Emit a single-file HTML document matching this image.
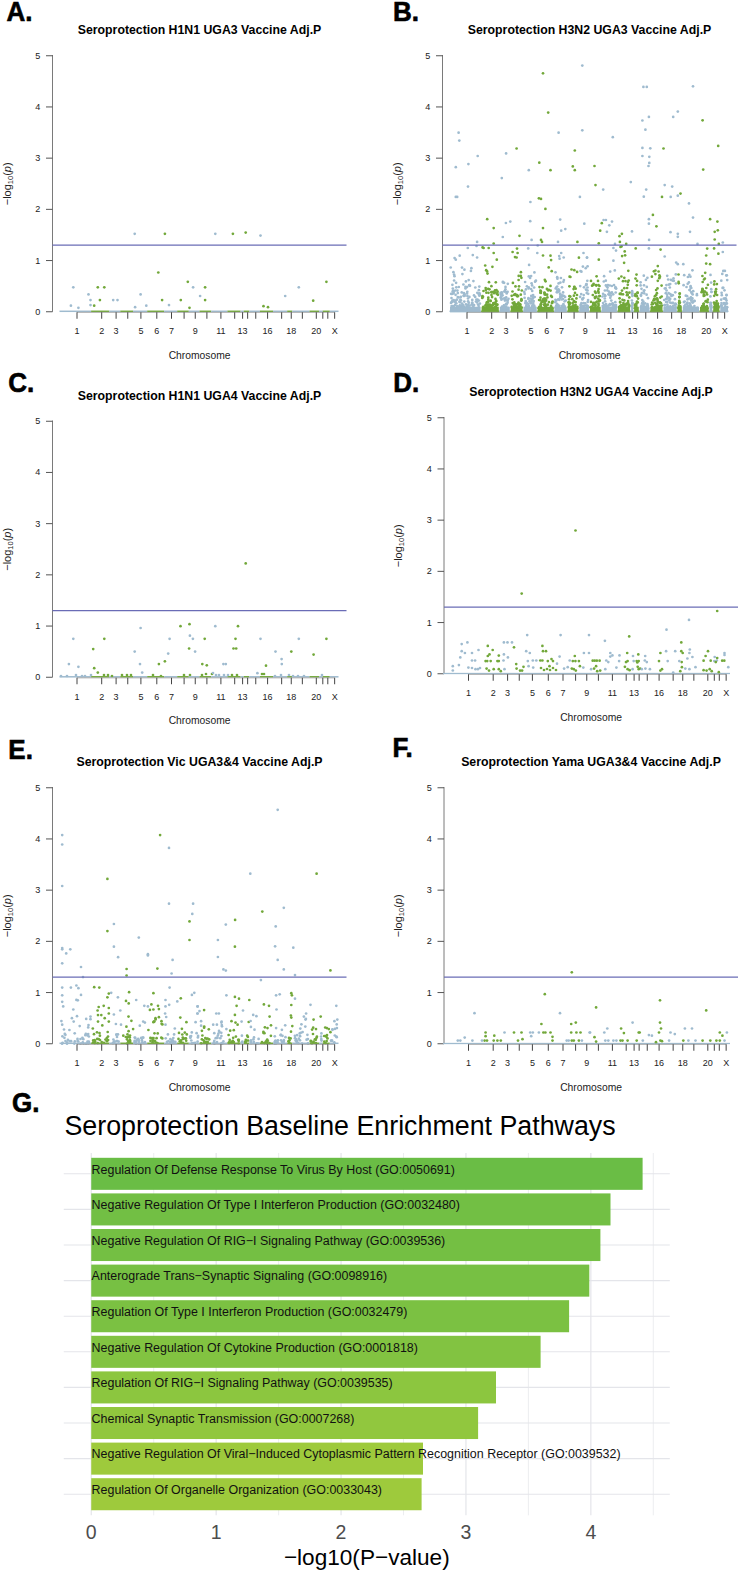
<!DOCTYPE html><html><head><meta charset="utf-8"><style>
html,body{margin:0;padding:0;background:#fff;}
svg{display:block;font-family:"Liberation Sans",sans-serif;}
.lab{font-size:26px;font-weight:700;fill:#000;stroke:#000;stroke-width:0.6px;}
.ttl{font-size:12.3px;font-weight:700;fill:#000;}
.tk{font-size:9.1px;fill:#222;}
.tk2{font-size:9px;fill:#222;}
.xl{font-size:10.3px;fill:#222;}
.yl{font-size:11px;fill:#222;}
.gt{font-size:26.8px;fill:#000;}
.bl{font-size:12.45px;fill:#111;}
.gx{font-size:19.5px;fill:#4d4d4d;}
.gxl{font-size:22.6px;fill:#000;}
</style></head><body><svg width="740" height="1573" viewBox="0 0 740 1573">
<text transform="translate(6.60,20.70) scale(1,1.07)" class="lab">A.</text>
<text x="199.5" y="34.3" class="ttl" text-anchor="middle">Seroprotection H1N1 UGA3 Vaccine Adj.P</text>
<line x1="52.5" y1="55" x2="52.5" y2="311.75" stroke="#7a7a7a" stroke-width="1"/>
<line x1="46.0" y1="311.75" x2="52.5" y2="311.75" stroke="#555" stroke-width="1"/>
<text x="37.7" y="314.75" class="tk" text-anchor="middle">0</text>
<line x1="46.0" y1="260.55" x2="52.5" y2="260.55" stroke="#555" stroke-width="1"/>
<text x="37.7" y="263.55" class="tk" text-anchor="middle">1</text>
<line x1="46.0" y1="209.35" x2="52.5" y2="209.35" stroke="#555" stroke-width="1"/>
<text x="37.7" y="212.35" class="tk" text-anchor="middle">2</text>
<line x1="46.0" y1="158.15" x2="52.5" y2="158.15" stroke="#555" stroke-width="1"/>
<text x="37.7" y="161.15" class="tk" text-anchor="middle">3</text>
<line x1="46.0" y1="106.95" x2="52.5" y2="106.95" stroke="#555" stroke-width="1"/>
<text x="37.7" y="109.95" class="tk" text-anchor="middle">4</text>
<line x1="46.0" y1="55.75" x2="52.5" y2="55.75" stroke="#555" stroke-width="1"/>
<text x="37.7" y="58.75" class="tk" text-anchor="middle">5</text>
<text transform="translate(10.7,183.8) rotate(-90)" class="yl" text-anchor="middle">−log<tspan font-size="7.5" dy="2.2">10</tspan><tspan dy="-2.2">(</tspan><tspan font-style="italic">p</tspan>)</text>
<rect x="59.50" y="310.55" width="31.60" height="1.5" fill="#9fbbcf"/>
<rect x="91.10" y="310.55" width="18.20" height="1.5" fill="#72a83a"/>
<rect x="109.30" y="310.55" width="11.00" height="1.5" fill="#9fbbcf"/>
<rect x="120.30" y="310.55" width="12.70" height="1.5" fill="#72a83a"/>
<rect x="133.00" y="310.55" width="14.20" height="1.5" fill="#9fbbcf"/>
<rect x="147.20" y="310.55" width="16.90" height="1.5" fill="#72a83a"/>
<rect x="164.10" y="310.55" width="13.10" height="1.5" fill="#9fbbcf"/>
<rect x="177.20" y="310.55" width="11.60" height="1.5" fill="#72a83a"/>
<rect x="188.80" y="310.55" width="10.70" height="1.5" fill="#9fbbcf"/>
<rect x="199.50" y="310.55" width="11.70" height="1.5" fill="#72a83a"/>
<rect x="211.20" y="310.55" width="16.20" height="1.5" fill="#9fbbcf"/>
<rect x="227.40" y="310.55" width="13.20" height="1.5" fill="#72a83a"/>
<rect x="240.60" y="310.55" width="3.10" height="1.5" fill="#9fbbcf"/>
<rect x="243.70" y="310.55" width="5.60" height="1.5" fill="#72a83a"/>
<rect x="249.30" y="310.55" width="10.60" height="1.5" fill="#9fbbcf"/>
<rect x="259.90" y="310.55" width="13.10" height="1.5" fill="#72a83a"/>
<rect x="273.00" y="310.55" width="14.20" height="1.5" fill="#9fbbcf"/>
<rect x="287.20" y="310.55" width="5.10" height="1.5" fill="#72a83a"/>
<rect x="292.30" y="310.55" width="17.20" height="1.5" fill="#9fbbcf"/>
<rect x="309.50" y="310.55" width="9.60" height="1.5" fill="#72a83a"/>
<rect x="319.10" y="310.55" width="3.60" height="1.5" fill="#9fbbcf"/>
<rect x="322.70" y="310.55" width="7.10" height="1.5" fill="#72a83a"/>
<rect x="329.80" y="310.55" width="8.70" height="1.5" fill="#9fbbcf"/>
<circle cx="73.3" cy="287.3" r="1.35" fill="#9fbbcf"/>
<circle cx="70.9" cy="305.7" r="1.35" fill="#9fbbcf"/>
<circle cx="78.4" cy="307.8" r="1.35" fill="#9fbbcf"/>
<circle cx="88.5" cy="294.4" r="1.35" fill="#9fbbcf"/>
<circle cx="90.5" cy="300.1" r="1.35" fill="#9fbbcf"/>
<circle cx="90.5" cy="305.1" r="1.35" fill="#9fbbcf"/>
<circle cx="94.2" cy="305.7" r="1.35" fill="#72a83a"/>
<circle cx="97.8" cy="287.3" r="1.35" fill="#72a83a"/>
<circle cx="99.9" cy="300.1" r="1.35" fill="#72a83a"/>
<circle cx="104.3" cy="287.3" r="1.35" fill="#72a83a"/>
<circle cx="113.2" cy="300.1" r="1.35" fill="#9fbbcf"/>
<circle cx="117.5" cy="300.1" r="1.35" fill="#9fbbcf"/>
<circle cx="134.7" cy="233.8" r="1.35" fill="#9fbbcf"/>
<circle cx="135.1" cy="307.2" r="1.35" fill="#9fbbcf"/>
<circle cx="140.6" cy="294.4" r="1.35" fill="#9fbbcf"/>
<circle cx="146.3" cy="305.7" r="1.35" fill="#9fbbcf"/>
<circle cx="158.3" cy="272.5" r="1.35" fill="#72a83a"/>
<circle cx="164.9" cy="233.8" r="1.35" fill="#72a83a"/>
<circle cx="162.1" cy="300.1" r="1.35" fill="#72a83a"/>
<circle cx="169.0" cy="305.1" r="1.35" fill="#9fbbcf"/>
<circle cx="180.8" cy="300.1" r="1.35" fill="#72a83a"/>
<circle cx="187.8" cy="281.8" r="1.35" fill="#72a83a"/>
<circle cx="189.5" cy="307.8" r="1.35" fill="#72a83a"/>
<circle cx="193.1" cy="287.3" r="1.35" fill="#9fbbcf"/>
<circle cx="200.1" cy="296.0" r="1.35" fill="#9fbbcf"/>
<circle cx="205.1" cy="287.3" r="1.35" fill="#72a83a"/>
<circle cx="205.1" cy="300.1" r="1.35" fill="#72a83a"/>
<circle cx="215.3" cy="233.8" r="1.35" fill="#9fbbcf"/>
<circle cx="232.9" cy="233.8" r="1.35" fill="#72a83a"/>
<circle cx="245.7" cy="232.6" r="1.35" fill="#72a83a"/>
<circle cx="260.5" cy="235.6" r="1.35" fill="#9fbbcf"/>
<circle cx="263.5" cy="306.2" r="1.35" fill="#72a83a"/>
<circle cx="268.0" cy="307.2" r="1.35" fill="#72a83a"/>
<circle cx="285.2" cy="296.0" r="1.35" fill="#9fbbcf"/>
<circle cx="298.8" cy="287.3" r="1.35" fill="#9fbbcf"/>
<circle cx="313.2" cy="300.7" r="1.35" fill="#72a83a"/>
<circle cx="326.4" cy="281.8" r="1.35" fill="#72a83a"/>
<line x1="52.5" y1="245.14" x2="346.5" y2="245.14" stroke="#6a6cb6" stroke-width="1.4"/>
<line x1="77" y1="312.35" x2="334.65" y2="312.35" stroke="#999" stroke-width="0.8"/>
<line x1="77" y1="312.25" x2="77" y2="318.75" stroke="#444" stroke-width="1"/>
<text x="77" y="334.05" class="tk2" text-anchor="middle">1</text>
<line x1="101.7" y1="312.25" x2="101.7" y2="318.75" stroke="#444" stroke-width="1"/>
<text x="101.7" y="334.05" class="tk2" text-anchor="middle">2</text>
<line x1="116.1" y1="312.25" x2="116.1" y2="318.75" stroke="#444" stroke-width="1"/>
<text x="116.1" y="334.05" class="tk2" text-anchor="middle">3</text>
<line x1="127.75" y1="312.25" x2="127.75" y2="318.75" stroke="#444" stroke-width="1"/>
<line x1="140.9" y1="312.25" x2="140.9" y2="318.75" stroke="#444" stroke-width="1"/>
<text x="140.9" y="334.05" class="tk2" text-anchor="middle">5</text>
<line x1="156.8" y1="312.25" x2="156.8" y2="318.75" stroke="#444" stroke-width="1"/>
<text x="156.8" y="334.05" class="tk2" text-anchor="middle">6</text>
<line x1="171.5" y1="312.25" x2="171.5" y2="318.75" stroke="#444" stroke-width="1"/>
<text x="171.5" y="334.05" class="tk2" text-anchor="middle">7</text>
<line x1="184.1" y1="312.25" x2="184.1" y2="318.75" stroke="#444" stroke-width="1"/>
<line x1="195.25" y1="312.25" x2="195.25" y2="318.75" stroke="#444" stroke-width="1"/>
<text x="195.25" y="334.05" class="tk2" text-anchor="middle">9</text>
<line x1="206.9" y1="312.25" x2="206.9" y2="318.75" stroke="#444" stroke-width="1"/>
<line x1="220.9" y1="312.25" x2="220.9" y2="318.75" stroke="#444" stroke-width="1"/>
<text x="220.9" y="334.05" class="tk2" text-anchor="middle">11</text>
<line x1="234.7" y1="312.25" x2="234.7" y2="318.75" stroke="#444" stroke-width="1"/>
<line x1="242.6" y1="312.25" x2="242.6" y2="318.75" stroke="#444" stroke-width="1"/>
<text x="242.6" y="334.05" class="tk2" text-anchor="middle">13</text>
<line x1="247.65" y1="312.25" x2="247.65" y2="318.75" stroke="#444" stroke-width="1"/>
<line x1="255.75" y1="312.25" x2="255.75" y2="318.75" stroke="#444" stroke-width="1"/>
<line x1="267.6" y1="312.25" x2="267.6" y2="318.75" stroke="#444" stroke-width="1"/>
<text x="267.6" y="334.05" class="tk2" text-anchor="middle">16</text>
<line x1="281.65" y1="312.25" x2="281.65" y2="318.75" stroke="#444" stroke-width="1"/>
<line x1="291.25" y1="312.25" x2="291.25" y2="318.75" stroke="#444" stroke-width="1"/>
<text x="291.25" y="334.05" class="tk2" text-anchor="middle">18</text>
<line x1="302.35" y1="312.25" x2="302.35" y2="318.75" stroke="#444" stroke-width="1"/>
<line x1="316.3" y1="312.25" x2="316.3" y2="318.75" stroke="#444" stroke-width="1"/>
<text x="316.3" y="334.05" class="tk2" text-anchor="middle">20</text>
<line x1="322.8" y1="312.25" x2="322.8" y2="318.75" stroke="#444" stroke-width="1"/>
<line x1="327.8" y1="312.25" x2="327.8" y2="318.75" stroke="#444" stroke-width="1"/>
<line x1="334.65" y1="312.25" x2="334.65" y2="318.75" stroke="#444" stroke-width="1"/>
<text x="334.65" y="334.05" class="tk2" text-anchor="middle">X</text>
<text x="199.6" y="358.75" class="xl" text-anchor="middle">Chromosome</text>
<rect x="450.00" y="306.75" width="30.60" height="5.60" fill="#9fbbcf"/>
<rect x="481.60" y="306.75" width="17.20" height="5.60" fill="#72a83a"/>
<rect x="499.80" y="306.75" width="10.00" height="5.60" fill="#9fbbcf"/>
<rect x="510.80" y="306.75" width="11.70" height="5.60" fill="#72a83a"/>
<rect x="523.50" y="306.75" width="13.20" height="5.60" fill="#9fbbcf"/>
<rect x="537.70" y="306.75" width="15.90" height="5.60" fill="#72a83a"/>
<rect x="554.60" y="306.75" width="12.10" height="5.60" fill="#9fbbcf"/>
<rect x="567.70" y="306.75" width="10.60" height="5.60" fill="#72a83a"/>
<rect x="579.30" y="306.75" width="9.70" height="5.60" fill="#9fbbcf"/>
<rect x="590.00" y="306.75" width="10.70" height="5.60" fill="#72a83a"/>
<rect x="601.70" y="306.75" width="15.20" height="5.60" fill="#9fbbcf"/>
<rect x="617.90" y="306.75" width="12.20" height="5.60" fill="#72a83a"/>
<rect x="631.10" y="306.75" width="2.10" height="5.60" fill="#9fbbcf"/>
<rect x="634.20" y="306.75" width="4.60" height="5.60" fill="#72a83a"/>
<rect x="639.80" y="306.75" width="9.60" height="5.60" fill="#9fbbcf"/>
<rect x="650.40" y="306.75" width="12.10" height="5.60" fill="#72a83a"/>
<rect x="663.50" y="306.75" width="13.20" height="5.60" fill="#9fbbcf"/>
<rect x="677.70" y="306.75" width="4.10" height="5.60" fill="#72a83a"/>
<rect x="682.80" y="306.75" width="16.20" height="5.60" fill="#9fbbcf"/>
<rect x="700.00" y="306.75" width="8.60" height="5.60" fill="#72a83a"/>
<rect x="709.60" y="306.75" width="2.60" height="5.60" fill="#9fbbcf"/>
<rect x="713.20" y="306.75" width="6.10" height="5.60" fill="#72a83a"/>
<rect x="720.30" y="306.75" width="7.70" height="5.60" fill="#9fbbcf"/>
<text transform="translate(393.00,20.70) scale(1,1.07)" class="lab">B.</text>
<text x="589.5" y="34.3" class="ttl" text-anchor="middle">Seroprotection H3N2 UGA3 Vaccine Adj.P</text>
<line x1="442.5" y1="55" x2="442.5" y2="311.75" stroke="#7a7a7a" stroke-width="1"/>
<line x1="436.0" y1="311.75" x2="442.5" y2="311.75" stroke="#555" stroke-width="1"/>
<text x="427.7" y="314.75" class="tk" text-anchor="middle">0</text>
<line x1="436.0" y1="260.55" x2="442.5" y2="260.55" stroke="#555" stroke-width="1"/>
<text x="427.7" y="263.55" class="tk" text-anchor="middle">1</text>
<line x1="436.0" y1="209.35" x2="442.5" y2="209.35" stroke="#555" stroke-width="1"/>
<text x="427.7" y="212.35" class="tk" text-anchor="middle">2</text>
<line x1="436.0" y1="158.15" x2="442.5" y2="158.15" stroke="#555" stroke-width="1"/>
<text x="427.7" y="161.15" class="tk" text-anchor="middle">3</text>
<line x1="436.0" y1="106.95" x2="442.5" y2="106.95" stroke="#555" stroke-width="1"/>
<text x="427.7" y="109.95" class="tk" text-anchor="middle">4</text>
<line x1="436.0" y1="55.75" x2="442.5" y2="55.75" stroke="#555" stroke-width="1"/>
<text x="427.7" y="58.75" class="tk" text-anchor="middle">5</text>
<text transform="translate(400.7,183.8) rotate(-90)" class="yl" text-anchor="middle">−log<tspan font-size="7.5" dy="2.2">10</tspan><tspan dy="-2.2">(</tspan><tspan font-style="italic">p</tspan>)</text>
<rect x="449.50" y="310.55" width="31.60" height="1.5" fill="#9fbbcf"/>
<rect x="481.10" y="310.55" width="18.20" height="1.5" fill="#72a83a"/>
<rect x="499.30" y="310.55" width="11.00" height="1.5" fill="#9fbbcf"/>
<rect x="510.30" y="310.55" width="12.70" height="1.5" fill="#72a83a"/>
<rect x="523.00" y="310.55" width="14.20" height="1.5" fill="#9fbbcf"/>
<rect x="537.20" y="310.55" width="16.90" height="1.5" fill="#72a83a"/>
<rect x="554.10" y="310.55" width="13.10" height="1.5" fill="#9fbbcf"/>
<rect x="567.20" y="310.55" width="11.60" height="1.5" fill="#72a83a"/>
<rect x="578.80" y="310.55" width="10.70" height="1.5" fill="#9fbbcf"/>
<rect x="589.50" y="310.55" width="11.70" height="1.5" fill="#72a83a"/>
<rect x="601.20" y="310.55" width="16.20" height="1.5" fill="#9fbbcf"/>
<rect x="617.40" y="310.55" width="13.20" height="1.5" fill="#72a83a"/>
<rect x="630.60" y="310.55" width="3.10" height="1.5" fill="#9fbbcf"/>
<rect x="633.70" y="310.55" width="5.60" height="1.5" fill="#72a83a"/>
<rect x="639.30" y="310.55" width="10.60" height="1.5" fill="#9fbbcf"/>
<rect x="649.90" y="310.55" width="13.10" height="1.5" fill="#72a83a"/>
<rect x="663.00" y="310.55" width="14.20" height="1.5" fill="#9fbbcf"/>
<rect x="677.20" y="310.55" width="5.10" height="1.5" fill="#72a83a"/>
<rect x="682.30" y="310.55" width="17.20" height="1.5" fill="#9fbbcf"/>
<rect x="699.50" y="310.55" width="9.60" height="1.5" fill="#72a83a"/>
<rect x="709.10" y="310.55" width="3.60" height="1.5" fill="#9fbbcf"/>
<rect x="712.70" y="310.55" width="7.10" height="1.5" fill="#72a83a"/>
<rect x="719.80" y="310.55" width="8.70" height="1.5" fill="#9fbbcf"/>
<circle cx="582.3" cy="65.6" r="1.35" fill="#9fbbcf"/>
<circle cx="543.0" cy="73.3" r="1.35" fill="#72a83a"/>
<circle cx="548.2" cy="112.6" r="1.35" fill="#72a83a"/>
<circle cx="458.6" cy="132.7" r="1.35" fill="#9fbbcf"/>
<circle cx="459.3" cy="140.6" r="1.35" fill="#9fbbcf"/>
<circle cx="558.6" cy="132.7" r="1.35" fill="#9fbbcf"/>
<circle cx="582.3" cy="130.3" r="1.35" fill="#9fbbcf"/>
<circle cx="516.6" cy="148.5" r="1.35" fill="#72a83a"/>
<circle cx="574.8" cy="150.5" r="1.35" fill="#72a83a"/>
<circle cx="477.7" cy="156.0" r="1.35" fill="#9fbbcf"/>
<circle cx="506.1" cy="153.4" r="1.35" fill="#9fbbcf"/>
<circle cx="468.4" cy="164.1" r="1.35" fill="#9fbbcf"/>
<circle cx="455.8" cy="167.2" r="1.35" fill="#9fbbcf"/>
<circle cx="539.3" cy="162.7" r="1.35" fill="#72a83a"/>
<circle cx="572.8" cy="166.4" r="1.35" fill="#72a83a"/>
<circle cx="550.5" cy="170.2" r="1.35" fill="#72a83a"/>
<circle cx="574.8" cy="170.2" r="1.35" fill="#72a83a"/>
<circle cx="528.8" cy="170.2" r="1.35" fill="#9fbbcf"/>
<circle cx="501.8" cy="178.1" r="1.35" fill="#9fbbcf"/>
<circle cx="643.4" cy="86.9" r="1.35" fill="#9fbbcf"/>
<circle cx="646.8" cy="86.9" r="1.35" fill="#9fbbcf"/>
<circle cx="693.0" cy="86.3" r="1.35" fill="#9fbbcf"/>
<circle cx="677.8" cy="111.6" r="1.35" fill="#9fbbcf"/>
<circle cx="673.2" cy="116.9" r="1.35" fill="#9fbbcf"/>
<circle cx="648.9" cy="116.9" r="1.35" fill="#9fbbcf"/>
<circle cx="642.4" cy="120.5" r="1.35" fill="#9fbbcf"/>
<circle cx="702.6" cy="120.3" r="1.35" fill="#72a83a"/>
<circle cx="645.4" cy="129.7" r="1.35" fill="#9fbbcf"/>
<circle cx="612.8" cy="137.2" r="1.35" fill="#9fbbcf"/>
<circle cx="642.4" cy="147.9" r="1.35" fill="#9fbbcf"/>
<circle cx="650.3" cy="148.3" r="1.35" fill="#9fbbcf"/>
<circle cx="663.5" cy="148.5" r="1.35" fill="#72a83a"/>
<circle cx="718.2" cy="145.9" r="1.35" fill="#72a83a"/>
<circle cx="642.4" cy="156.0" r="1.35" fill="#9fbbcf"/>
<circle cx="649.3" cy="156.8" r="1.35" fill="#9fbbcf"/>
<circle cx="649.3" cy="162.9" r="1.35" fill="#9fbbcf"/>
<circle cx="648.5" cy="166.0" r="1.35" fill="#9fbbcf"/>
<circle cx="594.5" cy="166.0" r="1.35" fill="#72a83a"/>
<circle cx="703.2" cy="169.6" r="1.35" fill="#72a83a"/>
<circle cx="468.0" cy="186.6" r="1.35" fill="#9fbbcf"/>
<circle cx="455.8" cy="196.9" r="1.35" fill="#9fbbcf"/>
<circle cx="457.2" cy="196.9" r="1.35" fill="#9fbbcf"/>
<circle cx="530.4" cy="202.0" r="1.35" fill="#9fbbcf"/>
<circle cx="538.9" cy="198.3" r="1.35" fill="#72a83a"/>
<circle cx="541.0" cy="198.9" r="1.35" fill="#72a83a"/>
<circle cx="545.4" cy="208.9" r="1.35" fill="#72a83a"/>
<circle cx="579.9" cy="196.9" r="1.35" fill="#9fbbcf"/>
<circle cx="487.2" cy="219.2" r="1.35" fill="#72a83a"/>
<circle cx="505.9" cy="223.0" r="1.35" fill="#9fbbcf"/>
<circle cx="510.3" cy="221.6" r="1.35" fill="#9fbbcf"/>
<circle cx="530.2" cy="221.2" r="1.35" fill="#9fbbcf"/>
<circle cx="560.2" cy="219.6" r="1.35" fill="#9fbbcf"/>
<circle cx="584.3" cy="223.7" r="1.35" fill="#9fbbcf"/>
<circle cx="493.7" cy="228.1" r="1.35" fill="#72a83a"/>
<circle cx="543.0" cy="228.1" r="1.35" fill="#72a83a"/>
<circle cx="561.2" cy="230.7" r="1.35" fill="#9fbbcf"/>
<circle cx="565.3" cy="229.1" r="1.35" fill="#9fbbcf"/>
<circle cx="519.5" cy="235.8" r="1.35" fill="#72a83a"/>
<circle cx="502.8" cy="237.0" r="1.35" fill="#9fbbcf"/>
<circle cx="531.6" cy="239.9" r="1.35" fill="#9fbbcf"/>
<circle cx="541.0" cy="239.9" r="1.35" fill="#72a83a"/>
<circle cx="542.0" cy="241.9" r="1.35" fill="#72a83a"/>
<circle cx="477.1" cy="241.9" r="1.35" fill="#9fbbcf"/>
<circle cx="558.0" cy="241.9" r="1.35" fill="#9fbbcf"/>
<circle cx="577.4" cy="241.9" r="1.35" fill="#72a83a"/>
<circle cx="493.7" cy="243.5" r="1.35" fill="#72a83a"/>
<circle cx="476.5" cy="246.0" r="1.35" fill="#9fbbcf"/>
<circle cx="467.8" cy="248.0" r="1.35" fill="#9fbbcf"/>
<circle cx="482.6" cy="247.4" r="1.35" fill="#72a83a"/>
<circle cx="483.6" cy="248.0" r="1.35" fill="#72a83a"/>
<circle cx="488.7" cy="248.0" r="1.35" fill="#72a83a"/>
<circle cx="528.2" cy="248.4" r="1.35" fill="#9fbbcf"/>
<circle cx="537.7" cy="245.5" r="1.35" fill="#9fbbcf"/>
<circle cx="517.0" cy="248.6" r="1.35" fill="#72a83a"/>
<circle cx="512.6" cy="252.0" r="1.35" fill="#72a83a"/>
<circle cx="517.6" cy="253.0" r="1.35" fill="#72a83a"/>
<circle cx="493.7" cy="253.0" r="1.35" fill="#72a83a"/>
<circle cx="537.3" cy="253.0" r="1.35" fill="#9fbbcf"/>
<circle cx="561.2" cy="253.0" r="1.35" fill="#9fbbcf"/>
<circle cx="583.5" cy="253.0" r="1.35" fill="#9fbbcf"/>
<circle cx="459.7" cy="255.7" r="1.35" fill="#9fbbcf"/>
<circle cx="472.8" cy="255.1" r="1.35" fill="#9fbbcf"/>
<circle cx="543.0" cy="255.5" r="1.35" fill="#72a83a"/>
<circle cx="550.5" cy="255.7" r="1.35" fill="#72a83a"/>
<circle cx="559.2" cy="256.1" r="1.35" fill="#9fbbcf"/>
<circle cx="515.0" cy="257.1" r="1.35" fill="#72a83a"/>
<circle cx="516.6" cy="257.5" r="1.35" fill="#72a83a"/>
<circle cx="454.6" cy="258.1" r="1.35" fill="#9fbbcf"/>
<circle cx="455.8" cy="259.7" r="1.35" fill="#9fbbcf"/>
<circle cx="477.1" cy="257.5" r="1.35" fill="#9fbbcf"/>
<circle cx="563.7" cy="257.5" r="1.35" fill="#9fbbcf"/>
<circle cx="587.0" cy="257.5" r="1.35" fill="#9fbbcf"/>
<circle cx="496.8" cy="259.7" r="1.35" fill="#72a83a"/>
<circle cx="551.1" cy="260.1" r="1.35" fill="#72a83a"/>
<circle cx="578.9" cy="257.7" r="1.35" fill="#72a83a"/>
<circle cx="559.6" cy="258.7" r="1.35" fill="#9fbbcf"/>
<circle cx="595.5" cy="185.1" r="1.35" fill="#72a83a"/>
<circle cx="603.2" cy="189.6" r="1.35" fill="#9fbbcf"/>
<circle cx="630.8" cy="182.1" r="1.35" fill="#9fbbcf"/>
<circle cx="646.2" cy="189.6" r="1.35" fill="#9fbbcf"/>
<circle cx="643.8" cy="196.7" r="1.35" fill="#9fbbcf"/>
<circle cx="664.7" cy="185.1" r="1.35" fill="#9fbbcf"/>
<circle cx="672.2" cy="186.6" r="1.35" fill="#9fbbcf"/>
<circle cx="662.0" cy="196.9" r="1.35" fill="#72a83a"/>
<circle cx="670.7" cy="196.9" r="1.35" fill="#9fbbcf"/>
<circle cx="677.8" cy="195.7" r="1.35" fill="#9fbbcf"/>
<circle cx="680.5" cy="193.6" r="1.35" fill="#72a83a"/>
<circle cx="689.0" cy="203.4" r="1.35" fill="#9fbbcf"/>
<circle cx="652.9" cy="214.9" r="1.35" fill="#72a83a"/>
<circle cx="693.0" cy="217.6" r="1.35" fill="#9fbbcf"/>
<circle cx="603.6" cy="220.0" r="1.35" fill="#9fbbcf"/>
<circle cx="605.9" cy="220.0" r="1.35" fill="#9fbbcf"/>
<circle cx="612.0" cy="221.6" r="1.35" fill="#9fbbcf"/>
<circle cx="609.3" cy="225.3" r="1.35" fill="#9fbbcf"/>
<circle cx="601.8" cy="223.2" r="1.35" fill="#72a83a"/>
<circle cx="648.9" cy="219.2" r="1.35" fill="#9fbbcf"/>
<circle cx="648.9" cy="223.7" r="1.35" fill="#9fbbcf"/>
<circle cx="656.4" cy="226.3" r="1.35" fill="#72a83a"/>
<circle cx="710.1" cy="219.2" r="1.35" fill="#72a83a"/>
<circle cx="717.4" cy="221.6" r="1.35" fill="#72a83a"/>
<circle cx="600.2" cy="230.7" r="1.35" fill="#72a83a"/>
<circle cx="606.9" cy="231.8" r="1.35" fill="#9fbbcf"/>
<circle cx="632.0" cy="231.4" r="1.35" fill="#9fbbcf"/>
<circle cx="670.5" cy="232.2" r="1.35" fill="#9fbbcf"/>
<circle cx="677.8" cy="233.8" r="1.35" fill="#9fbbcf"/>
<circle cx="677.8" cy="236.8" r="1.35" fill="#9fbbcf"/>
<circle cx="690.0" cy="231.8" r="1.35" fill="#9fbbcf"/>
<circle cx="714.7" cy="231.8" r="1.35" fill="#72a83a"/>
<circle cx="717.8" cy="230.3" r="1.35" fill="#72a83a"/>
<circle cx="621.9" cy="233.8" r="1.35" fill="#72a83a"/>
<circle cx="619.5" cy="236.2" r="1.35" fill="#72a83a"/>
<circle cx="619.9" cy="241.9" r="1.35" fill="#72a83a"/>
<circle cx="649.1" cy="239.9" r="1.35" fill="#9fbbcf"/>
<circle cx="714.7" cy="239.5" r="1.35" fill="#72a83a"/>
<circle cx="598.8" cy="243.3" r="1.35" fill="#72a83a"/>
<circle cx="626.2" cy="243.9" r="1.35" fill="#72a83a"/>
<circle cx="615.0" cy="243.9" r="1.35" fill="#9fbbcf"/>
<circle cx="697.5" cy="243.9" r="1.35" fill="#9fbbcf"/>
<circle cx="718.8" cy="243.9" r="1.35" fill="#72a83a"/>
<circle cx="722.8" cy="242.5" r="1.35" fill="#9fbbcf"/>
<circle cx="613.4" cy="248.0" r="1.35" fill="#9fbbcf"/>
<circle cx="616.0" cy="250.6" r="1.35" fill="#9fbbcf"/>
<circle cx="620.5" cy="247.0" r="1.35" fill="#72a83a"/>
<circle cx="621.5" cy="246.4" r="1.35" fill="#72a83a"/>
<circle cx="624.7" cy="251.4" r="1.35" fill="#72a83a"/>
<circle cx="635.7" cy="248.4" r="1.35" fill="#72a83a"/>
<circle cx="648.9" cy="248.4" r="1.35" fill="#9fbbcf"/>
<circle cx="660.6" cy="249.6" r="1.35" fill="#72a83a"/>
<circle cx="707.2" cy="248.6" r="1.35" fill="#72a83a"/>
<circle cx="714.1" cy="248.4" r="1.35" fill="#72a83a"/>
<circle cx="722.8" cy="252.0" r="1.35" fill="#9fbbcf"/>
<circle cx="718.4" cy="253.7" r="1.35" fill="#72a83a"/>
<circle cx="622.1" cy="256.1" r="1.35" fill="#72a83a"/>
<circle cx="625.1" cy="255.3" r="1.35" fill="#72a83a"/>
<circle cx="587.0" cy="257.7" r="1.35" fill="#9fbbcf"/>
<circle cx="664.7" cy="256.5" r="1.35" fill="#9fbbcf"/>
<circle cx="706.2" cy="255.5" r="1.35" fill="#72a83a"/>
<circle cx="598.8" cy="259.7" r="1.35" fill="#72a83a"/>
<circle cx="613.4" cy="260.7" r="1.35" fill="#9fbbcf"/>
<circle cx="624.1" cy="262.8" r="1.35" fill="#72a83a"/>
<circle cx="676.2" cy="262.6" r="1.35" fill="#9fbbcf"/>
<circle cx="677.8" cy="264.2" r="1.35" fill="#9fbbcf"/>
<circle cx="683.3" cy="264.2" r="1.35" fill="#9fbbcf"/>
<circle cx="706.2" cy="263.6" r="1.35" fill="#72a83a"/>
<circle cx="710.1" cy="264.2" r="1.35" fill="#72a83a"/>
<circle cx="466.6" cy="306.7" r="1.35" fill="#9fbbcf"/>
<circle cx="468.3" cy="305.4" r="1.35" fill="#9fbbcf"/>
<circle cx="452.6" cy="301.6" r="1.35" fill="#9fbbcf"/>
<circle cx="475.2" cy="308.6" r="1.35" fill="#9fbbcf"/>
<circle cx="457.5" cy="306.5" r="1.35" fill="#9fbbcf"/>
<circle cx="464.4" cy="269.7" r="1.35" fill="#9fbbcf"/>
<circle cx="464.6" cy="295.7" r="1.35" fill="#9fbbcf"/>
<circle cx="455.1" cy="301.4" r="1.35" fill="#9fbbcf"/>
<circle cx="476.0" cy="301.5" r="1.35" fill="#9fbbcf"/>
<circle cx="472.3" cy="303.4" r="1.35" fill="#9fbbcf"/>
<circle cx="452.6" cy="300.7" r="1.35" fill="#9fbbcf"/>
<circle cx="468.0" cy="298.5" r="1.35" fill="#9fbbcf"/>
<circle cx="451.6" cy="306.1" r="1.35" fill="#9fbbcf"/>
<circle cx="464.5" cy="294.3" r="1.35" fill="#9fbbcf"/>
<circle cx="476.4" cy="299.6" r="1.35" fill="#9fbbcf"/>
<circle cx="477.6" cy="299.7" r="1.35" fill="#9fbbcf"/>
<circle cx="474.1" cy="305.1" r="1.35" fill="#9fbbcf"/>
<circle cx="478.0" cy="304.5" r="1.35" fill="#9fbbcf"/>
<circle cx="453.5" cy="293.5" r="1.35" fill="#9fbbcf"/>
<circle cx="457.0" cy="307.6" r="1.35" fill="#9fbbcf"/>
<circle cx="463.4" cy="284.5" r="1.35" fill="#9fbbcf"/>
<circle cx="459.5" cy="301.6" r="1.35" fill="#9fbbcf"/>
<circle cx="462.0" cy="303.6" r="1.35" fill="#9fbbcf"/>
<circle cx="467.8" cy="305.6" r="1.35" fill="#9fbbcf"/>
<circle cx="477.1" cy="302.4" r="1.35" fill="#9fbbcf"/>
<circle cx="477.8" cy="300.5" r="1.35" fill="#9fbbcf"/>
<circle cx="479.6" cy="294.8" r="1.35" fill="#9fbbcf"/>
<circle cx="455.5" cy="300.7" r="1.35" fill="#9fbbcf"/>
<circle cx="478.9" cy="294.6" r="1.35" fill="#9fbbcf"/>
<circle cx="467.3" cy="291.8" r="1.35" fill="#9fbbcf"/>
<circle cx="456.9" cy="299.7" r="1.35" fill="#9fbbcf"/>
<circle cx="467.4" cy="295.9" r="1.35" fill="#9fbbcf"/>
<circle cx="452.6" cy="306.3" r="1.35" fill="#9fbbcf"/>
<circle cx="479.6" cy="294.9" r="1.35" fill="#9fbbcf"/>
<circle cx="474.1" cy="308.0" r="1.35" fill="#9fbbcf"/>
<circle cx="455.1" cy="304.9" r="1.35" fill="#9fbbcf"/>
<circle cx="473.1" cy="306.2" r="1.35" fill="#9fbbcf"/>
<circle cx="452.0" cy="293.9" r="1.35" fill="#9fbbcf"/>
<circle cx="452.0" cy="301.8" r="1.35" fill="#9fbbcf"/>
<circle cx="460.4" cy="299.6" r="1.35" fill="#9fbbcf"/>
<circle cx="479.3" cy="293.4" r="1.35" fill="#9fbbcf"/>
<circle cx="479.9" cy="303.6" r="1.35" fill="#9fbbcf"/>
<circle cx="452.9" cy="306.0" r="1.35" fill="#9fbbcf"/>
<circle cx="451.6" cy="302.1" r="1.35" fill="#9fbbcf"/>
<circle cx="462.6" cy="307.1" r="1.35" fill="#9fbbcf"/>
<circle cx="455.3" cy="301.9" r="1.35" fill="#9fbbcf"/>
<circle cx="476.0" cy="308.4" r="1.35" fill="#9fbbcf"/>
<circle cx="478.7" cy="306.0" r="1.35" fill="#9fbbcf"/>
<circle cx="461.7" cy="292.4" r="1.35" fill="#9fbbcf"/>
<circle cx="465.9" cy="304.3" r="1.35" fill="#9fbbcf"/>
<circle cx="468.1" cy="301.3" r="1.35" fill="#9fbbcf"/>
<circle cx="468.8" cy="302.8" r="1.35" fill="#9fbbcf"/>
<circle cx="465.5" cy="288.4" r="1.35" fill="#9fbbcf"/>
<circle cx="471.7" cy="304.6" r="1.35" fill="#9fbbcf"/>
<circle cx="459.5" cy="306.7" r="1.35" fill="#9fbbcf"/>
<circle cx="465.9" cy="281.4" r="1.35" fill="#9fbbcf"/>
<circle cx="451.0" cy="303.0" r="1.35" fill="#9fbbcf"/>
<circle cx="467.6" cy="304.8" r="1.35" fill="#9fbbcf"/>
<circle cx="468.7" cy="308.5" r="1.35" fill="#9fbbcf"/>
<circle cx="452.5" cy="301.5" r="1.35" fill="#9fbbcf"/>
<circle cx="464.3" cy="301.6" r="1.35" fill="#9fbbcf"/>
<circle cx="461.0" cy="300.5" r="1.35" fill="#9fbbcf"/>
<circle cx="472.3" cy="299.9" r="1.35" fill="#9fbbcf"/>
<circle cx="452.5" cy="308.5" r="1.35" fill="#9fbbcf"/>
<circle cx="478.8" cy="300.6" r="1.35" fill="#9fbbcf"/>
<circle cx="464.0" cy="306.6" r="1.35" fill="#9fbbcf"/>
<circle cx="460.0" cy="302.2" r="1.35" fill="#9fbbcf"/>
<circle cx="459.8" cy="305.4" r="1.35" fill="#9fbbcf"/>
<circle cx="468.1" cy="305.4" r="1.35" fill="#9fbbcf"/>
<circle cx="461.7" cy="306.1" r="1.35" fill="#9fbbcf"/>
<circle cx="451.5" cy="298.1" r="1.35" fill="#9fbbcf"/>
<circle cx="472.2" cy="302.6" r="1.35" fill="#9fbbcf"/>
<circle cx="457.2" cy="306.0" r="1.35" fill="#9fbbcf"/>
<circle cx="457.7" cy="297.0" r="1.35" fill="#9fbbcf"/>
<circle cx="463.4" cy="307.2" r="1.35" fill="#9fbbcf"/>
<circle cx="453.7" cy="300.1" r="1.35" fill="#9fbbcf"/>
<circle cx="460.4" cy="305.9" r="1.35" fill="#9fbbcf"/>
<circle cx="463.5" cy="295.8" r="1.35" fill="#9fbbcf"/>
<circle cx="455.6" cy="294.8" r="1.35" fill="#9fbbcf"/>
<circle cx="469.7" cy="305.7" r="1.35" fill="#9fbbcf"/>
<circle cx="463.9" cy="293.2" r="1.35" fill="#9fbbcf"/>
<circle cx="454.2" cy="306.9" r="1.35" fill="#9fbbcf"/>
<circle cx="456.3" cy="303.3" r="1.35" fill="#9fbbcf"/>
<circle cx="475.2" cy="296.9" r="1.35" fill="#9fbbcf"/>
<circle cx="458.8" cy="307.2" r="1.35" fill="#9fbbcf"/>
<circle cx="469.4" cy="296.9" r="1.35" fill="#9fbbcf"/>
<circle cx="460.8" cy="296.9" r="1.35" fill="#9fbbcf"/>
<circle cx="459.2" cy="307.7" r="1.35" fill="#9fbbcf"/>
<circle cx="458.6" cy="297.4" r="1.35" fill="#9fbbcf"/>
<circle cx="462.9" cy="305.6" r="1.35" fill="#9fbbcf"/>
<circle cx="462.7" cy="304.8" r="1.35" fill="#9fbbcf"/>
<circle cx="455.3" cy="290.5" r="1.35" fill="#9fbbcf"/>
<circle cx="478.2" cy="308.6" r="1.35" fill="#9fbbcf"/>
<circle cx="479.5" cy="293.5" r="1.35" fill="#9fbbcf"/>
<circle cx="497.3" cy="304.6" r="1.35" fill="#72a83a"/>
<circle cx="485.8" cy="289.9" r="1.35" fill="#72a83a"/>
<circle cx="495.5" cy="298.9" r="1.35" fill="#72a83a"/>
<circle cx="490.5" cy="300.9" r="1.35" fill="#72a83a"/>
<circle cx="487.7" cy="306.2" r="1.35" fill="#72a83a"/>
<circle cx="483.4" cy="306.8" r="1.35" fill="#72a83a"/>
<circle cx="486.8" cy="302.3" r="1.35" fill="#72a83a"/>
<circle cx="483.0" cy="296.8" r="1.35" fill="#72a83a"/>
<circle cx="493.3" cy="291.9" r="1.35" fill="#72a83a"/>
<circle cx="496.5" cy="290.2" r="1.35" fill="#72a83a"/>
<circle cx="491.4" cy="292.2" r="1.35" fill="#72a83a"/>
<circle cx="494.1" cy="308.6" r="1.35" fill="#72a83a"/>
<circle cx="487.0" cy="307.3" r="1.35" fill="#72a83a"/>
<circle cx="490.6" cy="300.9" r="1.35" fill="#72a83a"/>
<circle cx="497.1" cy="304.9" r="1.35" fill="#72a83a"/>
<circle cx="487.7" cy="301.9" r="1.35" fill="#72a83a"/>
<circle cx="495.9" cy="306.6" r="1.35" fill="#72a83a"/>
<circle cx="494.7" cy="304.0" r="1.35" fill="#72a83a"/>
<circle cx="485.4" cy="305.6" r="1.35" fill="#72a83a"/>
<circle cx="495.2" cy="303.2" r="1.35" fill="#72a83a"/>
<circle cx="494.8" cy="307.3" r="1.35" fill="#72a83a"/>
<circle cx="495.0" cy="290.4" r="1.35" fill="#72a83a"/>
<circle cx="482.4" cy="296.2" r="1.35" fill="#72a83a"/>
<circle cx="495.9" cy="301.6" r="1.35" fill="#72a83a"/>
<circle cx="486.6" cy="308.3" r="1.35" fill="#72a83a"/>
<circle cx="490.6" cy="306.4" r="1.35" fill="#72a83a"/>
<circle cx="489.8" cy="304.7" r="1.35" fill="#72a83a"/>
<circle cx="482.3" cy="297.9" r="1.35" fill="#72a83a"/>
<circle cx="484.3" cy="308.3" r="1.35" fill="#72a83a"/>
<circle cx="483.4" cy="307.7" r="1.35" fill="#72a83a"/>
<circle cx="495.8" cy="282.3" r="1.35" fill="#72a83a"/>
<circle cx="490.2" cy="308.0" r="1.35" fill="#72a83a"/>
<circle cx="487.3" cy="306.0" r="1.35" fill="#72a83a"/>
<circle cx="492.5" cy="305.6" r="1.35" fill="#72a83a"/>
<circle cx="488.0" cy="302.3" r="1.35" fill="#72a83a"/>
<circle cx="487.5" cy="307.2" r="1.35" fill="#72a83a"/>
<circle cx="491.1" cy="307.7" r="1.35" fill="#72a83a"/>
<circle cx="488.3" cy="299.7" r="1.35" fill="#72a83a"/>
<circle cx="485.1" cy="308.1" r="1.35" fill="#72a83a"/>
<circle cx="491.9" cy="305.3" r="1.35" fill="#72a83a"/>
<circle cx="488.3" cy="297.7" r="1.35" fill="#72a83a"/>
<circle cx="492.1" cy="297.1" r="1.35" fill="#72a83a"/>
<circle cx="488.2" cy="304.6" r="1.35" fill="#72a83a"/>
<circle cx="493.4" cy="303.8" r="1.35" fill="#72a83a"/>
<circle cx="493.3" cy="304.8" r="1.35" fill="#72a83a"/>
<circle cx="486.2" cy="304.3" r="1.35" fill="#72a83a"/>
<circle cx="493.3" cy="303.2" r="1.35" fill="#72a83a"/>
<circle cx="489.0" cy="308.1" r="1.35" fill="#72a83a"/>
<circle cx="496.2" cy="304.7" r="1.35" fill="#72a83a"/>
<circle cx="488.2" cy="288.9" r="1.35" fill="#72a83a"/>
<circle cx="494.8" cy="292.3" r="1.35" fill="#72a83a"/>
<circle cx="489.6" cy="306.5" r="1.35" fill="#72a83a"/>
<circle cx="495.1" cy="307.7" r="1.35" fill="#72a83a"/>
<circle cx="496.3" cy="300.9" r="1.35" fill="#72a83a"/>
<circle cx="506.2" cy="297.4" r="1.35" fill="#9fbbcf"/>
<circle cx="505.3" cy="299.2" r="1.35" fill="#9fbbcf"/>
<circle cx="505.6" cy="307.9" r="1.35" fill="#9fbbcf"/>
<circle cx="501.7" cy="308.6" r="1.35" fill="#9fbbcf"/>
<circle cx="500.9" cy="298.0" r="1.35" fill="#9fbbcf"/>
<circle cx="501.4" cy="308.0" r="1.35" fill="#9fbbcf"/>
<circle cx="502.0" cy="293.5" r="1.35" fill="#9fbbcf"/>
<circle cx="507.7" cy="308.5" r="1.35" fill="#9fbbcf"/>
<circle cx="507.8" cy="307.8" r="1.35" fill="#9fbbcf"/>
<circle cx="507.7" cy="300.7" r="1.35" fill="#9fbbcf"/>
<circle cx="505.5" cy="286.9" r="1.35" fill="#9fbbcf"/>
<circle cx="500.8" cy="297.2" r="1.35" fill="#9fbbcf"/>
<circle cx="504.9" cy="298.2" r="1.35" fill="#9fbbcf"/>
<circle cx="501.4" cy="299.7" r="1.35" fill="#9fbbcf"/>
<circle cx="508.5" cy="298.8" r="1.35" fill="#9fbbcf"/>
<circle cx="503.3" cy="308.2" r="1.35" fill="#9fbbcf"/>
<circle cx="507.6" cy="302.7" r="1.35" fill="#9fbbcf"/>
<circle cx="502.0" cy="306.7" r="1.35" fill="#9fbbcf"/>
<circle cx="505.8" cy="306.6" r="1.35" fill="#9fbbcf"/>
<circle cx="503.9" cy="298.6" r="1.35" fill="#9fbbcf"/>
<circle cx="503.9" cy="305.4" r="1.35" fill="#9fbbcf"/>
<circle cx="504.1" cy="305.6" r="1.35" fill="#9fbbcf"/>
<circle cx="504.8" cy="308.1" r="1.35" fill="#9fbbcf"/>
<circle cx="504.1" cy="282.8" r="1.35" fill="#9fbbcf"/>
<circle cx="501.9" cy="298.8" r="1.35" fill="#9fbbcf"/>
<circle cx="507.0" cy="300.3" r="1.35" fill="#9fbbcf"/>
<circle cx="504.9" cy="300.6" r="1.35" fill="#9fbbcf"/>
<circle cx="506.0" cy="303.9" r="1.35" fill="#9fbbcf"/>
<circle cx="501.8" cy="292.4" r="1.35" fill="#9fbbcf"/>
<circle cx="506.9" cy="308.0" r="1.35" fill="#9fbbcf"/>
<circle cx="504.9" cy="290.9" r="1.35" fill="#9fbbcf"/>
<circle cx="506.7" cy="304.5" r="1.35" fill="#9fbbcf"/>
<circle cx="502.8" cy="307.2" r="1.35" fill="#9fbbcf"/>
<circle cx="517.5" cy="307.1" r="1.35" fill="#72a83a"/>
<circle cx="513.9" cy="306.0" r="1.35" fill="#72a83a"/>
<circle cx="521.3" cy="300.3" r="1.35" fill="#72a83a"/>
<circle cx="518.8" cy="306.2" r="1.35" fill="#72a83a"/>
<circle cx="520.3" cy="304.9" r="1.35" fill="#72a83a"/>
<circle cx="514.3" cy="302.4" r="1.35" fill="#72a83a"/>
<circle cx="511.7" cy="306.9" r="1.35" fill="#72a83a"/>
<circle cx="515.4" cy="304.0" r="1.35" fill="#72a83a"/>
<circle cx="515.2" cy="307.3" r="1.35" fill="#72a83a"/>
<circle cx="519.5" cy="305.9" r="1.35" fill="#72a83a"/>
<circle cx="521.7" cy="307.6" r="1.35" fill="#72a83a"/>
<circle cx="517.7" cy="304.0" r="1.35" fill="#72a83a"/>
<circle cx="520.1" cy="304.2" r="1.35" fill="#72a83a"/>
<circle cx="517.2" cy="296.3" r="1.35" fill="#72a83a"/>
<circle cx="518.9" cy="304.0" r="1.35" fill="#72a83a"/>
<circle cx="515.6" cy="294.8" r="1.35" fill="#72a83a"/>
<circle cx="521.4" cy="299.2" r="1.35" fill="#72a83a"/>
<circle cx="513.9" cy="304.2" r="1.35" fill="#72a83a"/>
<circle cx="518.9" cy="306.8" r="1.35" fill="#72a83a"/>
<circle cx="521.4" cy="300.6" r="1.35" fill="#72a83a"/>
<circle cx="514.0" cy="294.9" r="1.35" fill="#72a83a"/>
<circle cx="514.2" cy="307.2" r="1.35" fill="#72a83a"/>
<circle cx="518.8" cy="307.2" r="1.35" fill="#72a83a"/>
<circle cx="520.8" cy="294.7" r="1.35" fill="#72a83a"/>
<circle cx="520.4" cy="306.6" r="1.35" fill="#72a83a"/>
<circle cx="515.9" cy="306.0" r="1.35" fill="#72a83a"/>
<circle cx="512.4" cy="299.3" r="1.35" fill="#72a83a"/>
<circle cx="520.1" cy="308.0" r="1.35" fill="#72a83a"/>
<circle cx="515.2" cy="306.2" r="1.35" fill="#72a83a"/>
<circle cx="518.5" cy="302.5" r="1.35" fill="#72a83a"/>
<circle cx="514.9" cy="308.6" r="1.35" fill="#72a83a"/>
<circle cx="516.5" cy="304.6" r="1.35" fill="#72a83a"/>
<circle cx="517.5" cy="307.0" r="1.35" fill="#72a83a"/>
<circle cx="515.5" cy="286.4" r="1.35" fill="#72a83a"/>
<circle cx="512.7" cy="303.0" r="1.35" fill="#72a83a"/>
<circle cx="518.4" cy="306.4" r="1.35" fill="#72a83a"/>
<circle cx="520.6" cy="307.8" r="1.35" fill="#72a83a"/>
<circle cx="512.5" cy="291.5" r="1.35" fill="#72a83a"/>
<circle cx="528.6" cy="288.4" r="1.35" fill="#9fbbcf"/>
<circle cx="533.1" cy="298.1" r="1.35" fill="#9fbbcf"/>
<circle cx="532.2" cy="306.2" r="1.35" fill="#9fbbcf"/>
<circle cx="533.7" cy="301.1" r="1.35" fill="#9fbbcf"/>
<circle cx="533.1" cy="306.5" r="1.35" fill="#9fbbcf"/>
<circle cx="532.1" cy="285.4" r="1.35" fill="#9fbbcf"/>
<circle cx="525.5" cy="303.2" r="1.35" fill="#9fbbcf"/>
<circle cx="528.4" cy="303.8" r="1.35" fill="#9fbbcf"/>
<circle cx="532.2" cy="299.6" r="1.35" fill="#9fbbcf"/>
<circle cx="526.3" cy="302.7" r="1.35" fill="#9fbbcf"/>
<circle cx="531.6" cy="301.2" r="1.35" fill="#9fbbcf"/>
<circle cx="534.7" cy="307.3" r="1.35" fill="#9fbbcf"/>
<circle cx="525.7" cy="301.0" r="1.35" fill="#9fbbcf"/>
<circle cx="525.9" cy="289.4" r="1.35" fill="#9fbbcf"/>
<circle cx="532.7" cy="305.8" r="1.35" fill="#9fbbcf"/>
<circle cx="530.7" cy="302.2" r="1.35" fill="#9fbbcf"/>
<circle cx="529.6" cy="301.2" r="1.35" fill="#9fbbcf"/>
<circle cx="526.3" cy="306.0" r="1.35" fill="#9fbbcf"/>
<circle cx="532.6" cy="308.2" r="1.35" fill="#9fbbcf"/>
<circle cx="530.6" cy="298.6" r="1.35" fill="#9fbbcf"/>
<circle cx="528.4" cy="299.0" r="1.35" fill="#9fbbcf"/>
<circle cx="528.7" cy="306.5" r="1.35" fill="#9fbbcf"/>
<circle cx="524.7" cy="293.9" r="1.35" fill="#9fbbcf"/>
<circle cx="527.1" cy="303.6" r="1.35" fill="#9fbbcf"/>
<circle cx="528.4" cy="298.2" r="1.35" fill="#9fbbcf"/>
<circle cx="529.0" cy="305.8" r="1.35" fill="#9fbbcf"/>
<circle cx="533.3" cy="303.1" r="1.35" fill="#9fbbcf"/>
<circle cx="534.2" cy="305.6" r="1.35" fill="#9fbbcf"/>
<circle cx="527.4" cy="307.8" r="1.35" fill="#9fbbcf"/>
<circle cx="525.5" cy="307.9" r="1.35" fill="#9fbbcf"/>
<circle cx="532.8" cy="297.9" r="1.35" fill="#9fbbcf"/>
<circle cx="526.4" cy="307.2" r="1.35" fill="#9fbbcf"/>
<circle cx="533.0" cy="304.8" r="1.35" fill="#9fbbcf"/>
<circle cx="533.0" cy="296.6" r="1.35" fill="#9fbbcf"/>
<circle cx="525.9" cy="302.3" r="1.35" fill="#9fbbcf"/>
<circle cx="526.5" cy="305.0" r="1.35" fill="#9fbbcf"/>
<circle cx="530.9" cy="303.3" r="1.35" fill="#9fbbcf"/>
<circle cx="527.2" cy="307.1" r="1.35" fill="#9fbbcf"/>
<circle cx="524.6" cy="297.8" r="1.35" fill="#9fbbcf"/>
<circle cx="534.7" cy="297.0" r="1.35" fill="#9fbbcf"/>
<circle cx="528.7" cy="287.3" r="1.35" fill="#9fbbcf"/>
<circle cx="531.1" cy="302.9" r="1.35" fill="#9fbbcf"/>
<circle cx="552.6" cy="301.5" r="1.35" fill="#72a83a"/>
<circle cx="542.7" cy="300.4" r="1.35" fill="#72a83a"/>
<circle cx="545.4" cy="294.6" r="1.35" fill="#72a83a"/>
<circle cx="548.9" cy="302.1" r="1.35" fill="#72a83a"/>
<circle cx="549.6" cy="308.7" r="1.35" fill="#72a83a"/>
<circle cx="545.5" cy="300.9" r="1.35" fill="#72a83a"/>
<circle cx="545.1" cy="303.4" r="1.35" fill="#72a83a"/>
<circle cx="546.1" cy="307.1" r="1.35" fill="#72a83a"/>
<circle cx="545.7" cy="308.4" r="1.35" fill="#72a83a"/>
<circle cx="544.8" cy="301.2" r="1.35" fill="#72a83a"/>
<circle cx="552.3" cy="302.7" r="1.35" fill="#72a83a"/>
<circle cx="540.4" cy="292.7" r="1.35" fill="#72a83a"/>
<circle cx="547.4" cy="297.4" r="1.35" fill="#72a83a"/>
<circle cx="543.6" cy="308.3" r="1.35" fill="#72a83a"/>
<circle cx="539.5" cy="306.8" r="1.35" fill="#72a83a"/>
<circle cx="551.9" cy="303.1" r="1.35" fill="#72a83a"/>
<circle cx="551.0" cy="305.9" r="1.35" fill="#72a83a"/>
<circle cx="540.3" cy="300.2" r="1.35" fill="#72a83a"/>
<circle cx="547.1" cy="294.7" r="1.35" fill="#72a83a"/>
<circle cx="548.8" cy="289.9" r="1.35" fill="#72a83a"/>
<circle cx="543.4" cy="299.0" r="1.35" fill="#72a83a"/>
<circle cx="551.9" cy="296.9" r="1.35" fill="#72a83a"/>
<circle cx="544.7" cy="294.5" r="1.35" fill="#72a83a"/>
<circle cx="545.4" cy="298.5" r="1.35" fill="#72a83a"/>
<circle cx="539.0" cy="307.8" r="1.35" fill="#72a83a"/>
<circle cx="541.3" cy="308.1" r="1.35" fill="#72a83a"/>
<circle cx="545.6" cy="307.4" r="1.35" fill="#72a83a"/>
<circle cx="546.2" cy="300.1" r="1.35" fill="#72a83a"/>
<circle cx="547.8" cy="304.7" r="1.35" fill="#72a83a"/>
<circle cx="545.1" cy="306.1" r="1.35" fill="#72a83a"/>
<circle cx="544.2" cy="298.5" r="1.35" fill="#72a83a"/>
<circle cx="551.4" cy="307.3" r="1.35" fill="#72a83a"/>
<circle cx="543.7" cy="299.6" r="1.35" fill="#72a83a"/>
<circle cx="546.1" cy="305.4" r="1.35" fill="#72a83a"/>
<circle cx="541.6" cy="302.2" r="1.35" fill="#72a83a"/>
<circle cx="541.4" cy="308.7" r="1.35" fill="#72a83a"/>
<circle cx="540.5" cy="297.7" r="1.35" fill="#72a83a"/>
<circle cx="541.2" cy="304.3" r="1.35" fill="#72a83a"/>
<circle cx="540.9" cy="307.0" r="1.35" fill="#72a83a"/>
<circle cx="540.8" cy="305.0" r="1.35" fill="#72a83a"/>
<circle cx="540.0" cy="308.5" r="1.35" fill="#72a83a"/>
<circle cx="545.5" cy="307.4" r="1.35" fill="#72a83a"/>
<circle cx="538.7" cy="308.2" r="1.35" fill="#72a83a"/>
<circle cx="544.3" cy="304.4" r="1.35" fill="#72a83a"/>
<circle cx="539.1" cy="300.0" r="1.35" fill="#72a83a"/>
<circle cx="544.2" cy="305.0" r="1.35" fill="#72a83a"/>
<circle cx="552.4" cy="308.5" r="1.35" fill="#72a83a"/>
<circle cx="539.8" cy="306.9" r="1.35" fill="#72a83a"/>
<circle cx="540.8" cy="304.1" r="1.35" fill="#72a83a"/>
<circle cx="543.4" cy="301.7" r="1.35" fill="#72a83a"/>
<circle cx="555.9" cy="307.7" r="1.35" fill="#9fbbcf"/>
<circle cx="558.2" cy="299.4" r="1.35" fill="#9fbbcf"/>
<circle cx="560.3" cy="297.6" r="1.35" fill="#9fbbcf"/>
<circle cx="558.5" cy="289.3" r="1.35" fill="#9fbbcf"/>
<circle cx="558.1" cy="306.6" r="1.35" fill="#9fbbcf"/>
<circle cx="562.0" cy="296.6" r="1.35" fill="#9fbbcf"/>
<circle cx="556.3" cy="305.6" r="1.35" fill="#9fbbcf"/>
<circle cx="565.7" cy="300.5" r="1.35" fill="#9fbbcf"/>
<circle cx="555.3" cy="302.2" r="1.35" fill="#9fbbcf"/>
<circle cx="556.3" cy="308.5" r="1.35" fill="#9fbbcf"/>
<circle cx="555.7" cy="307.3" r="1.35" fill="#9fbbcf"/>
<circle cx="562.3" cy="308.3" r="1.35" fill="#9fbbcf"/>
<circle cx="557.4" cy="292.2" r="1.35" fill="#9fbbcf"/>
<circle cx="560.4" cy="282.6" r="1.35" fill="#9fbbcf"/>
<circle cx="565.1" cy="297.0" r="1.35" fill="#9fbbcf"/>
<circle cx="555.7" cy="288.5" r="1.35" fill="#9fbbcf"/>
<circle cx="561.8" cy="306.1" r="1.35" fill="#9fbbcf"/>
<circle cx="556.2" cy="287.7" r="1.35" fill="#9fbbcf"/>
<circle cx="564.4" cy="306.2" r="1.35" fill="#9fbbcf"/>
<circle cx="559.5" cy="307.8" r="1.35" fill="#9fbbcf"/>
<circle cx="562.6" cy="305.8" r="1.35" fill="#9fbbcf"/>
<circle cx="557.2" cy="289.8" r="1.35" fill="#9fbbcf"/>
<circle cx="563.2" cy="299.0" r="1.35" fill="#9fbbcf"/>
<circle cx="561.2" cy="295.7" r="1.35" fill="#9fbbcf"/>
<circle cx="559.2" cy="290.3" r="1.35" fill="#9fbbcf"/>
<circle cx="557.8" cy="304.8" r="1.35" fill="#9fbbcf"/>
<circle cx="560.4" cy="297.8" r="1.35" fill="#9fbbcf"/>
<circle cx="557.1" cy="306.4" r="1.35" fill="#9fbbcf"/>
<circle cx="561.8" cy="299.5" r="1.35" fill="#9fbbcf"/>
<circle cx="559.4" cy="299.8" r="1.35" fill="#9fbbcf"/>
<circle cx="556.9" cy="303.9" r="1.35" fill="#9fbbcf"/>
<circle cx="555.5" cy="299.8" r="1.35" fill="#9fbbcf"/>
<circle cx="563.4" cy="304.2" r="1.35" fill="#9fbbcf"/>
<circle cx="556.3" cy="300.6" r="1.35" fill="#9fbbcf"/>
<circle cx="564.3" cy="306.7" r="1.35" fill="#9fbbcf"/>
<circle cx="564.7" cy="301.3" r="1.35" fill="#9fbbcf"/>
<circle cx="560.1" cy="293.9" r="1.35" fill="#9fbbcf"/>
<circle cx="563.1" cy="292.4" r="1.35" fill="#9fbbcf"/>
<circle cx="559.3" cy="305.8" r="1.35" fill="#9fbbcf"/>
<circle cx="572.1" cy="308.1" r="1.35" fill="#72a83a"/>
<circle cx="569.4" cy="286.3" r="1.35" fill="#72a83a"/>
<circle cx="569.4" cy="302.6" r="1.35" fill="#72a83a"/>
<circle cx="574.4" cy="308.1" r="1.35" fill="#72a83a"/>
<circle cx="568.8" cy="306.7" r="1.35" fill="#72a83a"/>
<circle cx="574.3" cy="307.5" r="1.35" fill="#72a83a"/>
<circle cx="568.5" cy="302.4" r="1.35" fill="#72a83a"/>
<circle cx="577.3" cy="306.8" r="1.35" fill="#72a83a"/>
<circle cx="573.6" cy="306.9" r="1.35" fill="#72a83a"/>
<circle cx="575.6" cy="304.8" r="1.35" fill="#72a83a"/>
<circle cx="575.7" cy="302.0" r="1.35" fill="#72a83a"/>
<circle cx="570.1" cy="303.2" r="1.35" fill="#72a83a"/>
<circle cx="569.1" cy="307.3" r="1.35" fill="#72a83a"/>
<circle cx="569.4" cy="296.2" r="1.35" fill="#72a83a"/>
<circle cx="577.3" cy="308.5" r="1.35" fill="#72a83a"/>
<circle cx="576.6" cy="307.1" r="1.35" fill="#72a83a"/>
<circle cx="572.7" cy="308.0" r="1.35" fill="#72a83a"/>
<circle cx="576.0" cy="306.9" r="1.35" fill="#72a83a"/>
<circle cx="574.3" cy="301.8" r="1.35" fill="#72a83a"/>
<circle cx="576.4" cy="298.4" r="1.35" fill="#72a83a"/>
<circle cx="573.9" cy="305.6" r="1.35" fill="#72a83a"/>
<circle cx="569.4" cy="304.4" r="1.35" fill="#72a83a"/>
<circle cx="573.9" cy="295.7" r="1.35" fill="#72a83a"/>
<circle cx="570.3" cy="296.6" r="1.35" fill="#72a83a"/>
<circle cx="572.7" cy="303.1" r="1.35" fill="#72a83a"/>
<circle cx="569.1" cy="299.3" r="1.35" fill="#72a83a"/>
<circle cx="572.9" cy="305.6" r="1.35" fill="#72a83a"/>
<circle cx="573.5" cy="308.1" r="1.35" fill="#72a83a"/>
<circle cx="572.3" cy="299.2" r="1.35" fill="#72a83a"/>
<circle cx="574.0" cy="301.2" r="1.35" fill="#72a83a"/>
<circle cx="571.6" cy="307.0" r="1.35" fill="#72a83a"/>
<circle cx="571.5" cy="269.5" r="1.35" fill="#72a83a"/>
<circle cx="569.2" cy="304.6" r="1.35" fill="#72a83a"/>
<circle cx="569.9" cy="306.9" r="1.35" fill="#72a83a"/>
<circle cx="586.0" cy="289.5" r="1.35" fill="#9fbbcf"/>
<circle cx="588.2" cy="293.8" r="1.35" fill="#9fbbcf"/>
<circle cx="587.7" cy="301.9" r="1.35" fill="#9fbbcf"/>
<circle cx="583.5" cy="303.2" r="1.35" fill="#9fbbcf"/>
<circle cx="587.5" cy="287.5" r="1.35" fill="#9fbbcf"/>
<circle cx="584.0" cy="287.3" r="1.35" fill="#9fbbcf"/>
<circle cx="583.4" cy="298.0" r="1.35" fill="#9fbbcf"/>
<circle cx="587.6" cy="266.3" r="1.35" fill="#9fbbcf"/>
<circle cx="587.8" cy="306.2" r="1.35" fill="#9fbbcf"/>
<circle cx="580.8" cy="307.2" r="1.35" fill="#9fbbcf"/>
<circle cx="582.4" cy="299.5" r="1.35" fill="#9fbbcf"/>
<circle cx="585.3" cy="303.4" r="1.35" fill="#9fbbcf"/>
<circle cx="586.2" cy="308.4" r="1.35" fill="#9fbbcf"/>
<circle cx="583.6" cy="306.4" r="1.35" fill="#9fbbcf"/>
<circle cx="586.2" cy="305.6" r="1.35" fill="#9fbbcf"/>
<circle cx="582.4" cy="298.8" r="1.35" fill="#9fbbcf"/>
<circle cx="582.5" cy="307.9" r="1.35" fill="#9fbbcf"/>
<circle cx="580.6" cy="304.9" r="1.35" fill="#9fbbcf"/>
<circle cx="586.3" cy="307.5" r="1.35" fill="#9fbbcf"/>
<circle cx="588.1" cy="300.0" r="1.35" fill="#9fbbcf"/>
<circle cx="587.3" cy="280.8" r="1.35" fill="#9fbbcf"/>
<circle cx="581.3" cy="305.3" r="1.35" fill="#9fbbcf"/>
<circle cx="583.8" cy="306.0" r="1.35" fill="#9fbbcf"/>
<circle cx="584.5" cy="303.3" r="1.35" fill="#9fbbcf"/>
<circle cx="587.1" cy="305.5" r="1.35" fill="#9fbbcf"/>
<circle cx="583.8" cy="306.3" r="1.35" fill="#9fbbcf"/>
<circle cx="586.7" cy="293.1" r="1.35" fill="#9fbbcf"/>
<circle cx="582.0" cy="306.1" r="1.35" fill="#9fbbcf"/>
<circle cx="580.1" cy="296.9" r="1.35" fill="#9fbbcf"/>
<circle cx="584.4" cy="307.7" r="1.35" fill="#9fbbcf"/>
<circle cx="581.4" cy="303.2" r="1.35" fill="#9fbbcf"/>
<circle cx="581.7" cy="308.3" r="1.35" fill="#9fbbcf"/>
<circle cx="595.0" cy="298.1" r="1.35" fill="#72a83a"/>
<circle cx="598.0" cy="280.9" r="1.35" fill="#72a83a"/>
<circle cx="591.0" cy="280.9" r="1.35" fill="#72a83a"/>
<circle cx="590.8" cy="307.2" r="1.35" fill="#72a83a"/>
<circle cx="593.8" cy="304.6" r="1.35" fill="#72a83a"/>
<circle cx="595.8" cy="308.3" r="1.35" fill="#72a83a"/>
<circle cx="593.6" cy="308.0" r="1.35" fill="#72a83a"/>
<circle cx="598.2" cy="306.6" r="1.35" fill="#72a83a"/>
<circle cx="593.1" cy="304.8" r="1.35" fill="#72a83a"/>
<circle cx="594.7" cy="308.4" r="1.35" fill="#72a83a"/>
<circle cx="597.0" cy="301.6" r="1.35" fill="#72a83a"/>
<circle cx="598.2" cy="291.2" r="1.35" fill="#72a83a"/>
<circle cx="592.0" cy="306.6" r="1.35" fill="#72a83a"/>
<circle cx="598.0" cy="298.5" r="1.35" fill="#72a83a"/>
<circle cx="598.4" cy="303.6" r="1.35" fill="#72a83a"/>
<circle cx="593.3" cy="302.9" r="1.35" fill="#72a83a"/>
<circle cx="590.9" cy="307.4" r="1.35" fill="#72a83a"/>
<circle cx="599.0" cy="301.3" r="1.35" fill="#72a83a"/>
<circle cx="595.0" cy="291.7" r="1.35" fill="#72a83a"/>
<circle cx="599.3" cy="300.8" r="1.35" fill="#72a83a"/>
<circle cx="596.3" cy="296.6" r="1.35" fill="#72a83a"/>
<circle cx="595.5" cy="304.8" r="1.35" fill="#72a83a"/>
<circle cx="592.4" cy="307.3" r="1.35" fill="#72a83a"/>
<circle cx="599.9" cy="300.4" r="1.35" fill="#72a83a"/>
<circle cx="594.5" cy="303.0" r="1.35" fill="#72a83a"/>
<circle cx="594.9" cy="305.6" r="1.35" fill="#72a83a"/>
<circle cx="594.9" cy="297.0" r="1.35" fill="#72a83a"/>
<circle cx="592.1" cy="285.7" r="1.35" fill="#72a83a"/>
<circle cx="595.6" cy="306.0" r="1.35" fill="#72a83a"/>
<circle cx="598.6" cy="304.9" r="1.35" fill="#72a83a"/>
<circle cx="599.4" cy="296.1" r="1.35" fill="#72a83a"/>
<circle cx="591.0" cy="301.9" r="1.35" fill="#72a83a"/>
<circle cx="595.8" cy="302.6" r="1.35" fill="#72a83a"/>
<circle cx="593.3" cy="303.9" r="1.35" fill="#72a83a"/>
<circle cx="599.2" cy="299.8" r="1.35" fill="#72a83a"/>
<circle cx="611.6" cy="307.9" r="1.35" fill="#9fbbcf"/>
<circle cx="609.5" cy="305.4" r="1.35" fill="#9fbbcf"/>
<circle cx="615.7" cy="292.5" r="1.35" fill="#9fbbcf"/>
<circle cx="605.1" cy="301.3" r="1.35" fill="#9fbbcf"/>
<circle cx="604.9" cy="290.5" r="1.35" fill="#9fbbcf"/>
<circle cx="613.8" cy="305.2" r="1.35" fill="#9fbbcf"/>
<circle cx="606.1" cy="306.0" r="1.35" fill="#9fbbcf"/>
<circle cx="615.4" cy="287.2" r="1.35" fill="#9fbbcf"/>
<circle cx="607.8" cy="305.9" r="1.35" fill="#9fbbcf"/>
<circle cx="604.2" cy="306.3" r="1.35" fill="#9fbbcf"/>
<circle cx="615.9" cy="306.6" r="1.35" fill="#9fbbcf"/>
<circle cx="605.6" cy="308.1" r="1.35" fill="#9fbbcf"/>
<circle cx="603.5" cy="307.1" r="1.35" fill="#9fbbcf"/>
<circle cx="612.7" cy="303.3" r="1.35" fill="#9fbbcf"/>
<circle cx="611.1" cy="295.6" r="1.35" fill="#9fbbcf"/>
<circle cx="602.5" cy="296.5" r="1.35" fill="#9fbbcf"/>
<circle cx="615.7" cy="306.3" r="1.35" fill="#9fbbcf"/>
<circle cx="606.1" cy="308.2" r="1.35" fill="#9fbbcf"/>
<circle cx="606.1" cy="304.0" r="1.35" fill="#9fbbcf"/>
<circle cx="603.1" cy="303.0" r="1.35" fill="#9fbbcf"/>
<circle cx="615.6" cy="306.7" r="1.35" fill="#9fbbcf"/>
<circle cx="614.9" cy="307.6" r="1.35" fill="#9fbbcf"/>
<circle cx="616.1" cy="307.3" r="1.35" fill="#9fbbcf"/>
<circle cx="611.3" cy="300.6" r="1.35" fill="#9fbbcf"/>
<circle cx="603.2" cy="307.6" r="1.35" fill="#9fbbcf"/>
<circle cx="604.8" cy="298.5" r="1.35" fill="#9fbbcf"/>
<circle cx="613.8" cy="307.2" r="1.35" fill="#9fbbcf"/>
<circle cx="603.1" cy="293.8" r="1.35" fill="#9fbbcf"/>
<circle cx="609.8" cy="285.5" r="1.35" fill="#9fbbcf"/>
<circle cx="603.9" cy="305.2" r="1.35" fill="#9fbbcf"/>
<circle cx="616.0" cy="305.1" r="1.35" fill="#9fbbcf"/>
<circle cx="604.2" cy="306.3" r="1.35" fill="#9fbbcf"/>
<circle cx="604.2" cy="307.6" r="1.35" fill="#9fbbcf"/>
<circle cx="615.0" cy="305.6" r="1.35" fill="#9fbbcf"/>
<circle cx="605.0" cy="308.1" r="1.35" fill="#9fbbcf"/>
<circle cx="616.2" cy="288.6" r="1.35" fill="#9fbbcf"/>
<circle cx="605.8" cy="280.7" r="1.35" fill="#9fbbcf"/>
<circle cx="615.5" cy="305.5" r="1.35" fill="#9fbbcf"/>
<circle cx="612.1" cy="303.9" r="1.35" fill="#9fbbcf"/>
<circle cx="602.7" cy="306.0" r="1.35" fill="#9fbbcf"/>
<circle cx="612.7" cy="305.6" r="1.35" fill="#9fbbcf"/>
<circle cx="610.3" cy="297.8" r="1.35" fill="#9fbbcf"/>
<circle cx="609.8" cy="304.2" r="1.35" fill="#9fbbcf"/>
<circle cx="609.8" cy="304.5" r="1.35" fill="#9fbbcf"/>
<circle cx="605.2" cy="295.9" r="1.35" fill="#9fbbcf"/>
<circle cx="615.3" cy="302.2" r="1.35" fill="#9fbbcf"/>
<circle cx="604.9" cy="295.2" r="1.35" fill="#9fbbcf"/>
<circle cx="614.0" cy="285.0" r="1.35" fill="#9fbbcf"/>
<circle cx="621.5" cy="307.4" r="1.35" fill="#72a83a"/>
<circle cx="619.2" cy="307.1" r="1.35" fill="#72a83a"/>
<circle cx="623.0" cy="281.2" r="1.35" fill="#72a83a"/>
<circle cx="619.8" cy="293.9" r="1.35" fill="#72a83a"/>
<circle cx="628.0" cy="308.6" r="1.35" fill="#72a83a"/>
<circle cx="629.3" cy="297.4" r="1.35" fill="#72a83a"/>
<circle cx="624.3" cy="300.4" r="1.35" fill="#72a83a"/>
<circle cx="619.6" cy="298.3" r="1.35" fill="#72a83a"/>
<circle cx="623.4" cy="303.1" r="1.35" fill="#72a83a"/>
<circle cx="625.1" cy="307.5" r="1.35" fill="#72a83a"/>
<circle cx="624.1" cy="305.9" r="1.35" fill="#72a83a"/>
<circle cx="622.0" cy="305.3" r="1.35" fill="#72a83a"/>
<circle cx="625.1" cy="305.5" r="1.35" fill="#72a83a"/>
<circle cx="628.7" cy="280.5" r="1.35" fill="#72a83a"/>
<circle cx="627.6" cy="294.5" r="1.35" fill="#72a83a"/>
<circle cx="629.1" cy="306.3" r="1.35" fill="#72a83a"/>
<circle cx="619.9" cy="306.4" r="1.35" fill="#72a83a"/>
<circle cx="626.5" cy="303.7" r="1.35" fill="#72a83a"/>
<circle cx="625.6" cy="305.7" r="1.35" fill="#72a83a"/>
<circle cx="629.0" cy="306.3" r="1.35" fill="#72a83a"/>
<circle cx="623.8" cy="304.4" r="1.35" fill="#72a83a"/>
<circle cx="628.0" cy="303.2" r="1.35" fill="#72a83a"/>
<circle cx="624.3" cy="277.8" r="1.35" fill="#72a83a"/>
<circle cx="625.3" cy="304.5" r="1.35" fill="#72a83a"/>
<circle cx="623.2" cy="308.2" r="1.35" fill="#72a83a"/>
<circle cx="627.0" cy="295.2" r="1.35" fill="#72a83a"/>
<circle cx="627.8" cy="308.2" r="1.35" fill="#72a83a"/>
<circle cx="629.2" cy="305.2" r="1.35" fill="#72a83a"/>
<circle cx="620.9" cy="305.4" r="1.35" fill="#72a83a"/>
<circle cx="628.1" cy="303.0" r="1.35" fill="#72a83a"/>
<circle cx="628.0" cy="304.6" r="1.35" fill="#72a83a"/>
<circle cx="622.5" cy="299.8" r="1.35" fill="#72a83a"/>
<circle cx="624.1" cy="306.1" r="1.35" fill="#72a83a"/>
<circle cx="622.6" cy="305.0" r="1.35" fill="#72a83a"/>
<circle cx="628.1" cy="301.1" r="1.35" fill="#72a83a"/>
<circle cx="620.2" cy="302.4" r="1.35" fill="#72a83a"/>
<circle cx="622.6" cy="306.9" r="1.35" fill="#72a83a"/>
<circle cx="620.1" cy="301.8" r="1.35" fill="#72a83a"/>
<circle cx="622.1" cy="308.1" r="1.35" fill="#72a83a"/>
<circle cx="631.8" cy="306.3" r="1.35" fill="#9fbbcf"/>
<circle cx="632.4" cy="303.1" r="1.35" fill="#9fbbcf"/>
<circle cx="632.3" cy="303.2" r="1.35" fill="#9fbbcf"/>
<circle cx="632.4" cy="296.0" r="1.35" fill="#9fbbcf"/>
<circle cx="632.1" cy="291.2" r="1.35" fill="#9fbbcf"/>
<circle cx="631.9" cy="300.5" r="1.35" fill="#9fbbcf"/>
<circle cx="632.1" cy="293.5" r="1.35" fill="#9fbbcf"/>
<circle cx="632.4" cy="304.1" r="1.35" fill="#9fbbcf"/>
<circle cx="631.9" cy="306.3" r="1.35" fill="#9fbbcf"/>
<circle cx="636.8" cy="296.2" r="1.35" fill="#72a83a"/>
<circle cx="635.0" cy="308.0" r="1.35" fill="#72a83a"/>
<circle cx="634.9" cy="305.6" r="1.35" fill="#72a83a"/>
<circle cx="635.5" cy="295.9" r="1.35" fill="#72a83a"/>
<circle cx="636.1" cy="306.4" r="1.35" fill="#72a83a"/>
<circle cx="636.3" cy="303.5" r="1.35" fill="#72a83a"/>
<circle cx="637.0" cy="301.6" r="1.35" fill="#72a83a"/>
<circle cx="635.2" cy="304.6" r="1.35" fill="#72a83a"/>
<circle cx="637.1" cy="280.9" r="1.35" fill="#72a83a"/>
<circle cx="636.3" cy="308.1" r="1.35" fill="#72a83a"/>
<circle cx="638.1" cy="298.6" r="1.35" fill="#72a83a"/>
<circle cx="634.9" cy="308.2" r="1.35" fill="#72a83a"/>
<circle cx="636.3" cy="304.0" r="1.35" fill="#72a83a"/>
<circle cx="637.5" cy="292.6" r="1.35" fill="#72a83a"/>
<circle cx="636.2" cy="305.8" r="1.35" fill="#72a83a"/>
<circle cx="637.7" cy="302.4" r="1.35" fill="#72a83a"/>
<circle cx="643.7" cy="307.1" r="1.35" fill="#9fbbcf"/>
<circle cx="645.8" cy="308.0" r="1.35" fill="#9fbbcf"/>
<circle cx="648.2" cy="308.5" r="1.35" fill="#9fbbcf"/>
<circle cx="645.2" cy="303.4" r="1.35" fill="#9fbbcf"/>
<circle cx="642.4" cy="308.0" r="1.35" fill="#9fbbcf"/>
<circle cx="647.5" cy="304.1" r="1.35" fill="#9fbbcf"/>
<circle cx="642.8" cy="303.1" r="1.35" fill="#9fbbcf"/>
<circle cx="645.9" cy="279.9" r="1.35" fill="#9fbbcf"/>
<circle cx="642.2" cy="303.3" r="1.35" fill="#9fbbcf"/>
<circle cx="647.9" cy="306.1" r="1.35" fill="#9fbbcf"/>
<circle cx="644.9" cy="307.7" r="1.35" fill="#9fbbcf"/>
<circle cx="643.4" cy="301.7" r="1.35" fill="#9fbbcf"/>
<circle cx="648.0" cy="298.2" r="1.35" fill="#9fbbcf"/>
<circle cx="646.6" cy="294.7" r="1.35" fill="#9fbbcf"/>
<circle cx="641.0" cy="307.0" r="1.35" fill="#9fbbcf"/>
<circle cx="643.1" cy="304.6" r="1.35" fill="#9fbbcf"/>
<circle cx="647.6" cy="307.1" r="1.35" fill="#9fbbcf"/>
<circle cx="647.2" cy="306.9" r="1.35" fill="#9fbbcf"/>
<circle cx="641.5" cy="288.8" r="1.35" fill="#9fbbcf"/>
<circle cx="643.8" cy="291.1" r="1.35" fill="#9fbbcf"/>
<circle cx="642.0" cy="307.0" r="1.35" fill="#9fbbcf"/>
<circle cx="644.6" cy="308.4" r="1.35" fill="#9fbbcf"/>
<circle cx="647.5" cy="305.2" r="1.35" fill="#9fbbcf"/>
<circle cx="641.0" cy="295.8" r="1.35" fill="#9fbbcf"/>
<circle cx="643.7" cy="305.0" r="1.35" fill="#9fbbcf"/>
<circle cx="642.6" cy="307.3" r="1.35" fill="#9fbbcf"/>
<circle cx="646.2" cy="306.5" r="1.35" fill="#9fbbcf"/>
<circle cx="641.4" cy="305.7" r="1.35" fill="#9fbbcf"/>
<circle cx="644.1" cy="306.9" r="1.35" fill="#9fbbcf"/>
<circle cx="642.5" cy="302.7" r="1.35" fill="#9fbbcf"/>
<circle cx="642.3" cy="300.1" r="1.35" fill="#9fbbcf"/>
<circle cx="657.6" cy="300.7" r="1.35" fill="#72a83a"/>
<circle cx="659.1" cy="307.3" r="1.35" fill="#72a83a"/>
<circle cx="656.9" cy="305.1" r="1.35" fill="#72a83a"/>
<circle cx="657.8" cy="302.1" r="1.35" fill="#72a83a"/>
<circle cx="651.7" cy="304.5" r="1.35" fill="#72a83a"/>
<circle cx="660.3" cy="297.6" r="1.35" fill="#72a83a"/>
<circle cx="657.3" cy="303.8" r="1.35" fill="#72a83a"/>
<circle cx="660.7" cy="306.4" r="1.35" fill="#72a83a"/>
<circle cx="653.5" cy="300.4" r="1.35" fill="#72a83a"/>
<circle cx="661.7" cy="296.5" r="1.35" fill="#72a83a"/>
<circle cx="661.8" cy="305.6" r="1.35" fill="#72a83a"/>
<circle cx="653.0" cy="303.9" r="1.35" fill="#72a83a"/>
<circle cx="654.7" cy="299.6" r="1.35" fill="#72a83a"/>
<circle cx="657.3" cy="299.2" r="1.35" fill="#72a83a"/>
<circle cx="656.8" cy="307.9" r="1.35" fill="#72a83a"/>
<circle cx="656.2" cy="295.0" r="1.35" fill="#72a83a"/>
<circle cx="660.3" cy="303.1" r="1.35" fill="#72a83a"/>
<circle cx="656.4" cy="304.4" r="1.35" fill="#72a83a"/>
<circle cx="659.9" cy="302.4" r="1.35" fill="#72a83a"/>
<circle cx="652.1" cy="307.1" r="1.35" fill="#72a83a"/>
<circle cx="657.0" cy="298.4" r="1.35" fill="#72a83a"/>
<circle cx="660.6" cy="306.1" r="1.35" fill="#72a83a"/>
<circle cx="656.9" cy="293.2" r="1.35" fill="#72a83a"/>
<circle cx="660.0" cy="276.7" r="1.35" fill="#72a83a"/>
<circle cx="654.2" cy="298.8" r="1.35" fill="#72a83a"/>
<circle cx="658.4" cy="308.6" r="1.35" fill="#72a83a"/>
<circle cx="654.9" cy="299.2" r="1.35" fill="#72a83a"/>
<circle cx="657.2" cy="304.0" r="1.35" fill="#72a83a"/>
<circle cx="658.6" cy="306.6" r="1.35" fill="#72a83a"/>
<circle cx="655.2" cy="302.8" r="1.35" fill="#72a83a"/>
<circle cx="657.0" cy="307.8" r="1.35" fill="#72a83a"/>
<circle cx="658.9" cy="305.9" r="1.35" fill="#72a83a"/>
<circle cx="655.3" cy="307.3" r="1.35" fill="#72a83a"/>
<circle cx="655.5" cy="307.1" r="1.35" fill="#72a83a"/>
<circle cx="652.2" cy="302.5" r="1.35" fill="#72a83a"/>
<circle cx="656.3" cy="308.3" r="1.35" fill="#72a83a"/>
<circle cx="656.5" cy="307.1" r="1.35" fill="#72a83a"/>
<circle cx="652.2" cy="307.4" r="1.35" fill="#72a83a"/>
<circle cx="661.0" cy="303.2" r="1.35" fill="#72a83a"/>
<circle cx="670.3" cy="294.1" r="1.35" fill="#9fbbcf"/>
<circle cx="665.0" cy="305.0" r="1.35" fill="#9fbbcf"/>
<circle cx="667.9" cy="306.4" r="1.35" fill="#9fbbcf"/>
<circle cx="665.6" cy="288.3" r="1.35" fill="#9fbbcf"/>
<circle cx="669.8" cy="287.5" r="1.35" fill="#9fbbcf"/>
<circle cx="667.3" cy="304.6" r="1.35" fill="#9fbbcf"/>
<circle cx="666.4" cy="285.1" r="1.35" fill="#9fbbcf"/>
<circle cx="670.2" cy="302.6" r="1.35" fill="#9fbbcf"/>
<circle cx="666.8" cy="307.1" r="1.35" fill="#9fbbcf"/>
<circle cx="673.5" cy="278.4" r="1.35" fill="#9fbbcf"/>
<circle cx="674.9" cy="299.2" r="1.35" fill="#9fbbcf"/>
<circle cx="672.5" cy="307.9" r="1.35" fill="#9fbbcf"/>
<circle cx="666.9" cy="298.7" r="1.35" fill="#9fbbcf"/>
<circle cx="675.7" cy="304.3" r="1.35" fill="#9fbbcf"/>
<circle cx="673.2" cy="305.8" r="1.35" fill="#9fbbcf"/>
<circle cx="672.1" cy="307.4" r="1.35" fill="#9fbbcf"/>
<circle cx="670.2" cy="306.4" r="1.35" fill="#9fbbcf"/>
<circle cx="674.5" cy="305.3" r="1.35" fill="#9fbbcf"/>
<circle cx="670.1" cy="298.9" r="1.35" fill="#9fbbcf"/>
<circle cx="669.2" cy="300.3" r="1.35" fill="#9fbbcf"/>
<circle cx="667.2" cy="297.0" r="1.35" fill="#9fbbcf"/>
<circle cx="671.1" cy="303.0" r="1.35" fill="#9fbbcf"/>
<circle cx="664.7" cy="305.2" r="1.35" fill="#9fbbcf"/>
<circle cx="671.8" cy="307.3" r="1.35" fill="#9fbbcf"/>
<circle cx="673.1" cy="307.0" r="1.35" fill="#9fbbcf"/>
<circle cx="675.4" cy="303.6" r="1.35" fill="#9fbbcf"/>
<circle cx="672.8" cy="295.2" r="1.35" fill="#9fbbcf"/>
<circle cx="664.7" cy="305.3" r="1.35" fill="#9fbbcf"/>
<circle cx="673.0" cy="302.8" r="1.35" fill="#9fbbcf"/>
<circle cx="666.6" cy="290.5" r="1.35" fill="#9fbbcf"/>
<circle cx="675.8" cy="307.4" r="1.35" fill="#9fbbcf"/>
<circle cx="669.9" cy="299.0" r="1.35" fill="#9fbbcf"/>
<circle cx="666.0" cy="299.1" r="1.35" fill="#9fbbcf"/>
<circle cx="672.1" cy="303.0" r="1.35" fill="#9fbbcf"/>
<circle cx="666.1" cy="302.0" r="1.35" fill="#9fbbcf"/>
<circle cx="671.6" cy="307.6" r="1.35" fill="#9fbbcf"/>
<circle cx="665.8" cy="293.2" r="1.35" fill="#9fbbcf"/>
<circle cx="665.2" cy="308.6" r="1.35" fill="#9fbbcf"/>
<circle cx="668.8" cy="297.7" r="1.35" fill="#9fbbcf"/>
<circle cx="675.9" cy="304.3" r="1.35" fill="#9fbbcf"/>
<circle cx="667.3" cy="301.9" r="1.35" fill="#9fbbcf"/>
<circle cx="664.2" cy="300.0" r="1.35" fill="#9fbbcf"/>
<circle cx="680.3" cy="306.3" r="1.35" fill="#72a83a"/>
<circle cx="678.5" cy="307.3" r="1.35" fill="#72a83a"/>
<circle cx="679.3" cy="303.4" r="1.35" fill="#72a83a"/>
<circle cx="678.7" cy="283.3" r="1.35" fill="#72a83a"/>
<circle cx="679.4" cy="297.1" r="1.35" fill="#72a83a"/>
<circle cx="679.6" cy="296.9" r="1.35" fill="#72a83a"/>
<circle cx="679.3" cy="300.8" r="1.35" fill="#72a83a"/>
<circle cx="679.6" cy="306.9" r="1.35" fill="#72a83a"/>
<circle cx="679.3" cy="297.1" r="1.35" fill="#72a83a"/>
<circle cx="679.5" cy="306.8" r="1.35" fill="#72a83a"/>
<circle cx="679.3" cy="308.0" r="1.35" fill="#72a83a"/>
<circle cx="679.9" cy="302.6" r="1.35" fill="#72a83a"/>
<circle cx="679.2" cy="302.2" r="1.35" fill="#72a83a"/>
<circle cx="678.5" cy="308.5" r="1.35" fill="#72a83a"/>
<circle cx="678.9" cy="305.7" r="1.35" fill="#72a83a"/>
<circle cx="687.4" cy="302.6" r="1.35" fill="#9fbbcf"/>
<circle cx="692.4" cy="298.4" r="1.35" fill="#9fbbcf"/>
<circle cx="694.4" cy="300.9" r="1.35" fill="#9fbbcf"/>
<circle cx="689.8" cy="303.4" r="1.35" fill="#9fbbcf"/>
<circle cx="684.4" cy="306.0" r="1.35" fill="#9fbbcf"/>
<circle cx="690.9" cy="297.3" r="1.35" fill="#9fbbcf"/>
<circle cx="697.2" cy="307.9" r="1.35" fill="#9fbbcf"/>
<circle cx="692.7" cy="302.4" r="1.35" fill="#9fbbcf"/>
<circle cx="685.4" cy="304.5" r="1.35" fill="#9fbbcf"/>
<circle cx="688.9" cy="307.4" r="1.35" fill="#9fbbcf"/>
<circle cx="690.9" cy="307.7" r="1.35" fill="#9fbbcf"/>
<circle cx="687.2" cy="304.0" r="1.35" fill="#9fbbcf"/>
<circle cx="689.6" cy="290.1" r="1.35" fill="#9fbbcf"/>
<circle cx="690.5" cy="308.6" r="1.35" fill="#9fbbcf"/>
<circle cx="694.0" cy="308.6" r="1.35" fill="#9fbbcf"/>
<circle cx="696.9" cy="294.1" r="1.35" fill="#9fbbcf"/>
<circle cx="693.5" cy="308.3" r="1.35" fill="#9fbbcf"/>
<circle cx="690.5" cy="306.1" r="1.35" fill="#9fbbcf"/>
<circle cx="688.0" cy="306.1" r="1.35" fill="#9fbbcf"/>
<circle cx="692.8" cy="307.7" r="1.35" fill="#9fbbcf"/>
<circle cx="697.8" cy="308.0" r="1.35" fill="#9fbbcf"/>
<circle cx="697.8" cy="308.4" r="1.35" fill="#9fbbcf"/>
<circle cx="684.7" cy="307.2" r="1.35" fill="#9fbbcf"/>
<circle cx="691.4" cy="298.9" r="1.35" fill="#9fbbcf"/>
<circle cx="691.0" cy="298.2" r="1.35" fill="#9fbbcf"/>
<circle cx="684.7" cy="301.5" r="1.35" fill="#9fbbcf"/>
<circle cx="691.1" cy="300.6" r="1.35" fill="#9fbbcf"/>
<circle cx="683.6" cy="285.2" r="1.35" fill="#9fbbcf"/>
<circle cx="693.5" cy="308.2" r="1.35" fill="#9fbbcf"/>
<circle cx="689.7" cy="290.0" r="1.35" fill="#9fbbcf"/>
<circle cx="691.8" cy="299.8" r="1.35" fill="#9fbbcf"/>
<circle cx="690.4" cy="305.1" r="1.35" fill="#9fbbcf"/>
<circle cx="683.9" cy="302.1" r="1.35" fill="#9fbbcf"/>
<circle cx="694.4" cy="306.1" r="1.35" fill="#9fbbcf"/>
<circle cx="690.5" cy="306.5" r="1.35" fill="#9fbbcf"/>
<circle cx="688.8" cy="306.6" r="1.35" fill="#9fbbcf"/>
<circle cx="694.5" cy="301.1" r="1.35" fill="#9fbbcf"/>
<circle cx="690.6" cy="286.2" r="1.35" fill="#9fbbcf"/>
<circle cx="688.5" cy="307.1" r="1.35" fill="#9fbbcf"/>
<circle cx="687.0" cy="308.2" r="1.35" fill="#9fbbcf"/>
<circle cx="692.5" cy="302.4" r="1.35" fill="#9fbbcf"/>
<circle cx="686.2" cy="306.7" r="1.35" fill="#9fbbcf"/>
<circle cx="686.1" cy="307.9" r="1.35" fill="#9fbbcf"/>
<circle cx="687.3" cy="303.7" r="1.35" fill="#9fbbcf"/>
<circle cx="691.9" cy="293.3" r="1.35" fill="#9fbbcf"/>
<circle cx="689.9" cy="305.7" r="1.35" fill="#9fbbcf"/>
<circle cx="694.3" cy="308.4" r="1.35" fill="#9fbbcf"/>
<circle cx="688.9" cy="298.7" r="1.35" fill="#9fbbcf"/>
<circle cx="687.5" cy="299.4" r="1.35" fill="#9fbbcf"/>
<circle cx="702.3" cy="306.9" r="1.35" fill="#72a83a"/>
<circle cx="705.1" cy="307.1" r="1.35" fill="#72a83a"/>
<circle cx="705.9" cy="301.3" r="1.35" fill="#72a83a"/>
<circle cx="706.2" cy="307.9" r="1.35" fill="#72a83a"/>
<circle cx="703.4" cy="304.0" r="1.35" fill="#72a83a"/>
<circle cx="703.8" cy="303.7" r="1.35" fill="#72a83a"/>
<circle cx="703.5" cy="307.1" r="1.35" fill="#72a83a"/>
<circle cx="705.8" cy="301.2" r="1.35" fill="#72a83a"/>
<circle cx="702.1" cy="291.0" r="1.35" fill="#72a83a"/>
<circle cx="706.5" cy="292.8" r="1.35" fill="#72a83a"/>
<circle cx="707.8" cy="299.7" r="1.35" fill="#72a83a"/>
<circle cx="706.3" cy="307.6" r="1.35" fill="#72a83a"/>
<circle cx="701.6" cy="292.2" r="1.35" fill="#72a83a"/>
<circle cx="707.5" cy="302.2" r="1.35" fill="#72a83a"/>
<circle cx="706.9" cy="306.2" r="1.35" fill="#72a83a"/>
<circle cx="703.8" cy="291.7" r="1.35" fill="#72a83a"/>
<circle cx="702.3" cy="307.6" r="1.35" fill="#72a83a"/>
<circle cx="703.7" cy="296.0" r="1.35" fill="#72a83a"/>
<circle cx="703.9" cy="306.0" r="1.35" fill="#72a83a"/>
<circle cx="702.5" cy="289.8" r="1.35" fill="#72a83a"/>
<circle cx="707.5" cy="308.5" r="1.35" fill="#72a83a"/>
<circle cx="703.5" cy="305.9" r="1.35" fill="#72a83a"/>
<circle cx="702.7" cy="282.0" r="1.35" fill="#72a83a"/>
<circle cx="707.1" cy="308.0" r="1.35" fill="#72a83a"/>
<circle cx="702.3" cy="306.7" r="1.35" fill="#72a83a"/>
<circle cx="702.4" cy="288.8" r="1.35" fill="#72a83a"/>
<circle cx="703.1" cy="292.1" r="1.35" fill="#72a83a"/>
<circle cx="702.3" cy="306.1" r="1.35" fill="#72a83a"/>
<circle cx="711.0" cy="303.1" r="1.35" fill="#9fbbcf"/>
<circle cx="710.9" cy="305.0" r="1.35" fill="#9fbbcf"/>
<circle cx="711.3" cy="306.1" r="1.35" fill="#9fbbcf"/>
<circle cx="711.2" cy="289.2" r="1.35" fill="#9fbbcf"/>
<circle cx="710.4" cy="296.4" r="1.35" fill="#9fbbcf"/>
<circle cx="710.5" cy="306.6" r="1.35" fill="#9fbbcf"/>
<circle cx="711.5" cy="307.5" r="1.35" fill="#9fbbcf"/>
<circle cx="711.4" cy="291.8" r="1.35" fill="#9fbbcf"/>
<circle cx="710.4" cy="302.8" r="1.35" fill="#9fbbcf"/>
<circle cx="710.4" cy="304.7" r="1.35" fill="#9fbbcf"/>
<circle cx="715.1" cy="291.8" r="1.35" fill="#72a83a"/>
<circle cx="718.3" cy="306.2" r="1.35" fill="#72a83a"/>
<circle cx="718.2" cy="307.1" r="1.35" fill="#72a83a"/>
<circle cx="717.0" cy="306.0" r="1.35" fill="#72a83a"/>
<circle cx="718.1" cy="307.9" r="1.35" fill="#72a83a"/>
<circle cx="715.5" cy="305.0" r="1.35" fill="#72a83a"/>
<circle cx="716.7" cy="301.1" r="1.35" fill="#72a83a"/>
<circle cx="714.5" cy="306.6" r="1.35" fill="#72a83a"/>
<circle cx="714.0" cy="302.5" r="1.35" fill="#72a83a"/>
<circle cx="715.5" cy="294.0" r="1.35" fill="#72a83a"/>
<circle cx="715.4" cy="307.3" r="1.35" fill="#72a83a"/>
<circle cx="715.4" cy="307.8" r="1.35" fill="#72a83a"/>
<circle cx="715.8" cy="303.1" r="1.35" fill="#72a83a"/>
<circle cx="715.3" cy="305.8" r="1.35" fill="#72a83a"/>
<circle cx="717.6" cy="303.9" r="1.35" fill="#72a83a"/>
<circle cx="717.5" cy="304.6" r="1.35" fill="#72a83a"/>
<circle cx="714.5" cy="304.0" r="1.35" fill="#72a83a"/>
<circle cx="717.9" cy="307.3" r="1.35" fill="#72a83a"/>
<circle cx="715.7" cy="304.0" r="1.35" fill="#72a83a"/>
<circle cx="717.9" cy="303.5" r="1.35" fill="#72a83a"/>
<circle cx="715.6" cy="305.3" r="1.35" fill="#72a83a"/>
<circle cx="721.1" cy="305.4" r="1.35" fill="#9fbbcf"/>
<circle cx="724.0" cy="303.0" r="1.35" fill="#9fbbcf"/>
<circle cx="723.8" cy="303.8" r="1.35" fill="#9fbbcf"/>
<circle cx="725.5" cy="304.1" r="1.35" fill="#9fbbcf"/>
<circle cx="727.2" cy="307.2" r="1.35" fill="#9fbbcf"/>
<circle cx="726.5" cy="307.8" r="1.35" fill="#9fbbcf"/>
<circle cx="726.0" cy="307.3" r="1.35" fill="#9fbbcf"/>
<circle cx="721.5" cy="306.5" r="1.35" fill="#9fbbcf"/>
<circle cx="726.3" cy="303.1" r="1.35" fill="#9fbbcf"/>
<circle cx="726.5" cy="295.3" r="1.35" fill="#9fbbcf"/>
<circle cx="721.3" cy="280.7" r="1.35" fill="#9fbbcf"/>
<circle cx="721.7" cy="305.3" r="1.35" fill="#9fbbcf"/>
<circle cx="723.8" cy="298.6" r="1.35" fill="#9fbbcf"/>
<circle cx="726.0" cy="298.9" r="1.35" fill="#9fbbcf"/>
<circle cx="726.5" cy="300.6" r="1.35" fill="#9fbbcf"/>
<circle cx="721.5" cy="303.0" r="1.35" fill="#9fbbcf"/>
<circle cx="721.6" cy="292.8" r="1.35" fill="#9fbbcf"/>
<circle cx="726.2" cy="308.0" r="1.35" fill="#9fbbcf"/>
<circle cx="725.2" cy="306.3" r="1.35" fill="#9fbbcf"/>
<circle cx="722.3" cy="308.5" r="1.35" fill="#9fbbcf"/>
<circle cx="721.2" cy="299.7" r="1.35" fill="#9fbbcf"/>
<circle cx="726.9" cy="303.6" r="1.35" fill="#9fbbcf"/>
<circle cx="725.4" cy="306.9" r="1.35" fill="#9fbbcf"/>
<circle cx="724.9" cy="298.9" r="1.35" fill="#9fbbcf"/>
<circle cx="725.4" cy="298.3" r="1.35" fill="#9fbbcf"/>
<circle cx="467.0" cy="287.1" r="1.35" fill="#9fbbcf"/>
<circle cx="465.5" cy="286.8" r="1.35" fill="#9fbbcf"/>
<circle cx="456.1" cy="282.8" r="1.35" fill="#9fbbcf"/>
<circle cx="469.1" cy="285.4" r="1.35" fill="#9fbbcf"/>
<circle cx="453.4" cy="272.2" r="1.35" fill="#9fbbcf"/>
<circle cx="453.3" cy="290.8" r="1.35" fill="#9fbbcf"/>
<circle cx="470.9" cy="270.9" r="1.35" fill="#9fbbcf"/>
<circle cx="479.4" cy="295.7" r="1.35" fill="#9fbbcf"/>
<circle cx="468.7" cy="280.1" r="1.35" fill="#9fbbcf"/>
<circle cx="451.1" cy="293.8" r="1.35" fill="#9fbbcf"/>
<circle cx="452.4" cy="284.8" r="1.35" fill="#9fbbcf"/>
<circle cx="457.8" cy="293.1" r="1.35" fill="#9fbbcf"/>
<circle cx="464.2" cy="295.9" r="1.35" fill="#9fbbcf"/>
<circle cx="475.3" cy="287.5" r="1.35" fill="#9fbbcf"/>
<circle cx="469.4" cy="285.1" r="1.35" fill="#9fbbcf"/>
<circle cx="470.0" cy="285.8" r="1.35" fill="#9fbbcf"/>
<circle cx="458.8" cy="287.0" r="1.35" fill="#9fbbcf"/>
<circle cx="471.4" cy="268.2" r="1.35" fill="#9fbbcf"/>
<circle cx="457.4" cy="290.6" r="1.35" fill="#9fbbcf"/>
<circle cx="452.8" cy="291.2" r="1.35" fill="#9fbbcf"/>
<circle cx="462.4" cy="274.1" r="1.35" fill="#9fbbcf"/>
<circle cx="462.0" cy="267.6" r="1.35" fill="#9fbbcf"/>
<circle cx="450.7" cy="267.5" r="1.35" fill="#9fbbcf"/>
<circle cx="477.3" cy="292.8" r="1.35" fill="#9fbbcf"/>
<circle cx="479.3" cy="286.6" r="1.35" fill="#9fbbcf"/>
<circle cx="452.8" cy="288.6" r="1.35" fill="#9fbbcf"/>
<circle cx="473.4" cy="281.1" r="1.35" fill="#9fbbcf"/>
<circle cx="453.2" cy="291.6" r="1.35" fill="#9fbbcf"/>
<circle cx="478.9" cy="290.2" r="1.35" fill="#9fbbcf"/>
<circle cx="454.1" cy="274.6" r="1.35" fill="#9fbbcf"/>
<circle cx="453.7" cy="292.0" r="1.35" fill="#9fbbcf"/>
<circle cx="474.0" cy="295.4" r="1.35" fill="#9fbbcf"/>
<circle cx="467.0" cy="293.4" r="1.35" fill="#9fbbcf"/>
<circle cx="456.3" cy="287.3" r="1.35" fill="#9fbbcf"/>
<circle cx="454.5" cy="276.2" r="1.35" fill="#9fbbcf"/>
<circle cx="454.1" cy="280.5" r="1.35" fill="#9fbbcf"/>
<circle cx="485.7" cy="288.0" r="1.35" fill="#72a83a"/>
<circle cx="497.6" cy="291.6" r="1.35" fill="#72a83a"/>
<circle cx="487.1" cy="271.4" r="1.35" fill="#72a83a"/>
<circle cx="488.5" cy="292.8" r="1.35" fill="#72a83a"/>
<circle cx="492.4" cy="266.8" r="1.35" fill="#72a83a"/>
<circle cx="497.9" cy="294.8" r="1.35" fill="#72a83a"/>
<circle cx="486.4" cy="292.7" r="1.35" fill="#72a83a"/>
<circle cx="487.5" cy="273.6" r="1.35" fill="#72a83a"/>
<circle cx="483.5" cy="291.0" r="1.35" fill="#72a83a"/>
<circle cx="491.5" cy="294.9" r="1.35" fill="#72a83a"/>
<circle cx="491.8" cy="292.1" r="1.35" fill="#72a83a"/>
<circle cx="489.5" cy="289.3" r="1.35" fill="#72a83a"/>
<circle cx="491.4" cy="286.2" r="1.35" fill="#72a83a"/>
<circle cx="485.2" cy="265.5" r="1.35" fill="#72a83a"/>
<circle cx="496.7" cy="293.8" r="1.35" fill="#72a83a"/>
<circle cx="486.2" cy="270.2" r="1.35" fill="#72a83a"/>
<circle cx="494.0" cy="293.2" r="1.35" fill="#72a83a"/>
<circle cx="497.3" cy="293.0" r="1.35" fill="#72a83a"/>
<circle cx="489.0" cy="282.2" r="1.35" fill="#72a83a"/>
<circle cx="500.8" cy="294.7" r="1.35" fill="#9fbbcf"/>
<circle cx="506.6" cy="292.2" r="1.35" fill="#9fbbcf"/>
<circle cx="507.6" cy="291.8" r="1.35" fill="#9fbbcf"/>
<circle cx="503.0" cy="282.5" r="1.35" fill="#9fbbcf"/>
<circle cx="506.7" cy="293.4" r="1.35" fill="#9fbbcf"/>
<circle cx="502.5" cy="295.3" r="1.35" fill="#9fbbcf"/>
<circle cx="507.8" cy="283.8" r="1.35" fill="#9fbbcf"/>
<circle cx="502.9" cy="281.8" r="1.35" fill="#9fbbcf"/>
<circle cx="500.6" cy="292.9" r="1.35" fill="#9fbbcf"/>
<circle cx="504.3" cy="291.6" r="1.35" fill="#9fbbcf"/>
<circle cx="502.0" cy="295.4" r="1.35" fill="#9fbbcf"/>
<circle cx="505.4" cy="289.3" r="1.35" fill="#9fbbcf"/>
<circle cx="515.2" cy="294.2" r="1.35" fill="#72a83a"/>
<circle cx="518.6" cy="280.0" r="1.35" fill="#72a83a"/>
<circle cx="512.9" cy="282.9" r="1.35" fill="#72a83a"/>
<circle cx="511.7" cy="295.8" r="1.35" fill="#72a83a"/>
<circle cx="521.4" cy="277.8" r="1.35" fill="#72a83a"/>
<circle cx="518.1" cy="296.1" r="1.35" fill="#72a83a"/>
<circle cx="519.0" cy="286.3" r="1.35" fill="#72a83a"/>
<circle cx="521.8" cy="290.5" r="1.35" fill="#72a83a"/>
<circle cx="517.1" cy="295.2" r="1.35" fill="#72a83a"/>
<circle cx="520.8" cy="275.9" r="1.35" fill="#72a83a"/>
<circle cx="518.7" cy="275.9" r="1.35" fill="#72a83a"/>
<circle cx="520.9" cy="272.2" r="1.35" fill="#72a83a"/>
<circle cx="518.6" cy="289.7" r="1.35" fill="#72a83a"/>
<circle cx="529.1" cy="264.9" r="1.35" fill="#9fbbcf"/>
<circle cx="534.4" cy="272.4" r="1.35" fill="#9fbbcf"/>
<circle cx="531.6" cy="283.3" r="1.35" fill="#9fbbcf"/>
<circle cx="531.1" cy="289.0" r="1.35" fill="#9fbbcf"/>
<circle cx="525.1" cy="282.0" r="1.35" fill="#9fbbcf"/>
<circle cx="535.9" cy="280.7" r="1.35" fill="#9fbbcf"/>
<circle cx="528.8" cy="276.4" r="1.35" fill="#9fbbcf"/>
<circle cx="531.1" cy="276.0" r="1.35" fill="#9fbbcf"/>
<circle cx="534.1" cy="287.5" r="1.35" fill="#9fbbcf"/>
<circle cx="533.1" cy="295.0" r="1.35" fill="#9fbbcf"/>
<circle cx="531.3" cy="295.9" r="1.35" fill="#9fbbcf"/>
<circle cx="526.9" cy="286.3" r="1.35" fill="#9fbbcf"/>
<circle cx="530.1" cy="278.0" r="1.35" fill="#9fbbcf"/>
<circle cx="535.1" cy="281.7" r="1.35" fill="#9fbbcf"/>
<circle cx="524.3" cy="291.9" r="1.35" fill="#9fbbcf"/>
<circle cx="532.2" cy="290.9" r="1.35" fill="#9fbbcf"/>
<circle cx="540.9" cy="292.9" r="1.35" fill="#72a83a"/>
<circle cx="544.8" cy="279.8" r="1.35" fill="#72a83a"/>
<circle cx="548.1" cy="290.3" r="1.35" fill="#72a83a"/>
<circle cx="544.6" cy="293.0" r="1.35" fill="#72a83a"/>
<circle cx="551.7" cy="271.2" r="1.35" fill="#72a83a"/>
<circle cx="546.9" cy="288.9" r="1.35" fill="#72a83a"/>
<circle cx="540.4" cy="290.5" r="1.35" fill="#72a83a"/>
<circle cx="550.5" cy="285.9" r="1.35" fill="#72a83a"/>
<circle cx="548.7" cy="267.4" r="1.35" fill="#72a83a"/>
<circle cx="540.9" cy="291.4" r="1.35" fill="#72a83a"/>
<circle cx="542.4" cy="287.2" r="1.35" fill="#72a83a"/>
<circle cx="544.4" cy="292.7" r="1.35" fill="#72a83a"/>
<circle cx="545.6" cy="281.3" r="1.35" fill="#72a83a"/>
<circle cx="550.6" cy="290.6" r="1.35" fill="#72a83a"/>
<circle cx="539.5" cy="287.1" r="1.35" fill="#72a83a"/>
<circle cx="551.1" cy="295.9" r="1.35" fill="#72a83a"/>
<circle cx="562.9" cy="295.7" r="1.35" fill="#9fbbcf"/>
<circle cx="558.6" cy="283.4" r="1.35" fill="#9fbbcf"/>
<circle cx="555.5" cy="272.3" r="1.35" fill="#9fbbcf"/>
<circle cx="560.2" cy="294.1" r="1.35" fill="#9fbbcf"/>
<circle cx="564.2" cy="296.0" r="1.35" fill="#9fbbcf"/>
<circle cx="556.8" cy="292.2" r="1.35" fill="#9fbbcf"/>
<circle cx="562.0" cy="295.7" r="1.35" fill="#9fbbcf"/>
<circle cx="562.0" cy="287.3" r="1.35" fill="#9fbbcf"/>
<circle cx="563.9" cy="280.0" r="1.35" fill="#9fbbcf"/>
<circle cx="557.4" cy="278.7" r="1.35" fill="#9fbbcf"/>
<circle cx="557.2" cy="286.5" r="1.35" fill="#9fbbcf"/>
<circle cx="560.4" cy="296.2" r="1.35" fill="#9fbbcf"/>
<circle cx="557.2" cy="277.2" r="1.35" fill="#9fbbcf"/>
<circle cx="559.0" cy="291.5" r="1.35" fill="#9fbbcf"/>
<circle cx="560.9" cy="278.0" r="1.35" fill="#9fbbcf"/>
<circle cx="563.4" cy="281.8" r="1.35" fill="#9fbbcf"/>
<circle cx="575.7" cy="288.7" r="1.35" fill="#72a83a"/>
<circle cx="577.0" cy="295.0" r="1.35" fill="#72a83a"/>
<circle cx="569.6" cy="276.7" r="1.35" fill="#72a83a"/>
<circle cx="574.2" cy="287.1" r="1.35" fill="#72a83a"/>
<circle cx="573.6" cy="289.1" r="1.35" fill="#72a83a"/>
<circle cx="577.1" cy="271.9" r="1.35" fill="#72a83a"/>
<circle cx="574.4" cy="286.8" r="1.35" fill="#72a83a"/>
<circle cx="575.0" cy="292.9" r="1.35" fill="#72a83a"/>
<circle cx="574.3" cy="270.2" r="1.35" fill="#72a83a"/>
<circle cx="570.4" cy="277.0" r="1.35" fill="#72a83a"/>
<circle cx="586.6" cy="284.6" r="1.35" fill="#9fbbcf"/>
<circle cx="587.6" cy="290.5" r="1.35" fill="#9fbbcf"/>
<circle cx="582.9" cy="266.6" r="1.35" fill="#9fbbcf"/>
<circle cx="583.7" cy="295.1" r="1.35" fill="#9fbbcf"/>
<circle cx="586.4" cy="284.1" r="1.35" fill="#9fbbcf"/>
<circle cx="580.2" cy="286.1" r="1.35" fill="#9fbbcf"/>
<circle cx="580.5" cy="271.0" r="1.35" fill="#9fbbcf"/>
<circle cx="581.4" cy="271.7" r="1.35" fill="#9fbbcf"/>
<circle cx="586.5" cy="290.1" r="1.35" fill="#9fbbcf"/>
<circle cx="581.2" cy="294.1" r="1.35" fill="#9fbbcf"/>
<circle cx="586.0" cy="285.2" r="1.35" fill="#9fbbcf"/>
<circle cx="585.7" cy="268.2" r="1.35" fill="#9fbbcf"/>
<circle cx="599.5" cy="286.0" r="1.35" fill="#72a83a"/>
<circle cx="592.8" cy="295.0" r="1.35" fill="#72a83a"/>
<circle cx="593.4" cy="284.9" r="1.35" fill="#72a83a"/>
<circle cx="596.6" cy="276.3" r="1.35" fill="#72a83a"/>
<circle cx="598.5" cy="285.0" r="1.35" fill="#72a83a"/>
<circle cx="593.6" cy="283.8" r="1.35" fill="#72a83a"/>
<circle cx="598.6" cy="289.0" r="1.35" fill="#72a83a"/>
<circle cx="598.6" cy="292.8" r="1.35" fill="#72a83a"/>
<circle cx="596.0" cy="285.0" r="1.35" fill="#72a83a"/>
<circle cx="595.7" cy="292.9" r="1.35" fill="#72a83a"/>
<circle cx="596.3" cy="285.6" r="1.35" fill="#72a83a"/>
<circle cx="599.7" cy="296.0" r="1.35" fill="#72a83a"/>
<circle cx="607.9" cy="285.2" r="1.35" fill="#9fbbcf"/>
<circle cx="610.2" cy="271.6" r="1.35" fill="#9fbbcf"/>
<circle cx="611.9" cy="286.0" r="1.35" fill="#9fbbcf"/>
<circle cx="609.8" cy="295.3" r="1.35" fill="#9fbbcf"/>
<circle cx="615.6" cy="288.2" r="1.35" fill="#9fbbcf"/>
<circle cx="608.9" cy="291.6" r="1.35" fill="#9fbbcf"/>
<circle cx="608.4" cy="294.3" r="1.35" fill="#9fbbcf"/>
<circle cx="614.8" cy="270.4" r="1.35" fill="#9fbbcf"/>
<circle cx="606.8" cy="286.4" r="1.35" fill="#9fbbcf"/>
<circle cx="610.9" cy="293.1" r="1.35" fill="#9fbbcf"/>
<circle cx="613.2" cy="294.3" r="1.35" fill="#9fbbcf"/>
<circle cx="605.1" cy="296.0" r="1.35" fill="#9fbbcf"/>
<circle cx="611.9" cy="292.4" r="1.35" fill="#9fbbcf"/>
<circle cx="607.3" cy="290.4" r="1.35" fill="#9fbbcf"/>
<circle cx="603.8" cy="281.5" r="1.35" fill="#9fbbcf"/>
<circle cx="604.1" cy="276.2" r="1.35" fill="#9fbbcf"/>
<circle cx="605.9" cy="285.4" r="1.35" fill="#9fbbcf"/>
<circle cx="609.7" cy="293.0" r="1.35" fill="#9fbbcf"/>
<circle cx="607.6" cy="287.6" r="1.35" fill="#9fbbcf"/>
<circle cx="624.3" cy="288.2" r="1.35" fill="#72a83a"/>
<circle cx="620.8" cy="293.7" r="1.35" fill="#72a83a"/>
<circle cx="625.5" cy="281.1" r="1.35" fill="#72a83a"/>
<circle cx="627.8" cy="284.8" r="1.35" fill="#72a83a"/>
<circle cx="627.9" cy="281.9" r="1.35" fill="#72a83a"/>
<circle cx="626.6" cy="292.3" r="1.35" fill="#72a83a"/>
<circle cx="628.3" cy="270.8" r="1.35" fill="#72a83a"/>
<circle cx="622.0" cy="290.6" r="1.35" fill="#72a83a"/>
<circle cx="629.4" cy="292.6" r="1.35" fill="#72a83a"/>
<circle cx="621.2" cy="294.2" r="1.35" fill="#72a83a"/>
<circle cx="621.4" cy="276.5" r="1.35" fill="#72a83a"/>
<circle cx="627.6" cy="294.8" r="1.35" fill="#72a83a"/>
<circle cx="627.1" cy="288.0" r="1.35" fill="#72a83a"/>
<circle cx="623.0" cy="294.3" r="1.35" fill="#72a83a"/>
<circle cx="618.8" cy="278.6" r="1.35" fill="#72a83a"/>
<circle cx="632.3" cy="292.9" r="1.35" fill="#9fbbcf"/>
<circle cx="632.2" cy="294.5" r="1.35" fill="#9fbbcf"/>
<circle cx="636.5" cy="274.6" r="1.35" fill="#72a83a"/>
<circle cx="635.5" cy="278.6" r="1.35" fill="#72a83a"/>
<circle cx="635.2" cy="295.3" r="1.35" fill="#72a83a"/>
<circle cx="636.7" cy="295.8" r="1.35" fill="#72a83a"/>
<circle cx="636.7" cy="285.3" r="1.35" fill="#72a83a"/>
<circle cx="635.5" cy="294.0" r="1.35" fill="#72a83a"/>
<circle cx="637.6" cy="292.9" r="1.35" fill="#72a83a"/>
<circle cx="641.0" cy="294.9" r="1.35" fill="#9fbbcf"/>
<circle cx="646.8" cy="286.9" r="1.35" fill="#9fbbcf"/>
<circle cx="644.3" cy="290.3" r="1.35" fill="#9fbbcf"/>
<circle cx="644.0" cy="285.3" r="1.35" fill="#9fbbcf"/>
<circle cx="640.6" cy="282.3" r="1.35" fill="#9fbbcf"/>
<circle cx="647.4" cy="277.8" r="1.35" fill="#9fbbcf"/>
<circle cx="644.2" cy="293.3" r="1.35" fill="#9fbbcf"/>
<circle cx="643.8" cy="275.7" r="1.35" fill="#9fbbcf"/>
<circle cx="641.9" cy="293.1" r="1.35" fill="#9fbbcf"/>
<circle cx="640.6" cy="285.4" r="1.35" fill="#9fbbcf"/>
<circle cx="658.6" cy="271.5" r="1.35" fill="#72a83a"/>
<circle cx="657.8" cy="266.1" r="1.35" fill="#72a83a"/>
<circle cx="657.5" cy="288.4" r="1.35" fill="#72a83a"/>
<circle cx="661.6" cy="285.6" r="1.35" fill="#72a83a"/>
<circle cx="653.9" cy="271.3" r="1.35" fill="#72a83a"/>
<circle cx="659.4" cy="275.4" r="1.35" fill="#72a83a"/>
<circle cx="655.4" cy="270.5" r="1.35" fill="#72a83a"/>
<circle cx="659.3" cy="278.2" r="1.35" fill="#72a83a"/>
<circle cx="655.4" cy="274.1" r="1.35" fill="#72a83a"/>
<circle cx="651.9" cy="276.7" r="1.35" fill="#72a83a"/>
<circle cx="656.1" cy="290.0" r="1.35" fill="#72a83a"/>
<circle cx="654.9" cy="296.2" r="1.35" fill="#72a83a"/>
<circle cx="657.8" cy="280.8" r="1.35" fill="#72a83a"/>
<circle cx="675.3" cy="292.3" r="1.35" fill="#9fbbcf"/>
<circle cx="668.2" cy="279.5" r="1.35" fill="#9fbbcf"/>
<circle cx="670.9" cy="279.8" r="1.35" fill="#9fbbcf"/>
<circle cx="668.8" cy="284.7" r="1.35" fill="#9fbbcf"/>
<circle cx="672.5" cy="280.6" r="1.35" fill="#9fbbcf"/>
<circle cx="675.8" cy="274.4" r="1.35" fill="#9fbbcf"/>
<circle cx="671.5" cy="296.0" r="1.35" fill="#9fbbcf"/>
<circle cx="667.2" cy="275.8" r="1.35" fill="#9fbbcf"/>
<circle cx="664.8" cy="288.5" r="1.35" fill="#9fbbcf"/>
<circle cx="668.6" cy="293.0" r="1.35" fill="#9fbbcf"/>
<circle cx="667.2" cy="294.8" r="1.35" fill="#9fbbcf"/>
<circle cx="670.2" cy="284.1" r="1.35" fill="#9fbbcf"/>
<circle cx="675.9" cy="283.5" r="1.35" fill="#9fbbcf"/>
<circle cx="673.8" cy="280.8" r="1.35" fill="#9fbbcf"/>
<circle cx="671.3" cy="295.2" r="1.35" fill="#9fbbcf"/>
<circle cx="678.5" cy="274.5" r="1.35" fill="#72a83a"/>
<circle cx="679.7" cy="293.7" r="1.35" fill="#72a83a"/>
<circle cx="679.7" cy="293.5" r="1.35" fill="#72a83a"/>
<circle cx="678.6" cy="281.9" r="1.35" fill="#72a83a"/>
<circle cx="691.3" cy="288.0" r="1.35" fill="#9fbbcf"/>
<circle cx="688.9" cy="282.4" r="1.35" fill="#9fbbcf"/>
<circle cx="693.2" cy="291.2" r="1.35" fill="#9fbbcf"/>
<circle cx="687.7" cy="283.8" r="1.35" fill="#9fbbcf"/>
<circle cx="687.9" cy="277.0" r="1.35" fill="#9fbbcf"/>
<circle cx="687.1" cy="296.2" r="1.35" fill="#9fbbcf"/>
<circle cx="685.8" cy="295.7" r="1.35" fill="#9fbbcf"/>
<circle cx="689.3" cy="274.8" r="1.35" fill="#9fbbcf"/>
<circle cx="684.2" cy="275.2" r="1.35" fill="#9fbbcf"/>
<circle cx="696.9" cy="295.2" r="1.35" fill="#9fbbcf"/>
<circle cx="690.6" cy="287.8" r="1.35" fill="#9fbbcf"/>
<circle cx="691.2" cy="292.1" r="1.35" fill="#9fbbcf"/>
<circle cx="690.4" cy="276.7" r="1.35" fill="#9fbbcf"/>
<circle cx="692.4" cy="270.3" r="1.35" fill="#9fbbcf"/>
<circle cx="692.7" cy="294.5" r="1.35" fill="#9fbbcf"/>
<circle cx="686.5" cy="287.0" r="1.35" fill="#9fbbcf"/>
<circle cx="704.5" cy="295.6" r="1.35" fill="#72a83a"/>
<circle cx="703.9" cy="294.4" r="1.35" fill="#72a83a"/>
<circle cx="704.0" cy="279.5" r="1.35" fill="#72a83a"/>
<circle cx="704.9" cy="291.7" r="1.35" fill="#72a83a"/>
<circle cx="706.3" cy="288.0" r="1.35" fill="#72a83a"/>
<circle cx="707.9" cy="284.8" r="1.35" fill="#72a83a"/>
<circle cx="702.4" cy="276.0" r="1.35" fill="#72a83a"/>
<circle cx="707.1" cy="294.5" r="1.35" fill="#72a83a"/>
<circle cx="705.2" cy="272.8" r="1.35" fill="#72a83a"/>
<circle cx="702.7" cy="289.6" r="1.35" fill="#72a83a"/>
<circle cx="704.8" cy="278.6" r="1.35" fill="#72a83a"/>
<circle cx="711.1" cy="282.6" r="1.35" fill="#9fbbcf"/>
<circle cx="710.5" cy="274.9" r="1.35" fill="#9fbbcf"/>
<circle cx="711.5" cy="292.0" r="1.35" fill="#9fbbcf"/>
<circle cx="714.2" cy="295.8" r="1.35" fill="#72a83a"/>
<circle cx="715.9" cy="291.5" r="1.35" fill="#72a83a"/>
<circle cx="714.4" cy="281.4" r="1.35" fill="#72a83a"/>
<circle cx="714.2" cy="284.4" r="1.35" fill="#72a83a"/>
<circle cx="717.1" cy="295.0" r="1.35" fill="#72a83a"/>
<circle cx="716.9" cy="284.1" r="1.35" fill="#72a83a"/>
<circle cx="716.1" cy="289.2" r="1.35" fill="#72a83a"/>
<circle cx="715.5" cy="292.8" r="1.35" fill="#72a83a"/>
<circle cx="726.3" cy="275.4" r="1.35" fill="#9fbbcf"/>
<circle cx="721.8" cy="295.2" r="1.35" fill="#9fbbcf"/>
<circle cx="724.9" cy="270.9" r="1.35" fill="#9fbbcf"/>
<circle cx="722.3" cy="273.9" r="1.35" fill="#9fbbcf"/>
<circle cx="722.6" cy="287.9" r="1.35" fill="#9fbbcf"/>
<circle cx="723.3" cy="270.9" r="1.35" fill="#9fbbcf"/>
<circle cx="727.2" cy="280.1" r="1.35" fill="#9fbbcf"/>
<circle cx="724.5" cy="290.3" r="1.35" fill="#9fbbcf"/>
<circle cx="726.8" cy="275.3" r="1.35" fill="#9fbbcf"/>
<circle cx="723.3" cy="287.8" r="1.35" fill="#9fbbcf"/>
<circle cx="726.5" cy="294.8" r="1.35" fill="#9fbbcf"/>
<line x1="442.5" y1="245.14" x2="736.5" y2="245.14" stroke="#6a6cb6" stroke-width="1.4"/>
<line x1="467" y1="312.35" x2="724.65" y2="312.35" stroke="#999" stroke-width="0.8"/>
<line x1="467" y1="312.25" x2="467" y2="318.75" stroke="#444" stroke-width="1"/>
<text x="467" y="334.05" class="tk2" text-anchor="middle">1</text>
<line x1="491.7" y1="312.25" x2="491.7" y2="318.75" stroke="#444" stroke-width="1"/>
<text x="491.7" y="334.05" class="tk2" text-anchor="middle">2</text>
<line x1="506.1" y1="312.25" x2="506.1" y2="318.75" stroke="#444" stroke-width="1"/>
<text x="506.1" y="334.05" class="tk2" text-anchor="middle">3</text>
<line x1="517.75" y1="312.25" x2="517.75" y2="318.75" stroke="#444" stroke-width="1"/>
<line x1="530.9" y1="312.25" x2="530.9" y2="318.75" stroke="#444" stroke-width="1"/>
<text x="530.9" y="334.05" class="tk2" text-anchor="middle">5</text>
<line x1="546.8" y1="312.25" x2="546.8" y2="318.75" stroke="#444" stroke-width="1"/>
<text x="546.8" y="334.05" class="tk2" text-anchor="middle">6</text>
<line x1="561.5" y1="312.25" x2="561.5" y2="318.75" stroke="#444" stroke-width="1"/>
<text x="561.5" y="334.05" class="tk2" text-anchor="middle">7</text>
<line x1="574.1" y1="312.25" x2="574.1" y2="318.75" stroke="#444" stroke-width="1"/>
<line x1="585.25" y1="312.25" x2="585.25" y2="318.75" stroke="#444" stroke-width="1"/>
<text x="585.25" y="334.05" class="tk2" text-anchor="middle">9</text>
<line x1="596.9" y1="312.25" x2="596.9" y2="318.75" stroke="#444" stroke-width="1"/>
<line x1="610.9" y1="312.25" x2="610.9" y2="318.75" stroke="#444" stroke-width="1"/>
<text x="610.9" y="334.05" class="tk2" text-anchor="middle">11</text>
<line x1="624.7" y1="312.25" x2="624.7" y2="318.75" stroke="#444" stroke-width="1"/>
<line x1="632.6" y1="312.25" x2="632.6" y2="318.75" stroke="#444" stroke-width="1"/>
<text x="632.6" y="334.05" class="tk2" text-anchor="middle">13</text>
<line x1="637.65" y1="312.25" x2="637.65" y2="318.75" stroke="#444" stroke-width="1"/>
<line x1="645.75" y1="312.25" x2="645.75" y2="318.75" stroke="#444" stroke-width="1"/>
<line x1="657.6" y1="312.25" x2="657.6" y2="318.75" stroke="#444" stroke-width="1"/>
<text x="657.6" y="334.05" class="tk2" text-anchor="middle">16</text>
<line x1="671.65" y1="312.25" x2="671.65" y2="318.75" stroke="#444" stroke-width="1"/>
<line x1="681.25" y1="312.25" x2="681.25" y2="318.75" stroke="#444" stroke-width="1"/>
<text x="681.25" y="334.05" class="tk2" text-anchor="middle">18</text>
<line x1="692.35" y1="312.25" x2="692.35" y2="318.75" stroke="#444" stroke-width="1"/>
<line x1="706.3" y1="312.25" x2="706.3" y2="318.75" stroke="#444" stroke-width="1"/>
<text x="706.3" y="334.05" class="tk2" text-anchor="middle">20</text>
<line x1="712.8" y1="312.25" x2="712.8" y2="318.75" stroke="#444" stroke-width="1"/>
<line x1="717.8" y1="312.25" x2="717.8" y2="318.75" stroke="#444" stroke-width="1"/>
<line x1="724.65" y1="312.25" x2="724.65" y2="318.75" stroke="#444" stroke-width="1"/>
<text x="724.65" y="334.05" class="tk2" text-anchor="middle">X</text>
<text x="589.6" y="358.75" class="xl" text-anchor="middle">Chromosome</text>
<text transform="translate(8.30,392.00) scale(1,1.07)" class="lab">C.</text>
<text x="199.5" y="399.8" class="ttl" text-anchor="middle">Seroprotection H1N1 UGA4 Vaccine Adj.P</text>
<line x1="52.5" y1="420.5" x2="52.5" y2="677.25" stroke="#7a7a7a" stroke-width="1"/>
<line x1="46.0" y1="677.25" x2="52.5" y2="677.25" stroke="#555" stroke-width="1"/>
<text x="37.7" y="680.25" class="tk" text-anchor="middle">0</text>
<line x1="46.0" y1="626.05" x2="52.5" y2="626.05" stroke="#555" stroke-width="1"/>
<text x="37.7" y="629.05" class="tk" text-anchor="middle">1</text>
<line x1="46.0" y1="574.85" x2="52.5" y2="574.85" stroke="#555" stroke-width="1"/>
<text x="37.7" y="577.85" class="tk" text-anchor="middle">2</text>
<line x1="46.0" y1="523.65" x2="52.5" y2="523.65" stroke="#555" stroke-width="1"/>
<text x="37.7" y="526.65" class="tk" text-anchor="middle">3</text>
<line x1="46.0" y1="472.45" x2="52.5" y2="472.45" stroke="#555" stroke-width="1"/>
<text x="37.7" y="475.45" class="tk" text-anchor="middle">4</text>
<line x1="46.0" y1="421.25" x2="52.5" y2="421.25" stroke="#555" stroke-width="1"/>
<text x="37.7" y="424.25" class="tk" text-anchor="middle">5</text>
<text transform="translate(10.7,549.3) rotate(-90)" class="yl" text-anchor="middle">−log<tspan font-size="7.5" dy="2.2">10</tspan><tspan dy="-2.2">(</tspan><tspan font-style="italic">p</tspan>)</text>
<rect x="59.50" y="676.05" width="31.60" height="1.5" fill="#9fbbcf"/>
<rect x="91.10" y="676.05" width="18.20" height="1.5" fill="#72a83a"/>
<rect x="109.30" y="676.05" width="11.00" height="1.5" fill="#9fbbcf"/>
<rect x="120.30" y="676.05" width="12.70" height="1.5" fill="#72a83a"/>
<rect x="133.00" y="676.05" width="14.20" height="1.5" fill="#9fbbcf"/>
<rect x="147.20" y="676.05" width="16.90" height="1.5" fill="#72a83a"/>
<rect x="164.10" y="676.05" width="13.10" height="1.5" fill="#9fbbcf"/>
<rect x="177.20" y="676.05" width="11.60" height="1.5" fill="#72a83a"/>
<rect x="188.80" y="676.05" width="10.70" height="1.5" fill="#9fbbcf"/>
<rect x="199.50" y="676.05" width="11.70" height="1.5" fill="#72a83a"/>
<rect x="211.20" y="676.05" width="16.20" height="1.5" fill="#9fbbcf"/>
<rect x="227.40" y="676.05" width="13.20" height="1.5" fill="#72a83a"/>
<rect x="240.60" y="676.05" width="3.10" height="1.5" fill="#9fbbcf"/>
<rect x="243.70" y="676.05" width="5.60" height="1.5" fill="#72a83a"/>
<rect x="249.30" y="676.05" width="10.60" height="1.5" fill="#9fbbcf"/>
<rect x="259.90" y="676.05" width="13.10" height="1.5" fill="#72a83a"/>
<rect x="273.00" y="676.05" width="14.20" height="1.5" fill="#9fbbcf"/>
<rect x="287.20" y="676.05" width="5.10" height="1.5" fill="#72a83a"/>
<rect x="292.30" y="676.05" width="17.20" height="1.5" fill="#9fbbcf"/>
<rect x="309.50" y="676.05" width="9.60" height="1.5" fill="#72a83a"/>
<rect x="319.10" y="676.05" width="3.60" height="1.5" fill="#9fbbcf"/>
<rect x="322.70" y="676.05" width="7.10" height="1.5" fill="#72a83a"/>
<rect x="329.80" y="676.05" width="8.70" height="1.5" fill="#9fbbcf"/>
<circle cx="68.9" cy="664.1" r="1.35" fill="#9fbbcf"/>
<circle cx="73.3" cy="638.8" r="1.35" fill="#9fbbcf"/>
<circle cx="78.4" cy="666.8" r="1.35" fill="#9fbbcf"/>
<circle cx="61.0" cy="676.0" r="1.35" fill="#9fbbcf"/>
<circle cx="67.0" cy="676.0" r="1.35" fill="#9fbbcf"/>
<circle cx="76.0" cy="675.0" r="1.35" fill="#9fbbcf"/>
<circle cx="82.0" cy="676.0" r="1.35" fill="#9fbbcf"/>
<circle cx="85.0" cy="676.0" r="1.35" fill="#9fbbcf"/>
<circle cx="91.0" cy="675.0" r="1.35" fill="#9fbbcf"/>
<circle cx="93.2" cy="649.1" r="1.35" fill="#72a83a"/>
<circle cx="94.2" cy="668.2" r="1.35" fill="#72a83a"/>
<circle cx="97.8" cy="672.6" r="1.35" fill="#72a83a"/>
<circle cx="104.3" cy="638.8" r="1.35" fill="#72a83a"/>
<circle cx="104.0" cy="675.0" r="1.35" fill="#72a83a"/>
<circle cx="108.0" cy="675.0" r="1.35" fill="#72a83a"/>
<circle cx="112.0" cy="676.0" r="1.35" fill="#72a83a"/>
<circle cx="134.7" cy="651.6" r="1.35" fill="#9fbbcf"/>
<circle cx="140.6" cy="628.0" r="1.35" fill="#9fbbcf"/>
<circle cx="140.0" cy="664.1" r="1.35" fill="#9fbbcf"/>
<circle cx="142.2" cy="672.6" r="1.35" fill="#9fbbcf"/>
<circle cx="158.9" cy="664.1" r="1.35" fill="#72a83a"/>
<circle cx="164.9" cy="661.3" r="1.35" fill="#72a83a"/>
<circle cx="168.2" cy="653.6" r="1.35" fill="#9fbbcf"/>
<circle cx="169.6" cy="638.8" r="1.35" fill="#9fbbcf"/>
<circle cx="180.5" cy="626.2" r="1.35" fill="#72a83a"/>
<circle cx="189.5" cy="624.2" r="1.35" fill="#72a83a"/>
<circle cx="189.1" cy="648.5" r="1.35" fill="#72a83a"/>
<circle cx="189.9" cy="635.7" r="1.35" fill="#9fbbcf"/>
<circle cx="192.9" cy="638.8" r="1.35" fill="#9fbbcf"/>
<circle cx="195.1" cy="651.6" r="1.35" fill="#9fbbcf"/>
<circle cx="122.0" cy="675.0" r="1.35" fill="#72a83a"/>
<circle cx="127.0" cy="675.0" r="1.35" fill="#72a83a"/>
<circle cx="131.0" cy="675.0" r="1.35" fill="#72a83a"/>
<circle cx="153.0" cy="675.0" r="1.35" fill="#72a83a"/>
<circle cx="161.0" cy="676.0" r="1.35" fill="#72a83a"/>
<circle cx="184.0" cy="675.0" r="1.35" fill="#72a83a"/>
<circle cx="190.0" cy="675.0" r="1.35" fill="#72a83a"/>
<circle cx="204.7" cy="638.8" r="1.35" fill="#72a83a"/>
<circle cx="202.3" cy="664.1" r="1.35" fill="#72a83a"/>
<circle cx="206.8" cy="665.3" r="1.35" fill="#72a83a"/>
<circle cx="215.3" cy="626.2" r="1.35" fill="#9fbbcf"/>
<circle cx="223.4" cy="664.1" r="1.35" fill="#9fbbcf"/>
<circle cx="225.8" cy="664.1" r="1.35" fill="#9fbbcf"/>
<circle cx="238.0" cy="626.2" r="1.35" fill="#72a83a"/>
<circle cx="235.5" cy="638.8" r="1.35" fill="#72a83a"/>
<circle cx="233.5" cy="648.5" r="1.35" fill="#72a83a"/>
<circle cx="236.2" cy="648.5" r="1.35" fill="#72a83a"/>
<circle cx="245.7" cy="563.4" r="1.35" fill="#72a83a"/>
<circle cx="260.5" cy="638.8" r="1.35" fill="#9fbbcf"/>
<circle cx="266.0" cy="665.7" r="1.35" fill="#72a83a"/>
<circle cx="257.4" cy="673.2" r="1.35" fill="#9fbbcf"/>
<circle cx="275.5" cy="651.6" r="1.35" fill="#9fbbcf"/>
<circle cx="281.6" cy="659.1" r="1.35" fill="#9fbbcf"/>
<circle cx="281.8" cy="664.1" r="1.35" fill="#9fbbcf"/>
<circle cx="291.3" cy="651.6" r="1.35" fill="#72a83a"/>
<circle cx="298.8" cy="638.8" r="1.35" fill="#9fbbcf"/>
<circle cx="313.6" cy="654.6" r="1.35" fill="#72a83a"/>
<circle cx="326.4" cy="638.8" r="1.35" fill="#72a83a"/>
<circle cx="202.0" cy="675.0" r="1.35" fill="#72a83a"/>
<circle cx="206.0" cy="674.0" r="1.35" fill="#72a83a"/>
<circle cx="212.0" cy="674.0" r="1.35" fill="#72a83a"/>
<circle cx="213.0" cy="673.0" r="1.35" fill="#9fbbcf"/>
<circle cx="216.0" cy="675.0" r="1.35" fill="#9fbbcf"/>
<circle cx="219.0" cy="675.0" r="1.35" fill="#9fbbcf"/>
<circle cx="224.0" cy="675.0" r="1.35" fill="#9fbbcf"/>
<circle cx="228.0" cy="675.0" r="1.35" fill="#9fbbcf"/>
<circle cx="232.0" cy="675.0" r="1.35" fill="#72a83a"/>
<circle cx="237.0" cy="675.0" r="1.35" fill="#72a83a"/>
<circle cx="262.0" cy="674.0" r="1.35" fill="#72a83a"/>
<circle cx="264.0" cy="674.0" r="1.35" fill="#72a83a"/>
<circle cx="275.0" cy="676.0" r="1.35" fill="#9fbbcf"/>
<circle cx="281.0" cy="675.0" r="1.35" fill="#9fbbcf"/>
<circle cx="289.0" cy="675.0" r="1.35" fill="#9fbbcf"/>
<circle cx="293.0" cy="676.0" r="1.35" fill="#9fbbcf"/>
<circle cx="298.0" cy="676.0" r="1.35" fill="#9fbbcf"/>
<circle cx="304.0" cy="676.0" r="1.35" fill="#9fbbcf"/>
<circle cx="322.0" cy="675.0" r="1.35" fill="#9fbbcf"/>
<line x1="52.5" y1="610.64" x2="346.5" y2="610.64" stroke="#6a6cb6" stroke-width="1.4"/>
<line x1="77" y1="677.85" x2="334.65" y2="677.85" stroke="#999" stroke-width="0.8"/>
<line x1="77" y1="677.75" x2="77" y2="684.25" stroke="#444" stroke-width="1"/>
<text x="77" y="699.55" class="tk2" text-anchor="middle">1</text>
<line x1="101.7" y1="677.75" x2="101.7" y2="684.25" stroke="#444" stroke-width="1"/>
<text x="101.7" y="699.55" class="tk2" text-anchor="middle">2</text>
<line x1="116.1" y1="677.75" x2="116.1" y2="684.25" stroke="#444" stroke-width="1"/>
<text x="116.1" y="699.55" class="tk2" text-anchor="middle">3</text>
<line x1="127.75" y1="677.75" x2="127.75" y2="684.25" stroke="#444" stroke-width="1"/>
<line x1="140.9" y1="677.75" x2="140.9" y2="684.25" stroke="#444" stroke-width="1"/>
<text x="140.9" y="699.55" class="tk2" text-anchor="middle">5</text>
<line x1="156.8" y1="677.75" x2="156.8" y2="684.25" stroke="#444" stroke-width="1"/>
<text x="156.8" y="699.55" class="tk2" text-anchor="middle">6</text>
<line x1="171.5" y1="677.75" x2="171.5" y2="684.25" stroke="#444" stroke-width="1"/>
<text x="171.5" y="699.55" class="tk2" text-anchor="middle">7</text>
<line x1="184.1" y1="677.75" x2="184.1" y2="684.25" stroke="#444" stroke-width="1"/>
<line x1="195.25" y1="677.75" x2="195.25" y2="684.25" stroke="#444" stroke-width="1"/>
<text x="195.25" y="699.55" class="tk2" text-anchor="middle">9</text>
<line x1="206.9" y1="677.75" x2="206.9" y2="684.25" stroke="#444" stroke-width="1"/>
<line x1="220.9" y1="677.75" x2="220.9" y2="684.25" stroke="#444" stroke-width="1"/>
<text x="220.9" y="699.55" class="tk2" text-anchor="middle">11</text>
<line x1="234.7" y1="677.75" x2="234.7" y2="684.25" stroke="#444" stroke-width="1"/>
<line x1="242.6" y1="677.75" x2="242.6" y2="684.25" stroke="#444" stroke-width="1"/>
<text x="242.6" y="699.55" class="tk2" text-anchor="middle">13</text>
<line x1="247.65" y1="677.75" x2="247.65" y2="684.25" stroke="#444" stroke-width="1"/>
<line x1="255.75" y1="677.75" x2="255.75" y2="684.25" stroke="#444" stroke-width="1"/>
<line x1="267.6" y1="677.75" x2="267.6" y2="684.25" stroke="#444" stroke-width="1"/>
<text x="267.6" y="699.55" class="tk2" text-anchor="middle">16</text>
<line x1="281.65" y1="677.75" x2="281.65" y2="684.25" stroke="#444" stroke-width="1"/>
<line x1="291.25" y1="677.75" x2="291.25" y2="684.25" stroke="#444" stroke-width="1"/>
<text x="291.25" y="699.55" class="tk2" text-anchor="middle">18</text>
<line x1="302.35" y1="677.75" x2="302.35" y2="684.25" stroke="#444" stroke-width="1"/>
<line x1="316.3" y1="677.75" x2="316.3" y2="684.25" stroke="#444" stroke-width="1"/>
<text x="316.3" y="699.55" class="tk2" text-anchor="middle">20</text>
<line x1="322.8" y1="677.75" x2="322.8" y2="684.25" stroke="#444" stroke-width="1"/>
<line x1="327.8" y1="677.75" x2="327.8" y2="684.25" stroke="#444" stroke-width="1"/>
<line x1="334.65" y1="677.75" x2="334.65" y2="684.25" stroke="#444" stroke-width="1"/>
<text x="334.65" y="699.55" class="tk2" text-anchor="middle">X</text>
<text x="199.6" y="724.25" class="xl" text-anchor="middle">Chromosome</text>
<text transform="translate(393.30,391.50) scale(1,1.07)" class="lab">D.</text>
<text x="591.0" y="396.3" class="ttl" text-anchor="middle">Seroprotection H3N2 UGA4 Vaccine Adj.P</text>
<line x1="444.0" y1="417" x2="444.0" y2="673.75" stroke="#7a7a7a" stroke-width="1"/>
<line x1="437.5" y1="673.75" x2="444.0" y2="673.75" stroke="#555" stroke-width="1"/>
<text x="429.2" y="676.75" class="tk" text-anchor="middle">0</text>
<line x1="437.5" y1="622.55" x2="444.0" y2="622.55" stroke="#555" stroke-width="1"/>
<text x="429.2" y="625.55" class="tk" text-anchor="middle">1</text>
<line x1="437.5" y1="571.35" x2="444.0" y2="571.35" stroke="#555" stroke-width="1"/>
<text x="429.2" y="574.35" class="tk" text-anchor="middle">2</text>
<line x1="437.5" y1="520.15" x2="444.0" y2="520.15" stroke="#555" stroke-width="1"/>
<text x="429.2" y="523.15" class="tk" text-anchor="middle">3</text>
<line x1="437.5" y1="468.95" x2="444.0" y2="468.95" stroke="#555" stroke-width="1"/>
<text x="429.2" y="471.95" class="tk" text-anchor="middle">4</text>
<line x1="437.5" y1="417.75" x2="444.0" y2="417.75" stroke="#555" stroke-width="1"/>
<text x="429.2" y="420.75" class="tk" text-anchor="middle">5</text>
<text transform="translate(402.2,545.8) rotate(-90)" class="yl" text-anchor="middle">−log<tspan font-size="7.5" dy="2.2">10</tspan><tspan dy="-2.2">(</tspan><tspan font-style="italic">p</tspan>)</text>
<rect x="443.00" y="672.85" width="287.00" height="1.3" fill="#9fbbcf"/>
<circle cx="521.7" cy="593.6" r="1.35" fill="#72a83a"/>
<circle cx="575.5" cy="530.5" r="1.35" fill="#72a83a"/>
<circle cx="452.8" cy="666.2" r="1.35" fill="#9fbbcf"/>
<circle cx="452.8" cy="670.5" r="1.35" fill="#9fbbcf"/>
<circle cx="458.9" cy="665.1" r="1.35" fill="#9fbbcf"/>
<circle cx="460.3" cy="657.4" r="1.35" fill="#9fbbcf"/>
<circle cx="461.7" cy="644.1" r="1.35" fill="#9fbbcf"/>
<circle cx="461.7" cy="651.2" r="1.35" fill="#9fbbcf"/>
<circle cx="464.9" cy="653.0" r="1.35" fill="#9fbbcf"/>
<circle cx="467.4" cy="642.4" r="1.35" fill="#9fbbcf"/>
<circle cx="468.4" cy="667.6" r="1.35" fill="#9fbbcf"/>
<circle cx="472.0" cy="668.0" r="1.35" fill="#9fbbcf"/>
<circle cx="472.0" cy="653.0" r="1.35" fill="#9fbbcf"/>
<circle cx="472.0" cy="660.5" r="1.35" fill="#9fbbcf"/>
<circle cx="475.1" cy="660.5" r="1.35" fill="#9fbbcf"/>
<circle cx="475.5" cy="669.2" r="1.35" fill="#9fbbcf"/>
<circle cx="478.5" cy="650.0" r="1.35" fill="#9fbbcf"/>
<circle cx="477.9" cy="669.2" r="1.35" fill="#9fbbcf"/>
<circle cx="480.0" cy="668.0" r="1.35" fill="#9fbbcf"/>
<circle cx="487.8" cy="645.9" r="1.35" fill="#72a83a"/>
<circle cx="492.7" cy="650.0" r="1.35" fill="#72a83a"/>
<circle cx="487.8" cy="656.0" r="1.35" fill="#72a83a"/>
<circle cx="489.5" cy="654.4" r="1.35" fill="#72a83a"/>
<circle cx="485.6" cy="661.1" r="1.35" fill="#72a83a"/>
<circle cx="487.2" cy="661.1" r="1.35" fill="#72a83a"/>
<circle cx="490.7" cy="661.1" r="1.35" fill="#72a83a"/>
<circle cx="486.6" cy="668.6" r="1.35" fill="#72a83a"/>
<circle cx="489.0" cy="670.6" r="1.35" fill="#72a83a"/>
<circle cx="493.7" cy="669.2" r="1.35" fill="#72a83a"/>
<circle cx="497.4" cy="661.1" r="1.35" fill="#72a83a"/>
<circle cx="498.8" cy="661.1" r="1.35" fill="#72a83a"/>
<circle cx="498.8" cy="655.6" r="1.35" fill="#72a83a"/>
<circle cx="498.8" cy="669.2" r="1.35" fill="#72a83a"/>
<circle cx="500.8" cy="671.2" r="1.35" fill="#72a83a"/>
<circle cx="503.9" cy="642.4" r="1.35" fill="#9fbbcf"/>
<circle cx="507.5" cy="642.4" r="1.35" fill="#9fbbcf"/>
<circle cx="512.0" cy="642.4" r="1.35" fill="#9fbbcf"/>
<circle cx="503.9" cy="654.4" r="1.35" fill="#9fbbcf"/>
<circle cx="507.9" cy="657.4" r="1.35" fill="#9fbbcf"/>
<circle cx="503.5" cy="660.5" r="1.35" fill="#9fbbcf"/>
<circle cx="504.5" cy="669.2" r="1.35" fill="#9fbbcf"/>
<circle cx="514.0" cy="647.3" r="1.35" fill="#72a83a"/>
<circle cx="516.2" cy="664.1" r="1.35" fill="#72a83a"/>
<circle cx="516.6" cy="668.6" r="1.35" fill="#72a83a"/>
<circle cx="520.1" cy="670.6" r="1.35" fill="#72a83a"/>
<circle cx="523.5" cy="666.8" r="1.35" fill="#72a83a"/>
<circle cx="522.1" cy="670.6" r="1.35" fill="#72a83a"/>
<circle cx="527.2" cy="635.1" r="1.35" fill="#9fbbcf"/>
<circle cx="526.2" cy="651.2" r="1.35" fill="#9fbbcf"/>
<circle cx="529.8" cy="653.0" r="1.35" fill="#9fbbcf"/>
<circle cx="527.8" cy="661.1" r="1.35" fill="#9fbbcf"/>
<circle cx="528.6" cy="666.2" r="1.35" fill="#9fbbcf"/>
<circle cx="533.2" cy="667.6" r="1.35" fill="#9fbbcf"/>
<circle cx="532.8" cy="660.5" r="1.35" fill="#9fbbcf"/>
<circle cx="536.3" cy="660.5" r="1.35" fill="#9fbbcf"/>
<circle cx="542.4" cy="645.9" r="1.35" fill="#72a83a"/>
<circle cx="543.0" cy="651.2" r="1.35" fill="#72a83a"/>
<circle cx="546.0" cy="651.2" r="1.35" fill="#72a83a"/>
<circle cx="540.3" cy="660.5" r="1.35" fill="#72a83a"/>
<circle cx="542.4" cy="660.5" r="1.35" fill="#72a83a"/>
<circle cx="547.8" cy="661.1" r="1.35" fill="#72a83a"/>
<circle cx="551.5" cy="659.1" r="1.35" fill="#72a83a"/>
<circle cx="553.0" cy="661.1" r="1.35" fill="#72a83a"/>
<circle cx="549.5" cy="666.2" r="1.35" fill="#72a83a"/>
<circle cx="541.0" cy="668.0" r="1.35" fill="#72a83a"/>
<circle cx="544.0" cy="670.0" r="1.35" fill="#72a83a"/>
<circle cx="547.0" cy="669.0" r="1.35" fill="#72a83a"/>
<circle cx="550.0" cy="670.0" r="1.35" fill="#72a83a"/>
<circle cx="553.0" cy="668.0" r="1.35" fill="#72a83a"/>
<circle cx="556.0" cy="670.0" r="1.35" fill="#72a83a"/>
<circle cx="557.0" cy="663.7" r="1.35" fill="#9fbbcf"/>
<circle cx="559.6" cy="656.6" r="1.35" fill="#9fbbcf"/>
<circle cx="560.6" cy="635.1" r="1.35" fill="#9fbbcf"/>
<circle cx="564.1" cy="668.6" r="1.35" fill="#9fbbcf"/>
<circle cx="567.7" cy="667.2" r="1.35" fill="#9fbbcf"/>
<circle cx="569.7" cy="660.5" r="1.35" fill="#9fbbcf"/>
<circle cx="574.8" cy="656.0" r="1.35" fill="#72a83a"/>
<circle cx="572.8" cy="661.1" r="1.35" fill="#72a83a"/>
<circle cx="575.4" cy="661.1" r="1.35" fill="#72a83a"/>
<circle cx="578.9" cy="661.1" r="1.35" fill="#72a83a"/>
<circle cx="571.8" cy="668.6" r="1.35" fill="#72a83a"/>
<circle cx="573.8" cy="669.2" r="1.35" fill="#72a83a"/>
<circle cx="575.8" cy="670.6" r="1.35" fill="#72a83a"/>
<circle cx="579.9" cy="666.2" r="1.35" fill="#72a83a"/>
<circle cx="583.3" cy="667.6" r="1.35" fill="#9fbbcf"/>
<circle cx="583.9" cy="653.0" r="1.35" fill="#9fbbcf"/>
<circle cx="589.0" cy="635.1" r="1.35" fill="#9fbbcf"/>
<circle cx="589.0" cy="653.0" r="1.35" fill="#9fbbcf"/>
<circle cx="591.1" cy="669.2" r="1.35" fill="#9fbbcf"/>
<circle cx="592.7" cy="660.7" r="1.35" fill="#72a83a"/>
<circle cx="594.7" cy="660.7" r="1.35" fill="#72a83a"/>
<circle cx="596.8" cy="660.7" r="1.35" fill="#72a83a"/>
<circle cx="599.6" cy="660.7" r="1.35" fill="#72a83a"/>
<circle cx="596.1" cy="666.2" r="1.35" fill="#72a83a"/>
<circle cx="594.1" cy="668.6" r="1.35" fill="#72a83a"/>
<circle cx="597.2" cy="671.2" r="1.35" fill="#72a83a"/>
<circle cx="600.2" cy="670.6" r="1.35" fill="#72a83a"/>
<circle cx="604.9" cy="640.8" r="1.35" fill="#9fbbcf"/>
<circle cx="606.3" cy="660.5" r="1.35" fill="#9fbbcf"/>
<circle cx="608.3" cy="662.1" r="1.35" fill="#9fbbcf"/>
<circle cx="605.3" cy="669.2" r="1.35" fill="#9fbbcf"/>
<circle cx="610.3" cy="653.0" r="1.35" fill="#9fbbcf"/>
<circle cx="610.3" cy="656.6" r="1.35" fill="#9fbbcf"/>
<circle cx="612.4" cy="655.4" r="1.35" fill="#9fbbcf"/>
<circle cx="616.4" cy="667.6" r="1.35" fill="#9fbbcf"/>
<circle cx="619.5" cy="655.4" r="1.35" fill="#9fbbcf"/>
<circle cx="619.1" cy="661.1" r="1.35" fill="#9fbbcf"/>
<circle cx="629.2" cy="636.4" r="1.35" fill="#72a83a"/>
<circle cx="627.2" cy="653.0" r="1.35" fill="#72a83a"/>
<circle cx="627.6" cy="661.1" r="1.35" fill="#72a83a"/>
<circle cx="626.0" cy="662.1" r="1.35" fill="#72a83a"/>
<circle cx="624.9" cy="666.8" r="1.35" fill="#72a83a"/>
<circle cx="627.6" cy="669.2" r="1.35" fill="#72a83a"/>
<circle cx="629.6" cy="670.2" r="1.35" fill="#72a83a"/>
<circle cx="633.0" cy="656.0" r="1.35" fill="#9fbbcf"/>
<circle cx="633.7" cy="661.1" r="1.35" fill="#9fbbcf"/>
<circle cx="632.6" cy="669.2" r="1.35" fill="#9fbbcf"/>
<circle cx="638.3" cy="654.4" r="1.35" fill="#72a83a"/>
<circle cx="636.7" cy="661.1" r="1.35" fill="#72a83a"/>
<circle cx="638.7" cy="661.1" r="1.35" fill="#72a83a"/>
<circle cx="637.3" cy="662.5" r="1.35" fill="#72a83a"/>
<circle cx="637.7" cy="666.8" r="1.35" fill="#72a83a"/>
<circle cx="638.7" cy="669.2" r="1.35" fill="#72a83a"/>
<circle cx="640.1" cy="668.6" r="1.35" fill="#72a83a"/>
<circle cx="645.2" cy="656.0" r="1.35" fill="#9fbbcf"/>
<circle cx="644.8" cy="660.5" r="1.35" fill="#9fbbcf"/>
<circle cx="646.8" cy="662.1" r="1.35" fill="#9fbbcf"/>
<circle cx="641.8" cy="669.2" r="1.35" fill="#9fbbcf"/>
<circle cx="645.4" cy="668.6" r="1.35" fill="#9fbbcf"/>
<circle cx="649.9" cy="669.2" r="1.35" fill="#9fbbcf"/>
<circle cx="660.4" cy="653.0" r="1.35" fill="#72a83a"/>
<circle cx="659.0" cy="661.1" r="1.35" fill="#72a83a"/>
<circle cx="662.0" cy="669.2" r="1.35" fill="#72a83a"/>
<circle cx="660.4" cy="670.6" r="1.35" fill="#72a83a"/>
<circle cx="666.5" cy="629.7" r="1.35" fill="#9fbbcf"/>
<circle cx="666.1" cy="651.2" r="1.35" fill="#9fbbcf"/>
<circle cx="667.7" cy="661.1" r="1.35" fill="#9fbbcf"/>
<circle cx="675.2" cy="651.2" r="1.35" fill="#9fbbcf"/>
<circle cx="673.2" cy="672.6" r="1.35" fill="#9fbbcf"/>
<circle cx="681.3" cy="642.4" r="1.35" fill="#72a83a"/>
<circle cx="681.3" cy="651.2" r="1.35" fill="#72a83a"/>
<circle cx="682.7" cy="653.0" r="1.35" fill="#72a83a"/>
<circle cx="681.7" cy="662.1" r="1.35" fill="#72a83a"/>
<circle cx="681.9" cy="667.2" r="1.35" fill="#72a83a"/>
<circle cx="680.3" cy="671.2" r="1.35" fill="#72a83a"/>
<circle cx="679.3" cy="661.1" r="1.35" fill="#9fbbcf"/>
<circle cx="685.3" cy="668.6" r="1.35" fill="#9fbbcf"/>
<circle cx="689.0" cy="619.9" r="1.35" fill="#9fbbcf"/>
<circle cx="689.8" cy="649.5" r="1.35" fill="#9fbbcf"/>
<circle cx="689.4" cy="653.0" r="1.35" fill="#9fbbcf"/>
<circle cx="687.4" cy="658.5" r="1.35" fill="#9fbbcf"/>
<circle cx="692.4" cy="657.0" r="1.35" fill="#9fbbcf"/>
<circle cx="689.4" cy="669.2" r="1.35" fill="#9fbbcf"/>
<circle cx="695.5" cy="667.2" r="1.35" fill="#9fbbcf"/>
<circle cx="703.6" cy="660.7" r="1.35" fill="#72a83a"/>
<circle cx="705.6" cy="656.0" r="1.35" fill="#72a83a"/>
<circle cx="708.0" cy="651.2" r="1.35" fill="#72a83a"/>
<circle cx="703.6" cy="670.2" r="1.35" fill="#72a83a"/>
<circle cx="706.6" cy="670.6" r="1.35" fill="#72a83a"/>
<circle cx="709.7" cy="669.2" r="1.35" fill="#72a83a"/>
<circle cx="711.7" cy="671.2" r="1.35" fill="#72a83a"/>
<circle cx="710.7" cy="660.7" r="1.35" fill="#72a83a"/>
<circle cx="714.7" cy="657.0" r="1.35" fill="#9fbbcf"/>
<circle cx="714.3" cy="661.1" r="1.35" fill="#9fbbcf"/>
<circle cx="716.8" cy="660.5" r="1.35" fill="#9fbbcf"/>
<circle cx="715.8" cy="662.1" r="1.35" fill="#72a83a"/>
<circle cx="717.2" cy="658.0" r="1.35" fill="#72a83a"/>
<circle cx="717.2" cy="611.0" r="1.35" fill="#72a83a"/>
<circle cx="718.8" cy="672.2" r="1.35" fill="#72a83a"/>
<circle cx="722.2" cy="660.7" r="1.35" fill="#72a83a"/>
<circle cx="724.3" cy="660.7" r="1.35" fill="#72a83a"/>
<circle cx="724.5" cy="653.0" r="1.35" fill="#9fbbcf"/>
<circle cx="724.5" cy="655.0" r="1.35" fill="#9fbbcf"/>
<circle cx="728.3" cy="667.2" r="1.35" fill="#9fbbcf"/>
<line x1="444.0" y1="607.14" x2="738.0" y2="607.14" stroke="#6a6cb6" stroke-width="1.4"/>
<line x1="468.5" y1="674.35" x2="726.15" y2="674.35" stroke="#999" stroke-width="0.8"/>
<line x1="468.5" y1="674.25" x2="468.5" y2="680.75" stroke="#444" stroke-width="1"/>
<text x="468.5" y="696.05" class="tk2" text-anchor="middle">1</text>
<line x1="493.2" y1="674.25" x2="493.2" y2="680.75" stroke="#444" stroke-width="1"/>
<text x="493.2" y="696.05" class="tk2" text-anchor="middle">2</text>
<line x1="507.6" y1="674.25" x2="507.6" y2="680.75" stroke="#444" stroke-width="1"/>
<text x="507.6" y="696.05" class="tk2" text-anchor="middle">3</text>
<line x1="519.25" y1="674.25" x2="519.25" y2="680.75" stroke="#444" stroke-width="1"/>
<line x1="532.4" y1="674.25" x2="532.4" y2="680.75" stroke="#444" stroke-width="1"/>
<text x="532.4" y="696.05" class="tk2" text-anchor="middle">5</text>
<line x1="548.3" y1="674.25" x2="548.3" y2="680.75" stroke="#444" stroke-width="1"/>
<text x="548.3" y="696.05" class="tk2" text-anchor="middle">6</text>
<line x1="563.0" y1="674.25" x2="563.0" y2="680.75" stroke="#444" stroke-width="1"/>
<text x="563.0" y="696.05" class="tk2" text-anchor="middle">7</text>
<line x1="575.6" y1="674.25" x2="575.6" y2="680.75" stroke="#444" stroke-width="1"/>
<line x1="586.75" y1="674.25" x2="586.75" y2="680.75" stroke="#444" stroke-width="1"/>
<text x="586.75" y="696.05" class="tk2" text-anchor="middle">9</text>
<line x1="598.4" y1="674.25" x2="598.4" y2="680.75" stroke="#444" stroke-width="1"/>
<line x1="612.4" y1="674.25" x2="612.4" y2="680.75" stroke="#444" stroke-width="1"/>
<text x="612.4" y="696.05" class="tk2" text-anchor="middle">11</text>
<line x1="626.2" y1="674.25" x2="626.2" y2="680.75" stroke="#444" stroke-width="1"/>
<line x1="634.1" y1="674.25" x2="634.1" y2="680.75" stroke="#444" stroke-width="1"/>
<text x="634.1" y="696.05" class="tk2" text-anchor="middle">13</text>
<line x1="639.15" y1="674.25" x2="639.15" y2="680.75" stroke="#444" stroke-width="1"/>
<line x1="647.25" y1="674.25" x2="647.25" y2="680.75" stroke="#444" stroke-width="1"/>
<line x1="659.1" y1="674.25" x2="659.1" y2="680.75" stroke="#444" stroke-width="1"/>
<text x="659.1" y="696.05" class="tk2" text-anchor="middle">16</text>
<line x1="673.15" y1="674.25" x2="673.15" y2="680.75" stroke="#444" stroke-width="1"/>
<line x1="682.75" y1="674.25" x2="682.75" y2="680.75" stroke="#444" stroke-width="1"/>
<text x="682.75" y="696.05" class="tk2" text-anchor="middle">18</text>
<line x1="693.85" y1="674.25" x2="693.85" y2="680.75" stroke="#444" stroke-width="1"/>
<line x1="707.8" y1="674.25" x2="707.8" y2="680.75" stroke="#444" stroke-width="1"/>
<text x="707.8" y="696.05" class="tk2" text-anchor="middle">20</text>
<line x1="714.3" y1="674.25" x2="714.3" y2="680.75" stroke="#444" stroke-width="1"/>
<line x1="719.3" y1="674.25" x2="719.3" y2="680.75" stroke="#444" stroke-width="1"/>
<line x1="726.15" y1="674.25" x2="726.15" y2="680.75" stroke="#444" stroke-width="1"/>
<text x="726.15" y="696.05" class="tk2" text-anchor="middle">X</text>
<text x="591.1" y="720.75" class="xl" text-anchor="middle">Chromosome</text>
<text transform="translate(8.30,759.00) scale(1,1.07)" class="lab">E.</text>
<text x="199.5" y="766.3" class="ttl" text-anchor="middle">Seroprotection Vic UGA3&amp;4 Vaccine Adj.P</text>
<line x1="52.5" y1="787" x2="52.5" y2="1043.75" stroke="#7a7a7a" stroke-width="1"/>
<line x1="46.0" y1="1043.75" x2="52.5" y2="1043.75" stroke="#555" stroke-width="1"/>
<text x="37.7" y="1046.75" class="tk" text-anchor="middle">0</text>
<line x1="46.0" y1="992.55" x2="52.5" y2="992.55" stroke="#555" stroke-width="1"/>
<text x="37.7" y="995.55" class="tk" text-anchor="middle">1</text>
<line x1="46.0" y1="941.35" x2="52.5" y2="941.35" stroke="#555" stroke-width="1"/>
<text x="37.7" y="944.35" class="tk" text-anchor="middle">2</text>
<line x1="46.0" y1="890.15" x2="52.5" y2="890.15" stroke="#555" stroke-width="1"/>
<text x="37.7" y="893.15" class="tk" text-anchor="middle">3</text>
<line x1="46.0" y1="838.95" x2="52.5" y2="838.95" stroke="#555" stroke-width="1"/>
<text x="37.7" y="841.95" class="tk" text-anchor="middle">4</text>
<line x1="46.0" y1="787.75" x2="52.5" y2="787.75" stroke="#555" stroke-width="1"/>
<text x="37.7" y="790.75" class="tk" text-anchor="middle">5</text>
<text transform="translate(10.7,915.8) rotate(-90)" class="yl" text-anchor="middle">−log<tspan font-size="7.5" dy="2.2">10</tspan><tspan dy="-2.2">(</tspan><tspan font-style="italic">p</tspan>)</text>
<rect x="59.50" y="1042.55" width="31.60" height="1.5" fill="#9fbbcf"/>
<rect x="91.10" y="1042.55" width="18.20" height="1.5" fill="#72a83a"/>
<rect x="109.30" y="1042.55" width="11.00" height="1.5" fill="#9fbbcf"/>
<rect x="120.30" y="1042.55" width="12.70" height="1.5" fill="#72a83a"/>
<rect x="133.00" y="1042.55" width="14.20" height="1.5" fill="#9fbbcf"/>
<rect x="147.20" y="1042.55" width="16.90" height="1.5" fill="#72a83a"/>
<rect x="164.10" y="1042.55" width="13.10" height="1.5" fill="#9fbbcf"/>
<rect x="177.20" y="1042.55" width="11.60" height="1.5" fill="#72a83a"/>
<rect x="188.80" y="1042.55" width="10.70" height="1.5" fill="#9fbbcf"/>
<rect x="199.50" y="1042.55" width="11.70" height="1.5" fill="#72a83a"/>
<rect x="211.20" y="1042.55" width="16.20" height="1.5" fill="#9fbbcf"/>
<rect x="227.40" y="1042.55" width="13.20" height="1.5" fill="#72a83a"/>
<rect x="240.60" y="1042.55" width="3.10" height="1.5" fill="#9fbbcf"/>
<rect x="243.70" y="1042.55" width="5.60" height="1.5" fill="#72a83a"/>
<rect x="249.30" y="1042.55" width="10.60" height="1.5" fill="#9fbbcf"/>
<rect x="259.90" y="1042.55" width="13.10" height="1.5" fill="#72a83a"/>
<rect x="273.00" y="1042.55" width="14.20" height="1.5" fill="#9fbbcf"/>
<rect x="287.20" y="1042.55" width="5.10" height="1.5" fill="#72a83a"/>
<rect x="292.30" y="1042.55" width="17.20" height="1.5" fill="#9fbbcf"/>
<rect x="309.50" y="1042.55" width="9.60" height="1.5" fill="#72a83a"/>
<rect x="319.10" y="1042.55" width="3.60" height="1.5" fill="#9fbbcf"/>
<rect x="322.70" y="1042.55" width="7.10" height="1.5" fill="#72a83a"/>
<rect x="329.80" y="1042.55" width="8.70" height="1.5" fill="#9fbbcf"/>
<circle cx="62.2" cy="835.1" r="1.35" fill="#9fbbcf"/>
<circle cx="62.2" cy="844.5" r="1.35" fill="#9fbbcf"/>
<circle cx="62.2" cy="886.0" r="1.35" fill="#9fbbcf"/>
<circle cx="107.4" cy="878.9" r="1.35" fill="#72a83a"/>
<circle cx="160.1" cy="835.1" r="1.35" fill="#72a83a"/>
<circle cx="169.0" cy="847.9" r="1.35" fill="#9fbbcf"/>
<circle cx="277.7" cy="809.8" r="1.35" fill="#9fbbcf"/>
<circle cx="250.3" cy="873.7" r="1.35" fill="#9fbbcf"/>
<circle cx="316.6" cy="873.7" r="1.35" fill="#72a83a"/>
<circle cx="169.0" cy="903.7" r="1.35" fill="#9fbbcf"/>
<circle cx="193.1" cy="903.7" r="1.35" fill="#9fbbcf"/>
<circle cx="192.3" cy="913.9" r="1.35" fill="#9fbbcf"/>
<circle cx="189.5" cy="921.4" r="1.35" fill="#72a83a"/>
<circle cx="189.5" cy="940.0" r="1.35" fill="#72a83a"/>
<circle cx="113.9" cy="924.0" r="1.35" fill="#9fbbcf"/>
<circle cx="107.4" cy="931.1" r="1.35" fill="#72a83a"/>
<circle cx="138.8" cy="937.6" r="1.35" fill="#9fbbcf"/>
<circle cx="62.2" cy="948.1" r="1.35" fill="#9fbbcf"/>
<circle cx="62.2" cy="949.3" r="1.35" fill="#9fbbcf"/>
<circle cx="70.3" cy="949.3" r="1.35" fill="#9fbbcf"/>
<circle cx="66.2" cy="953.4" r="1.35" fill="#9fbbcf"/>
<circle cx="113.9" cy="946.7" r="1.35" fill="#9fbbcf"/>
<circle cx="147.9" cy="954.2" r="1.35" fill="#9fbbcf"/>
<circle cx="147.9" cy="955.4" r="1.35" fill="#9fbbcf"/>
<circle cx="118.1" cy="957.2" r="1.35" fill="#9fbbcf"/>
<circle cx="62.2" cy="963.3" r="1.35" fill="#9fbbcf"/>
<circle cx="172.6" cy="959.9" r="1.35" fill="#9fbbcf"/>
<circle cx="81.0" cy="967.0" r="1.35" fill="#9fbbcf"/>
<circle cx="126.6" cy="969.0" r="1.35" fill="#72a83a"/>
<circle cx="157.4" cy="968.6" r="1.35" fill="#72a83a"/>
<circle cx="171.6" cy="973.5" r="1.35" fill="#9fbbcf"/>
<circle cx="126.6" cy="975.5" r="1.35" fill="#72a83a"/>
<circle cx="83.0" cy="977.1" r="1.35" fill="#9fbbcf"/>
<circle cx="283.8" cy="907.8" r="1.35" fill="#9fbbcf"/>
<circle cx="262.3" cy="911.6" r="1.35" fill="#72a83a"/>
<circle cx="235.1" cy="919.9" r="1.35" fill="#72a83a"/>
<circle cx="225.8" cy="924.6" r="1.35" fill="#9fbbcf"/>
<circle cx="275.7" cy="926.4" r="1.35" fill="#9fbbcf"/>
<circle cx="217.9" cy="940.0" r="1.35" fill="#9fbbcf"/>
<circle cx="234.9" cy="946.7" r="1.35" fill="#72a83a"/>
<circle cx="275.1" cy="946.3" r="1.35" fill="#9fbbcf"/>
<circle cx="293.3" cy="947.7" r="1.35" fill="#9fbbcf"/>
<circle cx="217.9" cy="957.0" r="1.35" fill="#9fbbcf"/>
<circle cx="277.7" cy="959.9" r="1.35" fill="#9fbbcf"/>
<circle cx="223.4" cy="969.4" r="1.35" fill="#9fbbcf"/>
<circle cx="225.8" cy="970.6" r="1.35" fill="#9fbbcf"/>
<circle cx="283.8" cy="969.4" r="1.35" fill="#9fbbcf"/>
<circle cx="330.4" cy="970.4" r="1.35" fill="#72a83a"/>
<circle cx="295.0" cy="975.1" r="1.35" fill="#9fbbcf"/>
<circle cx="260.9" cy="980.1" r="1.35" fill="#9fbbcf"/>
<circle cx="62.2" cy="987.6" r="1.35" fill="#9fbbcf"/>
<circle cx="70.9" cy="987.6" r="1.35" fill="#9fbbcf"/>
<circle cx="76.4" cy="985.5" r="1.35" fill="#9fbbcf"/>
<circle cx="78.4" cy="988.2" r="1.35" fill="#9fbbcf"/>
<circle cx="62.2" cy="995.3" r="1.35" fill="#9fbbcf"/>
<circle cx="81.0" cy="994.9" r="1.35" fill="#9fbbcf"/>
<circle cx="62.2" cy="1001.8" r="1.35" fill="#9fbbcf"/>
<circle cx="63.2" cy="1006.4" r="1.35" fill="#9fbbcf"/>
<circle cx="76.4" cy="999.9" r="1.35" fill="#9fbbcf"/>
<circle cx="77.8" cy="1000.3" r="1.35" fill="#9fbbcf"/>
<circle cx="73.3" cy="1009.5" r="1.35" fill="#9fbbcf"/>
<circle cx="77.0" cy="1016.2" r="1.35" fill="#9fbbcf"/>
<circle cx="71.9" cy="1018.2" r="1.35" fill="#9fbbcf"/>
<circle cx="73.7" cy="1021.6" r="1.35" fill="#9fbbcf"/>
<circle cx="62.2" cy="1024.7" r="1.35" fill="#9fbbcf"/>
<circle cx="94.2" cy="987.2" r="1.35" fill="#72a83a"/>
<circle cx="99.3" cy="987.6" r="1.35" fill="#72a83a"/>
<circle cx="108.8" cy="993.6" r="1.35" fill="#72a83a"/>
<circle cx="111.2" cy="992.8" r="1.35" fill="#9fbbcf"/>
<circle cx="107.4" cy="997.3" r="1.35" fill="#72a83a"/>
<circle cx="98.7" cy="1007.0" r="1.35" fill="#72a83a"/>
<circle cx="103.7" cy="1005.8" r="1.35" fill="#72a83a"/>
<circle cx="97.6" cy="1010.5" r="1.35" fill="#72a83a"/>
<circle cx="108.8" cy="1008.0" r="1.35" fill="#72a83a"/>
<circle cx="108.8" cy="1013.5" r="1.35" fill="#72a83a"/>
<circle cx="98.0" cy="1015.1" r="1.35" fill="#72a83a"/>
<circle cx="101.3" cy="1015.1" r="1.35" fill="#72a83a"/>
<circle cx="104.7" cy="1018.2" r="1.35" fill="#72a83a"/>
<circle cx="98.0" cy="1021.6" r="1.35" fill="#72a83a"/>
<circle cx="108.8" cy="1021.6" r="1.35" fill="#72a83a"/>
<circle cx="90.5" cy="1016.6" r="1.35" fill="#9fbbcf"/>
<circle cx="90.5" cy="1019.2" r="1.35" fill="#9fbbcf"/>
<circle cx="88.5" cy="1025.1" r="1.35" fill="#9fbbcf"/>
<circle cx="117.9" cy="997.3" r="1.35" fill="#9fbbcf"/>
<circle cx="113.9" cy="1014.5" r="1.35" fill="#9fbbcf"/>
<circle cx="120.3" cy="1010.5" r="1.35" fill="#9fbbcf"/>
<circle cx="121.0" cy="1024.7" r="1.35" fill="#9fbbcf"/>
<circle cx="129.1" cy="992.2" r="1.35" fill="#72a83a"/>
<circle cx="126.0" cy="1000.9" r="1.35" fill="#72a83a"/>
<circle cx="128.7" cy="1003.4" r="1.35" fill="#72a83a"/>
<circle cx="128.5" cy="1016.6" r="1.35" fill="#72a83a"/>
<circle cx="133.1" cy="1029.1" r="1.35" fill="#72a83a"/>
<circle cx="136.2" cy="1000.0" r="1.35" fill="#9fbbcf"/>
<circle cx="144.3" cy="1005.8" r="1.35" fill="#9fbbcf"/>
<circle cx="147.9" cy="1006.4" r="1.35" fill="#9fbbcf"/>
<circle cx="139.8" cy="1025.7" r="1.35" fill="#9fbbcf"/>
<circle cx="143.2" cy="1021.6" r="1.35" fill="#9fbbcf"/>
<circle cx="144.9" cy="1022.6" r="1.35" fill="#9fbbcf"/>
<circle cx="153.4" cy="993.2" r="1.35" fill="#72a83a"/>
<circle cx="151.4" cy="1004.4" r="1.35" fill="#72a83a"/>
<circle cx="149.9" cy="1009.9" r="1.35" fill="#72a83a"/>
<circle cx="153.4" cy="1009.5" r="1.35" fill="#72a83a"/>
<circle cx="158.0" cy="1005.8" r="1.35" fill="#72a83a"/>
<circle cx="158.9" cy="1009.1" r="1.35" fill="#72a83a"/>
<circle cx="158.9" cy="1017.2" r="1.35" fill="#72a83a"/>
<circle cx="153.4" cy="1022.2" r="1.35" fill="#72a83a"/>
<circle cx="154.4" cy="1021.6" r="1.35" fill="#72a83a"/>
<circle cx="161.5" cy="1021.2" r="1.35" fill="#72a83a"/>
<circle cx="169.6" cy="987.6" r="1.35" fill="#9fbbcf"/>
<circle cx="165.5" cy="1000.0" r="1.35" fill="#9fbbcf"/>
<circle cx="165.5" cy="1006.4" r="1.35" fill="#9fbbcf"/>
<circle cx="169.2" cy="1004.8" r="1.35" fill="#9fbbcf"/>
<circle cx="165.1" cy="1013.5" r="1.35" fill="#9fbbcf"/>
<circle cx="166.2" cy="1017.0" r="1.35" fill="#9fbbcf"/>
<circle cx="165.5" cy="1024.7" r="1.35" fill="#9fbbcf"/>
<circle cx="177.3" cy="1001.4" r="1.35" fill="#9fbbcf"/>
<circle cx="180.8" cy="998.3" r="1.35" fill="#72a83a"/>
<circle cx="180.3" cy="1017.6" r="1.35" fill="#72a83a"/>
<circle cx="186.4" cy="1022.2" r="1.35" fill="#72a83a"/>
<circle cx="191.9" cy="994.9" r="1.35" fill="#9fbbcf"/>
<circle cx="194.3" cy="992.8" r="1.35" fill="#9fbbcf"/>
<circle cx="197.6" cy="1006.4" r="1.35" fill="#9fbbcf"/>
<circle cx="197.4" cy="1013.5" r="1.35" fill="#9fbbcf"/>
<circle cx="195.6" cy="1022.2" r="1.35" fill="#9fbbcf"/>
<circle cx="226.4" cy="995.3" r="1.35" fill="#9fbbcf"/>
<circle cx="234.9" cy="996.9" r="1.35" fill="#72a83a"/>
<circle cx="239.0" cy="998.7" r="1.35" fill="#72a83a"/>
<circle cx="249.3" cy="1000.0" r="1.35" fill="#72a83a"/>
<circle cx="236.6" cy="1005.8" r="1.35" fill="#72a83a"/>
<circle cx="234.9" cy="1014.9" r="1.35" fill="#72a83a"/>
<circle cx="243.0" cy="1010.5" r="1.35" fill="#9fbbcf"/>
<circle cx="197.6" cy="1006.4" r="1.35" fill="#9fbbcf"/>
<circle cx="199.5" cy="1011.1" r="1.35" fill="#9fbbcf"/>
<circle cx="197.6" cy="1013.5" r="1.35" fill="#9fbbcf"/>
<circle cx="204.1" cy="1010.1" r="1.35" fill="#72a83a"/>
<circle cx="216.3" cy="1013.5" r="1.35" fill="#9fbbcf"/>
<circle cx="218.9" cy="1013.5" r="1.35" fill="#9fbbcf"/>
<circle cx="253.2" cy="1014.9" r="1.35" fill="#9fbbcf"/>
<circle cx="256.4" cy="1016.2" r="1.35" fill="#9fbbcf"/>
<circle cx="231.5" cy="1021.2" r="1.35" fill="#72a83a"/>
<circle cx="235.5" cy="1022.6" r="1.35" fill="#72a83a"/>
<circle cx="237.6" cy="1024.7" r="1.35" fill="#72a83a"/>
<circle cx="248.7" cy="1022.0" r="1.35" fill="#72a83a"/>
<circle cx="241.6" cy="1021.6" r="1.35" fill="#9fbbcf"/>
<circle cx="263.9" cy="1004.4" r="1.35" fill="#72a83a"/>
<circle cx="269.0" cy="1005.8" r="1.35" fill="#72a83a"/>
<circle cx="269.6" cy="1016.6" r="1.35" fill="#72a83a"/>
<circle cx="276.1" cy="995.3" r="1.35" fill="#9fbbcf"/>
<circle cx="279.7" cy="994.3" r="1.35" fill="#9fbbcf"/>
<circle cx="276.5" cy="1009.5" r="1.35" fill="#9fbbcf"/>
<circle cx="291.3" cy="993.2" r="1.35" fill="#72a83a"/>
<circle cx="291.9" cy="995.3" r="1.35" fill="#72a83a"/>
<circle cx="295.0" cy="998.7" r="1.35" fill="#9fbbcf"/>
<circle cx="291.3" cy="1005.0" r="1.35" fill="#72a83a"/>
<circle cx="290.9" cy="1015.5" r="1.35" fill="#72a83a"/>
<circle cx="291.3" cy="1017.6" r="1.35" fill="#72a83a"/>
<circle cx="271.0" cy="1025.3" r="1.35" fill="#72a83a"/>
<circle cx="264.9" cy="1027.3" r="1.35" fill="#72a83a"/>
<circle cx="285.2" cy="1025.3" r="1.35" fill="#9fbbcf"/>
<circle cx="292.3" cy="1026.1" r="1.35" fill="#72a83a"/>
<circle cx="310.5" cy="1004.8" r="1.35" fill="#9fbbcf"/>
<circle cx="306.1" cy="1013.5" r="1.35" fill="#9fbbcf"/>
<circle cx="303.9" cy="1016.6" r="1.35" fill="#9fbbcf"/>
<circle cx="305.5" cy="1019.6" r="1.35" fill="#9fbbcf"/>
<circle cx="301.4" cy="1024.3" r="1.35" fill="#9fbbcf"/>
<circle cx="313.6" cy="1019.6" r="1.35" fill="#72a83a"/>
<circle cx="320.7" cy="1016.6" r="1.35" fill="#72a83a"/>
<circle cx="313.2" cy="1027.7" r="1.35" fill="#72a83a"/>
<circle cx="316.0" cy="1029.1" r="1.35" fill="#72a83a"/>
<circle cx="336.3" cy="1005.8" r="1.35" fill="#9fbbcf"/>
<circle cx="337.3" cy="1019.6" r="1.35" fill="#9fbbcf"/>
<circle cx="336.9" cy="1028.1" r="1.35" fill="#9fbbcf"/>
<circle cx="201.1" cy="1021.2" r="1.35" fill="#9fbbcf"/>
<circle cx="201.1" cy="1025.7" r="1.35" fill="#9fbbcf"/>
<circle cx="204.1" cy="1027.7" r="1.35" fill="#72a83a"/>
<circle cx="208.8" cy="1029.3" r="1.35" fill="#72a83a"/>
<circle cx="213.2" cy="1024.7" r="1.35" fill="#9fbbcf"/>
<circle cx="216.9" cy="1024.7" r="1.35" fill="#9fbbcf"/>
<circle cx="221.4" cy="1022.6" r="1.35" fill="#9fbbcf"/>
<circle cx="222.0" cy="1026.3" r="1.35" fill="#9fbbcf"/>
<circle cx="226.4" cy="1029.1" r="1.35" fill="#9fbbcf"/>
<circle cx="276.1" cy="1028.1" r="1.35" fill="#9fbbcf"/>
<circle cx="326.8" cy="1028.1" r="1.35" fill="#72a83a"/>
<circle cx="328.8" cy="1029.1" r="1.35" fill="#72a83a"/>
<circle cx="330.4" cy="1032.2" r="1.35" fill="#72a83a"/>
<circle cx="332.4" cy="1029.3" r="1.35" fill="#9fbbcf"/>
<circle cx="82.4" cy="1037.8" r="1.35" fill="#9fbbcf"/>
<circle cx="88.2" cy="1034.0" r="1.35" fill="#9fbbcf"/>
<circle cx="87.6" cy="1035.5" r="1.35" fill="#9fbbcf"/>
<circle cx="74.3" cy="1043.6" r="1.35" fill="#9fbbcf"/>
<circle cx="79.7" cy="1026.1" r="1.35" fill="#9fbbcf"/>
<circle cx="64.0" cy="1029.5" r="1.35" fill="#9fbbcf"/>
<circle cx="67.9" cy="1039.9" r="1.35" fill="#9fbbcf"/>
<circle cx="77.5" cy="1038.9" r="1.35" fill="#9fbbcf"/>
<circle cx="67.0" cy="1043.7" r="1.35" fill="#9fbbcf"/>
<circle cx="87.5" cy="1041.7" r="1.35" fill="#9fbbcf"/>
<circle cx="65.4" cy="1034.8" r="1.35" fill="#9fbbcf"/>
<circle cx="64.8" cy="1033.9" r="1.35" fill="#9fbbcf"/>
<circle cx="64.4" cy="1037.8" r="1.35" fill="#9fbbcf"/>
<circle cx="86.1" cy="1043.7" r="1.35" fill="#9fbbcf"/>
<circle cx="67.0" cy="1042.3" r="1.35" fill="#9fbbcf"/>
<circle cx="86.2" cy="1018.9" r="1.35" fill="#9fbbcf"/>
<circle cx="88.8" cy="1041.7" r="1.35" fill="#9fbbcf"/>
<circle cx="80.5" cy="1039.0" r="1.35" fill="#9fbbcf"/>
<circle cx="88.2" cy="1042.3" r="1.35" fill="#9fbbcf"/>
<circle cx="88.9" cy="1036.5" r="1.35" fill="#9fbbcf"/>
<circle cx="69.4" cy="1030.0" r="1.35" fill="#9fbbcf"/>
<circle cx="65.5" cy="1041.0" r="1.35" fill="#9fbbcf"/>
<circle cx="62.6" cy="1042.8" r="1.35" fill="#9fbbcf"/>
<circle cx="78.3" cy="1041.5" r="1.35" fill="#9fbbcf"/>
<circle cx="80.5" cy="1043.7" r="1.35" fill="#9fbbcf"/>
<circle cx="69.8" cy="1041.2" r="1.35" fill="#9fbbcf"/>
<circle cx="74.7" cy="1033.3" r="1.35" fill="#9fbbcf"/>
<circle cx="74.8" cy="1041.4" r="1.35" fill="#9fbbcf"/>
<circle cx="62.4" cy="1036.3" r="1.35" fill="#9fbbcf"/>
<circle cx="61.4" cy="1021.1" r="1.35" fill="#9fbbcf"/>
<circle cx="85.4" cy="1035.2" r="1.35" fill="#9fbbcf"/>
<circle cx="83.7" cy="1043.6" r="1.35" fill="#9fbbcf"/>
<circle cx="77.6" cy="1040.9" r="1.35" fill="#9fbbcf"/>
<circle cx="62.1" cy="1043.7" r="1.35" fill="#9fbbcf"/>
<circle cx="88.6" cy="1042.5" r="1.35" fill="#9fbbcf"/>
<circle cx="82.8" cy="1042.4" r="1.35" fill="#9fbbcf"/>
<circle cx="88.2" cy="1027.4" r="1.35" fill="#9fbbcf"/>
<circle cx="71.1" cy="1041.2" r="1.35" fill="#9fbbcf"/>
<circle cx="83.3" cy="1039.2" r="1.35" fill="#9fbbcf"/>
<circle cx="82.6" cy="1043.0" r="1.35" fill="#9fbbcf"/>
<circle cx="85.8" cy="1033.9" r="1.35" fill="#9fbbcf"/>
<circle cx="88.3" cy="1043.5" r="1.35" fill="#9fbbcf"/>
<circle cx="97.7" cy="1043.2" r="1.35" fill="#72a83a"/>
<circle cx="106.8" cy="1038.0" r="1.35" fill="#72a83a"/>
<circle cx="106.9" cy="1041.2" r="1.35" fill="#72a83a"/>
<circle cx="97.2" cy="1038.9" r="1.35" fill="#72a83a"/>
<circle cx="95.1" cy="1041.4" r="1.35" fill="#72a83a"/>
<circle cx="94.7" cy="1043.2" r="1.35" fill="#72a83a"/>
<circle cx="108.0" cy="1036.6" r="1.35" fill="#72a83a"/>
<circle cx="93.1" cy="1042.7" r="1.35" fill="#72a83a"/>
<circle cx="98.7" cy="1039.1" r="1.35" fill="#72a83a"/>
<circle cx="101.7" cy="1042.1" r="1.35" fill="#72a83a"/>
<circle cx="99.5" cy="1033.0" r="1.35" fill="#72a83a"/>
<circle cx="93.2" cy="1040.4" r="1.35" fill="#72a83a"/>
<circle cx="92.8" cy="1028.5" r="1.35" fill="#72a83a"/>
<circle cx="105.5" cy="1039.6" r="1.35" fill="#72a83a"/>
<circle cx="103.9" cy="1042.9" r="1.35" fill="#72a83a"/>
<circle cx="102.3" cy="1025.4" r="1.35" fill="#72a83a"/>
<circle cx="94.0" cy="1034.2" r="1.35" fill="#72a83a"/>
<circle cx="94.7" cy="1040.2" r="1.35" fill="#72a83a"/>
<circle cx="97.0" cy="1032.3" r="1.35" fill="#72a83a"/>
<circle cx="108.1" cy="1040.0" r="1.35" fill="#72a83a"/>
<circle cx="107.7" cy="1032.0" r="1.35" fill="#72a83a"/>
<circle cx="100.0" cy="1040.0" r="1.35" fill="#72a83a"/>
<circle cx="99.9" cy="1035.7" r="1.35" fill="#72a83a"/>
<circle cx="114.0" cy="1041.6" r="1.35" fill="#9fbbcf"/>
<circle cx="113.7" cy="1042.8" r="1.35" fill="#9fbbcf"/>
<circle cx="115.9" cy="1024.0" r="1.35" fill="#9fbbcf"/>
<circle cx="113.4" cy="1039.5" r="1.35" fill="#9fbbcf"/>
<circle cx="112.8" cy="1043.2" r="1.35" fill="#9fbbcf"/>
<circle cx="118.0" cy="1034.4" r="1.35" fill="#9fbbcf"/>
<circle cx="117.3" cy="1041.0" r="1.35" fill="#9fbbcf"/>
<circle cx="116.5" cy="1034.6" r="1.35" fill="#9fbbcf"/>
<circle cx="117.0" cy="1037.0" r="1.35" fill="#9fbbcf"/>
<circle cx="116.6" cy="1041.0" r="1.35" fill="#9fbbcf"/>
<circle cx="114.7" cy="1041.7" r="1.35" fill="#9fbbcf"/>
<circle cx="116.4" cy="1034.7" r="1.35" fill="#9fbbcf"/>
<circle cx="118.6" cy="1041.6" r="1.35" fill="#9fbbcf"/>
<circle cx="127.5" cy="1037.3" r="1.35" fill="#72a83a"/>
<circle cx="127.1" cy="1043.7" r="1.35" fill="#72a83a"/>
<circle cx="128.4" cy="1042.0" r="1.35" fill="#72a83a"/>
<circle cx="129.9" cy="1039.9" r="1.35" fill="#72a83a"/>
<circle cx="129.7" cy="1037.3" r="1.35" fill="#72a83a"/>
<circle cx="128.1" cy="1041.1" r="1.35" fill="#72a83a"/>
<circle cx="130.0" cy="1035.5" r="1.35" fill="#72a83a"/>
<circle cx="130.2" cy="1041.1" r="1.35" fill="#72a83a"/>
<circle cx="128.6" cy="1031.2" r="1.35" fill="#72a83a"/>
<circle cx="131.4" cy="1020.8" r="1.35" fill="#72a83a"/>
<circle cx="127.0" cy="1039.3" r="1.35" fill="#72a83a"/>
<circle cx="130.1" cy="1042.6" r="1.35" fill="#72a83a"/>
<circle cx="126.4" cy="1026.7" r="1.35" fill="#72a83a"/>
<circle cx="128.9" cy="1036.5" r="1.35" fill="#72a83a"/>
<circle cx="123.3" cy="1035.7" r="1.35" fill="#72a83a"/>
<circle cx="127.5" cy="1034.4" r="1.35" fill="#72a83a"/>
<circle cx="125.8" cy="1037.0" r="1.35" fill="#72a83a"/>
<circle cx="143.3" cy="1037.7" r="1.35" fill="#9fbbcf"/>
<circle cx="142.7" cy="1037.5" r="1.35" fill="#9fbbcf"/>
<circle cx="136.1" cy="1043.6" r="1.35" fill="#9fbbcf"/>
<circle cx="141.9" cy="1040.2" r="1.35" fill="#9fbbcf"/>
<circle cx="142.3" cy="1042.2" r="1.35" fill="#9fbbcf"/>
<circle cx="134.7" cy="1037.6" r="1.35" fill="#9fbbcf"/>
<circle cx="136.9" cy="1039.8" r="1.35" fill="#9fbbcf"/>
<circle cx="135.8" cy="1043.4" r="1.35" fill="#9fbbcf"/>
<circle cx="136.3" cy="1041.4" r="1.35" fill="#9fbbcf"/>
<circle cx="134.6" cy="1042.4" r="1.35" fill="#9fbbcf"/>
<circle cx="138.7" cy="1039.9" r="1.35" fill="#9fbbcf"/>
<circle cx="141.2" cy="1037.9" r="1.35" fill="#9fbbcf"/>
<circle cx="144.9" cy="1042.1" r="1.35" fill="#9fbbcf"/>
<circle cx="139.0" cy="1043.7" r="1.35" fill="#9fbbcf"/>
<circle cx="139.0" cy="1041.7" r="1.35" fill="#9fbbcf"/>
<circle cx="144.0" cy="1043.0" r="1.35" fill="#9fbbcf"/>
<circle cx="134.6" cy="1040.9" r="1.35" fill="#9fbbcf"/>
<circle cx="135.3" cy="1037.9" r="1.35" fill="#9fbbcf"/>
<circle cx="138.2" cy="1038.9" r="1.35" fill="#9fbbcf"/>
<circle cx="162.3" cy="1038.4" r="1.35" fill="#72a83a"/>
<circle cx="154.5" cy="1033.3" r="1.35" fill="#72a83a"/>
<circle cx="157.7" cy="1033.4" r="1.35" fill="#72a83a"/>
<circle cx="150.5" cy="1040.9" r="1.35" fill="#72a83a"/>
<circle cx="156.6" cy="1038.2" r="1.35" fill="#72a83a"/>
<circle cx="162.4" cy="1024.4" r="1.35" fill="#72a83a"/>
<circle cx="153.5" cy="1038.0" r="1.35" fill="#72a83a"/>
<circle cx="148.4" cy="1030.0" r="1.35" fill="#72a83a"/>
<circle cx="156.6" cy="1043.0" r="1.35" fill="#72a83a"/>
<circle cx="150.4" cy="1037.9" r="1.35" fill="#72a83a"/>
<circle cx="161.3" cy="1037.7" r="1.35" fill="#72a83a"/>
<circle cx="154.7" cy="1040.9" r="1.35" fill="#72a83a"/>
<circle cx="152.6" cy="1042.2" r="1.35" fill="#72a83a"/>
<circle cx="153.9" cy="1021.7" r="1.35" fill="#72a83a"/>
<circle cx="161.6" cy="1023.8" r="1.35" fill="#72a83a"/>
<circle cx="152.2" cy="1038.2" r="1.35" fill="#72a83a"/>
<circle cx="155.6" cy="1019.4" r="1.35" fill="#72a83a"/>
<circle cx="153.0" cy="1040.5" r="1.35" fill="#72a83a"/>
<circle cx="155.5" cy="1018.2" r="1.35" fill="#72a83a"/>
<circle cx="155.3" cy="1041.7" r="1.35" fill="#72a83a"/>
<circle cx="157.4" cy="1043.0" r="1.35" fill="#72a83a"/>
<circle cx="152.6" cy="1040.1" r="1.35" fill="#72a83a"/>
<circle cx="174.1" cy="1034.4" r="1.35" fill="#9fbbcf"/>
<circle cx="171.0" cy="1043.7" r="1.35" fill="#9fbbcf"/>
<circle cx="175.3" cy="1041.8" r="1.35" fill="#9fbbcf"/>
<circle cx="167.9" cy="1034.4" r="1.35" fill="#9fbbcf"/>
<circle cx="167.0" cy="1041.8" r="1.35" fill="#9fbbcf"/>
<circle cx="171.8" cy="1041.6" r="1.35" fill="#9fbbcf"/>
<circle cx="172.2" cy="1039.8" r="1.35" fill="#9fbbcf"/>
<circle cx="173.3" cy="1038.1" r="1.35" fill="#9fbbcf"/>
<circle cx="173.4" cy="1043.0" r="1.35" fill="#9fbbcf"/>
<circle cx="171.0" cy="1041.6" r="1.35" fill="#9fbbcf"/>
<circle cx="168.5" cy="1041.2" r="1.35" fill="#9fbbcf"/>
<circle cx="170.3" cy="1039.1" r="1.35" fill="#9fbbcf"/>
<circle cx="173.3" cy="1041.0" r="1.35" fill="#9fbbcf"/>
<circle cx="165.7" cy="1038.3" r="1.35" fill="#9fbbcf"/>
<circle cx="170.2" cy="1042.0" r="1.35" fill="#9fbbcf"/>
<circle cx="174.8" cy="1028.5" r="1.35" fill="#9fbbcf"/>
<circle cx="178.5" cy="1038.9" r="1.35" fill="#72a83a"/>
<circle cx="182.3" cy="1034.5" r="1.35" fill="#72a83a"/>
<circle cx="184.9" cy="1038.5" r="1.35" fill="#72a83a"/>
<circle cx="182.8" cy="1037.6" r="1.35" fill="#72a83a"/>
<circle cx="181.9" cy="1028.8" r="1.35" fill="#72a83a"/>
<circle cx="186.2" cy="1040.7" r="1.35" fill="#72a83a"/>
<circle cx="181.1" cy="1042.4" r="1.35" fill="#72a83a"/>
<circle cx="179.0" cy="1032.9" r="1.35" fill="#72a83a"/>
<circle cx="184.8" cy="1032.6" r="1.35" fill="#72a83a"/>
<circle cx="181.0" cy="1040.3" r="1.35" fill="#72a83a"/>
<circle cx="186.8" cy="1034.4" r="1.35" fill="#72a83a"/>
<circle cx="182.8" cy="1042.8" r="1.35" fill="#72a83a"/>
<circle cx="183.0" cy="1038.9" r="1.35" fill="#72a83a"/>
<circle cx="179.8" cy="1041.3" r="1.35" fill="#72a83a"/>
<circle cx="185.9" cy="1038.3" r="1.35" fill="#72a83a"/>
<circle cx="191.9" cy="1043.3" r="1.35" fill="#9fbbcf"/>
<circle cx="196.6" cy="1033.2" r="1.35" fill="#9fbbcf"/>
<circle cx="190.2" cy="1037.1" r="1.35" fill="#9fbbcf"/>
<circle cx="198.1" cy="1035.9" r="1.35" fill="#9fbbcf"/>
<circle cx="190.4" cy="1036.3" r="1.35" fill="#9fbbcf"/>
<circle cx="191.8" cy="1032.4" r="1.35" fill="#9fbbcf"/>
<circle cx="197.9" cy="1037.4" r="1.35" fill="#9fbbcf"/>
<circle cx="191.1" cy="1036.1" r="1.35" fill="#9fbbcf"/>
<circle cx="197.6" cy="1041.6" r="1.35" fill="#9fbbcf"/>
<circle cx="195.1" cy="1042.8" r="1.35" fill="#9fbbcf"/>
<circle cx="191.3" cy="1040.5" r="1.35" fill="#9fbbcf"/>
<circle cx="190.4" cy="1037.8" r="1.35" fill="#9fbbcf"/>
<circle cx="193.1" cy="1043.0" r="1.35" fill="#9fbbcf"/>
<circle cx="201.2" cy="1043.3" r="1.35" fill="#72a83a"/>
<circle cx="207.6" cy="1038.5" r="1.35" fill="#72a83a"/>
<circle cx="201.9" cy="1030.8" r="1.35" fill="#72a83a"/>
<circle cx="203.6" cy="1040.3" r="1.35" fill="#72a83a"/>
<circle cx="205.3" cy="1038.1" r="1.35" fill="#72a83a"/>
<circle cx="204.2" cy="1026.6" r="1.35" fill="#72a83a"/>
<circle cx="207.2" cy="1043.4" r="1.35" fill="#72a83a"/>
<circle cx="206.6" cy="1042.7" r="1.35" fill="#72a83a"/>
<circle cx="209.2" cy="1039.4" r="1.35" fill="#72a83a"/>
<circle cx="206.5" cy="1038.8" r="1.35" fill="#72a83a"/>
<circle cx="205.8" cy="1041.9" r="1.35" fill="#72a83a"/>
<circle cx="207.7" cy="1041.9" r="1.35" fill="#72a83a"/>
<circle cx="201.9" cy="1039.3" r="1.35" fill="#72a83a"/>
<circle cx="204.2" cy="1042.1" r="1.35" fill="#72a83a"/>
<circle cx="202.4" cy="1035.5" r="1.35" fill="#72a83a"/>
<circle cx="221.4" cy="1036.1" r="1.35" fill="#9fbbcf"/>
<circle cx="221.6" cy="1043.2" r="1.35" fill="#9fbbcf"/>
<circle cx="214.1" cy="1043.2" r="1.35" fill="#9fbbcf"/>
<circle cx="215.7" cy="1038.2" r="1.35" fill="#9fbbcf"/>
<circle cx="219.0" cy="1030.9" r="1.35" fill="#9fbbcf"/>
<circle cx="223.4" cy="1041.4" r="1.35" fill="#9fbbcf"/>
<circle cx="222.4" cy="1043.6" r="1.35" fill="#9fbbcf"/>
<circle cx="214.5" cy="1043.4" r="1.35" fill="#9fbbcf"/>
<circle cx="221.8" cy="1025.1" r="1.35" fill="#9fbbcf"/>
<circle cx="214.0" cy="1042.2" r="1.35" fill="#9fbbcf"/>
<circle cx="221.6" cy="1021.6" r="1.35" fill="#9fbbcf"/>
<circle cx="214.3" cy="1033.2" r="1.35" fill="#9fbbcf"/>
<circle cx="217.3" cy="1037.7" r="1.35" fill="#9fbbcf"/>
<circle cx="217.0" cy="1042.1" r="1.35" fill="#9fbbcf"/>
<circle cx="217.2" cy="1037.9" r="1.35" fill="#9fbbcf"/>
<circle cx="214.3" cy="1040.8" r="1.35" fill="#9fbbcf"/>
<circle cx="221.3" cy="1032.8" r="1.35" fill="#9fbbcf"/>
<circle cx="218.4" cy="1033.7" r="1.35" fill="#9fbbcf"/>
<circle cx="219.5" cy="1032.0" r="1.35" fill="#9fbbcf"/>
<circle cx="220.3" cy="1038.2" r="1.35" fill="#9fbbcf"/>
<circle cx="217.9" cy="1035.5" r="1.35" fill="#9fbbcf"/>
<circle cx="229.0" cy="1043.1" r="1.35" fill="#72a83a"/>
<circle cx="229.0" cy="1042.4" r="1.35" fill="#72a83a"/>
<circle cx="233.8" cy="1030.2" r="1.35" fill="#72a83a"/>
<circle cx="228.6" cy="1035.0" r="1.35" fill="#72a83a"/>
<circle cx="238.2" cy="1039.8" r="1.35" fill="#72a83a"/>
<circle cx="233.2" cy="1037.8" r="1.35" fill="#72a83a"/>
<circle cx="229.7" cy="1039.9" r="1.35" fill="#72a83a"/>
<circle cx="230.3" cy="1042.7" r="1.35" fill="#72a83a"/>
<circle cx="232.8" cy="1040.9" r="1.35" fill="#72a83a"/>
<circle cx="230.2" cy="1030.7" r="1.35" fill="#72a83a"/>
<circle cx="231.6" cy="1041.9" r="1.35" fill="#72a83a"/>
<circle cx="231.7" cy="1042.7" r="1.35" fill="#72a83a"/>
<circle cx="233.8" cy="1042.1" r="1.35" fill="#72a83a"/>
<circle cx="238.6" cy="1043.5" r="1.35" fill="#72a83a"/>
<circle cx="238.7" cy="1040.9" r="1.35" fill="#72a83a"/>
<circle cx="235.9" cy="1036.6" r="1.35" fill="#72a83a"/>
<circle cx="238.8" cy="1039.8" r="1.35" fill="#72a83a"/>
<circle cx="242.3" cy="1043.0" r="1.35" fill="#9fbbcf"/>
<circle cx="242.3" cy="1041.6" r="1.35" fill="#9fbbcf"/>
<circle cx="241.9" cy="1035.7" r="1.35" fill="#9fbbcf"/>
<circle cx="241.8" cy="1042.4" r="1.35" fill="#9fbbcf"/>
<circle cx="245.2" cy="1042.1" r="1.35" fill="#72a83a"/>
<circle cx="248.0" cy="1040.6" r="1.35" fill="#72a83a"/>
<circle cx="245.9" cy="1041.0" r="1.35" fill="#72a83a"/>
<circle cx="245.8" cy="1039.9" r="1.35" fill="#72a83a"/>
<circle cx="247.2" cy="1035.7" r="1.35" fill="#72a83a"/>
<circle cx="245.7" cy="1042.7" r="1.35" fill="#72a83a"/>
<circle cx="247.9" cy="1036.9" r="1.35" fill="#72a83a"/>
<circle cx="254.0" cy="1037.4" r="1.35" fill="#9fbbcf"/>
<circle cx="250.6" cy="1021.0" r="1.35" fill="#9fbbcf"/>
<circle cx="256.9" cy="1043.4" r="1.35" fill="#9fbbcf"/>
<circle cx="250.9" cy="1040.5" r="1.35" fill="#9fbbcf"/>
<circle cx="258.6" cy="1038.9" r="1.35" fill="#9fbbcf"/>
<circle cx="253.4" cy="1039.3" r="1.35" fill="#9fbbcf"/>
<circle cx="251.1" cy="1043.1" r="1.35" fill="#9fbbcf"/>
<circle cx="254.5" cy="1029.7" r="1.35" fill="#9fbbcf"/>
<circle cx="250.9" cy="1026.9" r="1.35" fill="#9fbbcf"/>
<circle cx="250.9" cy="1042.0" r="1.35" fill="#9fbbcf"/>
<circle cx="251.0" cy="1040.6" r="1.35" fill="#9fbbcf"/>
<circle cx="253.8" cy="1041.9" r="1.35" fill="#9fbbcf"/>
<circle cx="250.9" cy="1041.5" r="1.35" fill="#9fbbcf"/>
<circle cx="258.5" cy="1043.5" r="1.35" fill="#9fbbcf"/>
<circle cx="266.5" cy="1042.5" r="1.35" fill="#72a83a"/>
<circle cx="266.8" cy="1040.6" r="1.35" fill="#72a83a"/>
<circle cx="264.5" cy="1043.2" r="1.35" fill="#72a83a"/>
<circle cx="266.9" cy="1043.0" r="1.35" fill="#72a83a"/>
<circle cx="267.5" cy="1028.1" r="1.35" fill="#72a83a"/>
<circle cx="263.4" cy="1031.8" r="1.35" fill="#72a83a"/>
<circle cx="266.9" cy="1043.6" r="1.35" fill="#72a83a"/>
<circle cx="267.2" cy="1039.7" r="1.35" fill="#72a83a"/>
<circle cx="267.8" cy="1040.8" r="1.35" fill="#72a83a"/>
<circle cx="270.9" cy="1035.8" r="1.35" fill="#72a83a"/>
<circle cx="265.9" cy="1041.5" r="1.35" fill="#72a83a"/>
<circle cx="263.5" cy="1033.0" r="1.35" fill="#72a83a"/>
<circle cx="264.4" cy="1043.0" r="1.35" fill="#72a83a"/>
<circle cx="269.4" cy="1043.2" r="1.35" fill="#72a83a"/>
<circle cx="264.4" cy="1033.2" r="1.35" fill="#72a83a"/>
<circle cx="262.0" cy="1042.9" r="1.35" fill="#72a83a"/>
<circle cx="262.0" cy="1042.0" r="1.35" fill="#72a83a"/>
<circle cx="281.0" cy="1040.3" r="1.35" fill="#9fbbcf"/>
<circle cx="274.9" cy="1042.0" r="1.35" fill="#9fbbcf"/>
<circle cx="274.8" cy="1036.3" r="1.35" fill="#9fbbcf"/>
<circle cx="277.6" cy="1042.4" r="1.35" fill="#9fbbcf"/>
<circle cx="275.4" cy="1040.9" r="1.35" fill="#9fbbcf"/>
<circle cx="277.9" cy="1040.4" r="1.35" fill="#9fbbcf"/>
<circle cx="280.8" cy="1035.2" r="1.35" fill="#9fbbcf"/>
<circle cx="281.9" cy="1029.8" r="1.35" fill="#9fbbcf"/>
<circle cx="281.0" cy="1035.0" r="1.35" fill="#9fbbcf"/>
<circle cx="283.8" cy="1040.2" r="1.35" fill="#9fbbcf"/>
<circle cx="285.5" cy="1037.2" r="1.35" fill="#9fbbcf"/>
<circle cx="282.5" cy="1035.8" r="1.35" fill="#9fbbcf"/>
<circle cx="283.8" cy="1041.8" r="1.35" fill="#9fbbcf"/>
<circle cx="275.7" cy="1040.8" r="1.35" fill="#9fbbcf"/>
<circle cx="276.2" cy="1043.3" r="1.35" fill="#9fbbcf"/>
<circle cx="282.2" cy="1041.9" r="1.35" fill="#9fbbcf"/>
<circle cx="274.9" cy="1041.7" r="1.35" fill="#9fbbcf"/>
<circle cx="280.8" cy="1034.9" r="1.35" fill="#9fbbcf"/>
<circle cx="274.8" cy="1043.6" r="1.35" fill="#9fbbcf"/>
<circle cx="289.4" cy="1042.9" r="1.35" fill="#72a83a"/>
<circle cx="291.0" cy="1031.7" r="1.35" fill="#72a83a"/>
<circle cx="289.0" cy="1037.9" r="1.35" fill="#72a83a"/>
<circle cx="289.4" cy="1040.3" r="1.35" fill="#72a83a"/>
<circle cx="288.4" cy="1041.3" r="1.35" fill="#72a83a"/>
<circle cx="290.6" cy="1038.4" r="1.35" fill="#72a83a"/>
<circle cx="294.9" cy="1035.8" r="1.35" fill="#9fbbcf"/>
<circle cx="296.0" cy="1039.1" r="1.35" fill="#9fbbcf"/>
<circle cx="300.1" cy="1036.2" r="1.35" fill="#9fbbcf"/>
<circle cx="305.3" cy="1026.6" r="1.35" fill="#9fbbcf"/>
<circle cx="298.2" cy="1043.0" r="1.35" fill="#9fbbcf"/>
<circle cx="300.3" cy="1028.6" r="1.35" fill="#9fbbcf"/>
<circle cx="300.0" cy="1040.3" r="1.35" fill="#9fbbcf"/>
<circle cx="307.4" cy="1034.8" r="1.35" fill="#9fbbcf"/>
<circle cx="307.9" cy="1039.1" r="1.35" fill="#9fbbcf"/>
<circle cx="295.0" cy="1038.2" r="1.35" fill="#9fbbcf"/>
<circle cx="299.7" cy="1033.4" r="1.35" fill="#9fbbcf"/>
<circle cx="308.0" cy="1043.4" r="1.35" fill="#9fbbcf"/>
<circle cx="302.0" cy="1043.5" r="1.35" fill="#9fbbcf"/>
<circle cx="306.6" cy="1039.7" r="1.35" fill="#9fbbcf"/>
<circle cx="296.7" cy="1040.7" r="1.35" fill="#9fbbcf"/>
<circle cx="296.5" cy="1041.8" r="1.35" fill="#9fbbcf"/>
<circle cx="298.8" cy="1038.7" r="1.35" fill="#9fbbcf"/>
<circle cx="297.1" cy="1035.2" r="1.35" fill="#9fbbcf"/>
<circle cx="297.2" cy="1041.1" r="1.35" fill="#9fbbcf"/>
<circle cx="305.9" cy="1018.9" r="1.35" fill="#9fbbcf"/>
<circle cx="302.6" cy="1032.1" r="1.35" fill="#9fbbcf"/>
<circle cx="295.6" cy="1040.6" r="1.35" fill="#9fbbcf"/>
<circle cx="300.8" cy="1032.8" r="1.35" fill="#9fbbcf"/>
<circle cx="311.9" cy="1043.5" r="1.35" fill="#72a83a"/>
<circle cx="315.9" cy="1043.1" r="1.35" fill="#72a83a"/>
<circle cx="312.1" cy="1029.6" r="1.35" fill="#72a83a"/>
<circle cx="313.0" cy="1034.0" r="1.35" fill="#72a83a"/>
<circle cx="316.9" cy="1036.7" r="1.35" fill="#72a83a"/>
<circle cx="316.5" cy="1037.8" r="1.35" fill="#72a83a"/>
<circle cx="310.8" cy="1040.8" r="1.35" fill="#72a83a"/>
<circle cx="314.9" cy="1039.3" r="1.35" fill="#72a83a"/>
<circle cx="313.5" cy="1042.5" r="1.35" fill="#72a83a"/>
<circle cx="310.9" cy="1041.4" r="1.35" fill="#72a83a"/>
<circle cx="313.5" cy="1041.5" r="1.35" fill="#72a83a"/>
<circle cx="315.8" cy="1039.8" r="1.35" fill="#72a83a"/>
<circle cx="321.5" cy="1040.6" r="1.35" fill="#9fbbcf"/>
<circle cx="321.4" cy="1033.4" r="1.35" fill="#9fbbcf"/>
<circle cx="321.1" cy="1036.5" r="1.35" fill="#9fbbcf"/>
<circle cx="321.3" cy="1039.0" r="1.35" fill="#9fbbcf"/>
<circle cx="326.7" cy="1041.0" r="1.35" fill="#72a83a"/>
<circle cx="326.4" cy="1036.8" r="1.35" fill="#72a83a"/>
<circle cx="324.3" cy="1041.7" r="1.35" fill="#72a83a"/>
<circle cx="325.6" cy="1043.2" r="1.35" fill="#72a83a"/>
<circle cx="327.5" cy="1038.4" r="1.35" fill="#72a83a"/>
<circle cx="325.3" cy="1036.0" r="1.35" fill="#72a83a"/>
<circle cx="325.2" cy="1027.5" r="1.35" fill="#72a83a"/>
<circle cx="324.2" cy="1036.0" r="1.35" fill="#72a83a"/>
<circle cx="327.0" cy="1035.1" r="1.35" fill="#72a83a"/>
<circle cx="336.7" cy="1024.4" r="1.35" fill="#9fbbcf"/>
<circle cx="336.3" cy="1036.6" r="1.35" fill="#9fbbcf"/>
<circle cx="334.8" cy="1035.5" r="1.35" fill="#9fbbcf"/>
<circle cx="334.3" cy="1042.3" r="1.35" fill="#9fbbcf"/>
<circle cx="332.5" cy="1029.8" r="1.35" fill="#9fbbcf"/>
<circle cx="334.4" cy="1021.2" r="1.35" fill="#9fbbcf"/>
<circle cx="331.0" cy="1040.7" r="1.35" fill="#9fbbcf"/>
<circle cx="332.1" cy="1040.7" r="1.35" fill="#9fbbcf"/>
<circle cx="336.7" cy="1037.2" r="1.35" fill="#9fbbcf"/>
<circle cx="334.9" cy="1028.9" r="1.35" fill="#9fbbcf"/>
<circle cx="331.7" cy="1040.7" r="1.35" fill="#9fbbcf"/>
<line x1="52.5" y1="977.14" x2="346.5" y2="977.14" stroke="#6a6cb6" stroke-width="1.4"/>
<line x1="77" y1="1044.35" x2="334.65" y2="1044.35" stroke="#999" stroke-width="0.8"/>
<line x1="77" y1="1044.25" x2="77" y2="1050.75" stroke="#444" stroke-width="1"/>
<text x="77" y="1066.05" class="tk2" text-anchor="middle">1</text>
<line x1="101.7" y1="1044.25" x2="101.7" y2="1050.75" stroke="#444" stroke-width="1"/>
<text x="101.7" y="1066.05" class="tk2" text-anchor="middle">2</text>
<line x1="116.1" y1="1044.25" x2="116.1" y2="1050.75" stroke="#444" stroke-width="1"/>
<text x="116.1" y="1066.05" class="tk2" text-anchor="middle">3</text>
<line x1="127.75" y1="1044.25" x2="127.75" y2="1050.75" stroke="#444" stroke-width="1"/>
<line x1="140.9" y1="1044.25" x2="140.9" y2="1050.75" stroke="#444" stroke-width="1"/>
<text x="140.9" y="1066.05" class="tk2" text-anchor="middle">5</text>
<line x1="156.8" y1="1044.25" x2="156.8" y2="1050.75" stroke="#444" stroke-width="1"/>
<text x="156.8" y="1066.05" class="tk2" text-anchor="middle">6</text>
<line x1="171.5" y1="1044.25" x2="171.5" y2="1050.75" stroke="#444" stroke-width="1"/>
<text x="171.5" y="1066.05" class="tk2" text-anchor="middle">7</text>
<line x1="184.1" y1="1044.25" x2="184.1" y2="1050.75" stroke="#444" stroke-width="1"/>
<line x1="195.25" y1="1044.25" x2="195.25" y2="1050.75" stroke="#444" stroke-width="1"/>
<text x="195.25" y="1066.05" class="tk2" text-anchor="middle">9</text>
<line x1="206.9" y1="1044.25" x2="206.9" y2="1050.75" stroke="#444" stroke-width="1"/>
<line x1="220.9" y1="1044.25" x2="220.9" y2="1050.75" stroke="#444" stroke-width="1"/>
<text x="220.9" y="1066.05" class="tk2" text-anchor="middle">11</text>
<line x1="234.7" y1="1044.25" x2="234.7" y2="1050.75" stroke="#444" stroke-width="1"/>
<line x1="242.6" y1="1044.25" x2="242.6" y2="1050.75" stroke="#444" stroke-width="1"/>
<text x="242.6" y="1066.05" class="tk2" text-anchor="middle">13</text>
<line x1="247.65" y1="1044.25" x2="247.65" y2="1050.75" stroke="#444" stroke-width="1"/>
<line x1="255.75" y1="1044.25" x2="255.75" y2="1050.75" stroke="#444" stroke-width="1"/>
<line x1="267.6" y1="1044.25" x2="267.6" y2="1050.75" stroke="#444" stroke-width="1"/>
<text x="267.6" y="1066.05" class="tk2" text-anchor="middle">16</text>
<line x1="281.65" y1="1044.25" x2="281.65" y2="1050.75" stroke="#444" stroke-width="1"/>
<line x1="291.25" y1="1044.25" x2="291.25" y2="1050.75" stroke="#444" stroke-width="1"/>
<text x="291.25" y="1066.05" class="tk2" text-anchor="middle">18</text>
<line x1="302.35" y1="1044.25" x2="302.35" y2="1050.75" stroke="#444" stroke-width="1"/>
<line x1="316.3" y1="1044.25" x2="316.3" y2="1050.75" stroke="#444" stroke-width="1"/>
<text x="316.3" y="1066.05" class="tk2" text-anchor="middle">20</text>
<line x1="322.8" y1="1044.25" x2="322.8" y2="1050.75" stroke="#444" stroke-width="1"/>
<line x1="327.8" y1="1044.25" x2="327.8" y2="1050.75" stroke="#444" stroke-width="1"/>
<line x1="334.65" y1="1044.25" x2="334.65" y2="1050.75" stroke="#444" stroke-width="1"/>
<text x="334.65" y="1066.05" class="tk2" text-anchor="middle">X</text>
<text x="199.6" y="1090.75" class="xl" text-anchor="middle">Chromosome</text>
<text transform="translate(392.55,757.25) scale(1,1.07)" class="lab">F.</text>
<text x="591.0" y="766.3" class="ttl" text-anchor="middle">Seroprotection Yama UGA3&amp;4 Vaccine Adj.P</text>
<line x1="444.0" y1="787" x2="444.0" y2="1043.75" stroke="#7a7a7a" stroke-width="1"/>
<line x1="437.5" y1="1043.75" x2="444.0" y2="1043.75" stroke="#555" stroke-width="1"/>
<text x="429.2" y="1046.75" class="tk" text-anchor="middle">0</text>
<line x1="437.5" y1="992.55" x2="444.0" y2="992.55" stroke="#555" stroke-width="1"/>
<text x="429.2" y="995.55" class="tk" text-anchor="middle">1</text>
<line x1="437.5" y1="941.35" x2="444.0" y2="941.35" stroke="#555" stroke-width="1"/>
<text x="429.2" y="944.35" class="tk" text-anchor="middle">2</text>
<line x1="437.5" y1="890.15" x2="444.0" y2="890.15" stroke="#555" stroke-width="1"/>
<text x="429.2" y="893.15" class="tk" text-anchor="middle">3</text>
<line x1="437.5" y1="838.95" x2="444.0" y2="838.95" stroke="#555" stroke-width="1"/>
<text x="429.2" y="841.95" class="tk" text-anchor="middle">4</text>
<line x1="437.5" y1="787.75" x2="444.0" y2="787.75" stroke="#555" stroke-width="1"/>
<text x="429.2" y="790.75" class="tk" text-anchor="middle">5</text>
<text transform="translate(402.2,915.8) rotate(-90)" class="yl" text-anchor="middle">−log<tspan font-size="7.5" dy="2.2">10</tspan><tspan dy="-2.2">(</tspan><tspan font-style="italic">p</tspan>)</text>
<rect x="443.00" y="1042.85" width="287.00" height="1.3" fill="#9fbbcf"/>
<circle cx="571.8" cy="972.3" r="1.35" fill="#72a83a"/>
<circle cx="544.8" cy="994.2" r="1.35" fill="#72a83a"/>
<circle cx="474.5" cy="1013.2" r="1.35" fill="#9fbbcf"/>
<circle cx="560.0" cy="1013.2" r="1.35" fill="#9fbbcf"/>
<circle cx="541.4" cy="1024.0" r="1.35" fill="#72a83a"/>
<circle cx="571.2" cy="1024.0" r="1.35" fill="#72a83a"/>
<circle cx="575.8" cy="1022.6" r="1.35" fill="#72a83a"/>
<circle cx="485.6" cy="1032.5" r="1.35" fill="#72a83a"/>
<circle cx="485.6" cy="1036.2" r="1.35" fill="#72a83a"/>
<circle cx="494.3" cy="1035.7" r="1.35" fill="#72a83a"/>
<circle cx="484.6" cy="1040.6" r="1.35" fill="#72a83a"/>
<circle cx="487.0" cy="1040.6" r="1.35" fill="#72a83a"/>
<circle cx="493.7" cy="1040.6" r="1.35" fill="#72a83a"/>
<circle cx="497.4" cy="1040.6" r="1.35" fill="#72a83a"/>
<circle cx="500.8" cy="1040.6" r="1.35" fill="#72a83a"/>
<circle cx="504.5" cy="1032.5" r="1.35" fill="#9fbbcf"/>
<circle cx="514.0" cy="1032.5" r="1.35" fill="#72a83a"/>
<circle cx="521.5" cy="1032.5" r="1.35" fill="#72a83a"/>
<circle cx="522.5" cy="1039.2" r="1.35" fill="#72a83a"/>
<circle cx="518.0" cy="1040.6" r="1.35" fill="#72a83a"/>
<circle cx="530.2" cy="1032.5" r="1.35" fill="#9fbbcf"/>
<circle cx="532.8" cy="1032.5" r="1.35" fill="#9fbbcf"/>
<circle cx="531.2" cy="1036.2" r="1.35" fill="#9fbbcf"/>
<circle cx="538.9" cy="1032.5" r="1.35" fill="#9fbbcf"/>
<circle cx="543.4" cy="1032.5" r="1.35" fill="#72a83a"/>
<circle cx="545.4" cy="1032.5" r="1.35" fill="#72a83a"/>
<circle cx="550.5" cy="1032.5" r="1.35" fill="#72a83a"/>
<circle cx="552.5" cy="1036.8" r="1.35" fill="#72a83a"/>
<circle cx="552.5" cy="1040.6" r="1.35" fill="#72a83a"/>
<circle cx="571.2" cy="1032.5" r="1.35" fill="#72a83a"/>
<circle cx="576.4" cy="1032.5" r="1.35" fill="#72a83a"/>
<circle cx="580.5" cy="1032.5" r="1.35" fill="#72a83a"/>
<circle cx="571.8" cy="1040.6" r="1.35" fill="#72a83a"/>
<circle cx="573.8" cy="1040.6" r="1.35" fill="#72a83a"/>
<circle cx="578.9" cy="1040.6" r="1.35" fill="#72a83a"/>
<circle cx="464.7" cy="1037.6" r="1.35" fill="#9fbbcf"/>
<circle cx="457.8" cy="1040.6" r="1.35" fill="#9fbbcf"/>
<circle cx="460.3" cy="1040.6" r="1.35" fill="#9fbbcf"/>
<circle cx="472.4" cy="1040.6" r="1.35" fill="#9fbbcf"/>
<circle cx="482.0" cy="1040.6" r="1.35" fill="#9fbbcf"/>
<circle cx="566.7" cy="1040.6" r="1.35" fill="#9fbbcf"/>
<circle cx="568.7" cy="1040.6" r="1.35" fill="#9fbbcf"/>
<circle cx="581.9" cy="1040.6" r="1.35" fill="#9fbbcf"/>
<circle cx="589.6" cy="1032.5" r="1.35" fill="#9fbbcf"/>
<circle cx="596.1" cy="1007.4" r="1.35" fill="#72a83a"/>
<circle cx="590.1" cy="1032.5" r="1.35" fill="#9fbbcf"/>
<circle cx="594.5" cy="1037.2" r="1.35" fill="#72a83a"/>
<circle cx="596.1" cy="1041.6" r="1.35" fill="#72a83a"/>
<circle cx="604.3" cy="1032.5" r="1.35" fill="#9fbbcf"/>
<circle cx="607.3" cy="1028.5" r="1.35" fill="#9fbbcf"/>
<circle cx="605.3" cy="1040.6" r="1.35" fill="#9fbbcf"/>
<circle cx="608.3" cy="1040.6" r="1.35" fill="#9fbbcf"/>
<circle cx="613.4" cy="1040.6" r="1.35" fill="#9fbbcf"/>
<circle cx="616.4" cy="1040.6" r="1.35" fill="#9fbbcf"/>
<circle cx="621.1" cy="1028.5" r="1.35" fill="#72a83a"/>
<circle cx="623.9" cy="1033.1" r="1.35" fill="#72a83a"/>
<circle cx="620.5" cy="1040.6" r="1.35" fill="#72a83a"/>
<circle cx="622.5" cy="1040.6" r="1.35" fill="#72a83a"/>
<circle cx="627.6" cy="1040.6" r="1.35" fill="#72a83a"/>
<circle cx="632.6" cy="1022.6" r="1.35" fill="#9fbbcf"/>
<circle cx="638.7" cy="1032.5" r="1.35" fill="#72a83a"/>
<circle cx="639.7" cy="1032.5" r="1.35" fill="#72a83a"/>
<circle cx="636.7" cy="1040.6" r="1.35" fill="#72a83a"/>
<circle cx="642.8" cy="1040.6" r="1.35" fill="#9fbbcf"/>
<circle cx="648.9" cy="1035.1" r="1.35" fill="#9fbbcf"/>
<circle cx="651.9" cy="1035.7" r="1.35" fill="#9fbbcf"/>
<circle cx="660.0" cy="1000.3" r="1.35" fill="#72a83a"/>
<circle cx="660.0" cy="1022.6" r="1.35" fill="#72a83a"/>
<circle cx="661.0" cy="1028.5" r="1.35" fill="#72a83a"/>
<circle cx="659.0" cy="1032.5" r="1.35" fill="#72a83a"/>
<circle cx="660.4" cy="1040.6" r="1.35" fill="#72a83a"/>
<circle cx="662.0" cy="1041.2" r="1.35" fill="#72a83a"/>
<circle cx="656.0" cy="1042.2" r="1.35" fill="#72a83a"/>
<circle cx="670.5" cy="1032.5" r="1.35" fill="#9fbbcf"/>
<circle cx="674.8" cy="1034.1" r="1.35" fill="#9fbbcf"/>
<circle cx="669.1" cy="1040.6" r="1.35" fill="#9fbbcf"/>
<circle cx="684.9" cy="1028.5" r="1.35" fill="#9fbbcf"/>
<circle cx="692.0" cy="1028.5" r="1.35" fill="#9fbbcf"/>
<circle cx="683.3" cy="1040.6" r="1.35" fill="#72a83a"/>
<circle cx="688.4" cy="1040.6" r="1.35" fill="#9fbbcf"/>
<circle cx="695.5" cy="1040.6" r="1.35" fill="#9fbbcf"/>
<circle cx="706.2" cy="1010.4" r="1.35" fill="#72a83a"/>
<circle cx="702.6" cy="1040.6" r="1.35" fill="#72a83a"/>
<circle cx="710.3" cy="1040.6" r="1.35" fill="#72a83a"/>
<circle cx="716.4" cy="1040.6" r="1.35" fill="#72a83a"/>
<circle cx="719.8" cy="1032.5" r="1.35" fill="#72a83a"/>
<circle cx="722.4" cy="1035.7" r="1.35" fill="#72a83a"/>
<circle cx="719.8" cy="1040.6" r="1.35" fill="#72a83a"/>
<circle cx="726.9" cy="1032.5" r="1.35" fill="#9fbbcf"/>
<circle cx="724.5" cy="1040.6" r="1.35" fill="#9fbbcf"/>
<line x1="444.0" y1="977.14" x2="738.0" y2="977.14" stroke="#6a6cb6" stroke-width="1.4"/>
<line x1="468.5" y1="1044.35" x2="726.15" y2="1044.35" stroke="#999" stroke-width="0.8"/>
<line x1="468.5" y1="1044.25" x2="468.5" y2="1050.75" stroke="#444" stroke-width="1"/>
<text x="468.5" y="1066.05" class="tk2" text-anchor="middle">1</text>
<line x1="493.2" y1="1044.25" x2="493.2" y2="1050.75" stroke="#444" stroke-width="1"/>
<text x="493.2" y="1066.05" class="tk2" text-anchor="middle">2</text>
<line x1="507.6" y1="1044.25" x2="507.6" y2="1050.75" stroke="#444" stroke-width="1"/>
<text x="507.6" y="1066.05" class="tk2" text-anchor="middle">3</text>
<line x1="519.25" y1="1044.25" x2="519.25" y2="1050.75" stroke="#444" stroke-width="1"/>
<line x1="532.4" y1="1044.25" x2="532.4" y2="1050.75" stroke="#444" stroke-width="1"/>
<text x="532.4" y="1066.05" class="tk2" text-anchor="middle">5</text>
<line x1="548.3" y1="1044.25" x2="548.3" y2="1050.75" stroke="#444" stroke-width="1"/>
<text x="548.3" y="1066.05" class="tk2" text-anchor="middle">6</text>
<line x1="563.0" y1="1044.25" x2="563.0" y2="1050.75" stroke="#444" stroke-width="1"/>
<text x="563.0" y="1066.05" class="tk2" text-anchor="middle">7</text>
<line x1="575.6" y1="1044.25" x2="575.6" y2="1050.75" stroke="#444" stroke-width="1"/>
<line x1="586.75" y1="1044.25" x2="586.75" y2="1050.75" stroke="#444" stroke-width="1"/>
<text x="586.75" y="1066.05" class="tk2" text-anchor="middle">9</text>
<line x1="598.4" y1="1044.25" x2="598.4" y2="1050.75" stroke="#444" stroke-width="1"/>
<line x1="612.4" y1="1044.25" x2="612.4" y2="1050.75" stroke="#444" stroke-width="1"/>
<text x="612.4" y="1066.05" class="tk2" text-anchor="middle">11</text>
<line x1="626.2" y1="1044.25" x2="626.2" y2="1050.75" stroke="#444" stroke-width="1"/>
<line x1="634.1" y1="1044.25" x2="634.1" y2="1050.75" stroke="#444" stroke-width="1"/>
<text x="634.1" y="1066.05" class="tk2" text-anchor="middle">13</text>
<line x1="639.15" y1="1044.25" x2="639.15" y2="1050.75" stroke="#444" stroke-width="1"/>
<line x1="647.25" y1="1044.25" x2="647.25" y2="1050.75" stroke="#444" stroke-width="1"/>
<line x1="659.1" y1="1044.25" x2="659.1" y2="1050.75" stroke="#444" stroke-width="1"/>
<text x="659.1" y="1066.05" class="tk2" text-anchor="middle">16</text>
<line x1="673.15" y1="1044.25" x2="673.15" y2="1050.75" stroke="#444" stroke-width="1"/>
<line x1="682.75" y1="1044.25" x2="682.75" y2="1050.75" stroke="#444" stroke-width="1"/>
<text x="682.75" y="1066.05" class="tk2" text-anchor="middle">18</text>
<line x1="693.85" y1="1044.25" x2="693.85" y2="1050.75" stroke="#444" stroke-width="1"/>
<line x1="707.8" y1="1044.25" x2="707.8" y2="1050.75" stroke="#444" stroke-width="1"/>
<text x="707.8" y="1066.05" class="tk2" text-anchor="middle">20</text>
<line x1="714.3" y1="1044.25" x2="714.3" y2="1050.75" stroke="#444" stroke-width="1"/>
<line x1="719.3" y1="1044.25" x2="719.3" y2="1050.75" stroke="#444" stroke-width="1"/>
<line x1="726.15" y1="1044.25" x2="726.15" y2="1050.75" stroke="#444" stroke-width="1"/>
<text x="726.15" y="1066.05" class="tk2" text-anchor="middle">X</text>
<text x="591.1" y="1090.75" class="xl" text-anchor="middle">Chromosome</text>
<text transform="translate(12,1112.4) scale(1,1.07)" class="lab">G.</text>
<text x="64.5" y="1135.2" class="gt">Seroprotection Baseline Enrichment Pathways</text>
<line x1="91.25" y1="1153" x2="91.25" y2="1515.3" stroke="#e4e5ea" stroke-width="1.2"/>
<line x1="153.70" y1="1153" x2="153.70" y2="1515.3" stroke="#e4e5ea" stroke-width="0.7"/>
<line x1="216.15" y1="1153" x2="216.15" y2="1515.3" stroke="#e4e5ea" stroke-width="1.2"/>
<line x1="278.60" y1="1153" x2="278.60" y2="1515.3" stroke="#e4e5ea" stroke-width="0.7"/>
<line x1="341.05" y1="1153" x2="341.05" y2="1515.3" stroke="#e4e5ea" stroke-width="1.2"/>
<line x1="403.50" y1="1153" x2="403.50" y2="1515.3" stroke="#e4e5ea" stroke-width="0.7"/>
<line x1="465.95" y1="1153" x2="465.95" y2="1515.3" stroke="#e4e5ea" stroke-width="1.2"/>
<line x1="528.40" y1="1153" x2="528.40" y2="1515.3" stroke="#e4e5ea" stroke-width="0.7"/>
<line x1="590.85" y1="1153" x2="590.85" y2="1515.3" stroke="#e4e5ea" stroke-width="1.2"/>
<line x1="653.30" y1="1153" x2="653.30" y2="1515.3" stroke="#e4e5ea" stroke-width="0.7"/>
<line x1="63.75" y1="1173.82" x2="669.8" y2="1173.82" stroke="#e4e5ea" stroke-width="1.1"/>
<line x1="63.75" y1="1209.42" x2="669.8" y2="1209.42" stroke="#e4e5ea" stroke-width="1.1"/>
<line x1="63.75" y1="1245.02" x2="669.8" y2="1245.02" stroke="#e4e5ea" stroke-width="1.1"/>
<line x1="63.75" y1="1280.62" x2="669.8" y2="1280.62" stroke="#e4e5ea" stroke-width="1.1"/>
<line x1="63.75" y1="1316.22" x2="669.8" y2="1316.22" stroke="#e4e5ea" stroke-width="1.1"/>
<line x1="63.75" y1="1351.82" x2="669.8" y2="1351.82" stroke="#e4e5ea" stroke-width="1.1"/>
<line x1="63.75" y1="1387.42" x2="669.8" y2="1387.42" stroke="#e4e5ea" stroke-width="1.1"/>
<line x1="63.75" y1="1423.02" x2="669.8" y2="1423.02" stroke="#e4e5ea" stroke-width="1.1"/>
<line x1="63.75" y1="1458.62" x2="669.8" y2="1458.62" stroke="#e4e5ea" stroke-width="1.1"/>
<line x1="63.75" y1="1494.22" x2="669.8" y2="1494.22" stroke="#e4e5ea" stroke-width="1.1"/>
<rect x="91.25" y="1157.80" width="551.35" height="32.04" fill="rgb(106, 189, 69)"/>
<rect x="91.25" y="1193.40" width="519.25" height="32.04" fill="rgb(114, 191, 68)"/>
<rect x="91.25" y="1229.00" width="509.15" height="32.04" fill="rgb(116, 191, 67)"/>
<rect x="91.25" y="1264.60" width="498.05" height="32.04" fill="rgb(119, 192, 67)"/>
<rect x="91.25" y="1300.20" width="477.85" height="32.04" fill="rgb(123, 193, 66)"/>
<rect x="91.25" y="1335.80" width="449.35" height="32.04" fill="rgb(130, 195, 65)"/>
<rect x="91.25" y="1371.40" width="404.75" height="32.04" fill="rgb(140, 198, 63)"/>
<rect x="91.25" y="1407.00" width="386.85" height="32.04" fill="rgb(145, 199, 62)"/>
<rect x="91.25" y="1442.60" width="331.75" height="32.04" fill="rgb(158, 202, 60)"/>
<rect x="91.25" y="1478.20" width="330.35" height="32.04" fill="rgb(158, 202, 60)"/>
<text x="91.6" y="1173.62" class="bl">Regulation Of Defense Response To Virus By Host (GO:0050691)</text>
<text x="91.6" y="1209.22" class="bl">Negative Regulation Of Type I Interferon Production (GO:0032480)</text>
<text x="91.6" y="1244.82" class="bl">Negative Regulation Of RIG−I Signaling Pathway (GO:0039536)</text>
<text x="91.6" y="1280.42" class="bl">Anterograde Trans−Synaptic Signaling (GO:0098916)</text>
<text x="91.6" y="1316.02" class="bl">Regulation Of Type I Interferon Production (GO:0032479)</text>
<text x="91.6" y="1351.62" class="bl">Negative Regulation Of Cytokine Production (GO:0001818)</text>
<text x="91.6" y="1387.22" class="bl">Regulation Of RIG−I Signaling Pathway (GO:0039535)</text>
<text x="91.6" y="1422.82" class="bl">Chemical Synaptic Transmission (GO:0007268)</text>
<text x="91.6" y="1458.42" class="bl">Negative Regulation Of Viral−Induced Cytoplasmic Pattern Recognition Receptor (GO:0039532)</text>
<text x="91.6" y="1494.02" class="bl">Regulation Of Organelle Organization (GO:0033043)</text>
<text x="91.25" y="1538.8" class="gx" text-anchor="middle">0</text>
<text x="216.15" y="1538.8" class="gx" text-anchor="middle">1</text>
<text x="341.05" y="1538.8" class="gx" text-anchor="middle">2</text>
<text x="465.95" y="1538.8" class="gx" text-anchor="middle">3</text>
<text x="590.85" y="1538.8" class="gx" text-anchor="middle">4</text>
<text x="366.8" y="1565.2" class="gxl" text-anchor="middle">−log10(P−value)</text>
</svg></body></html>
